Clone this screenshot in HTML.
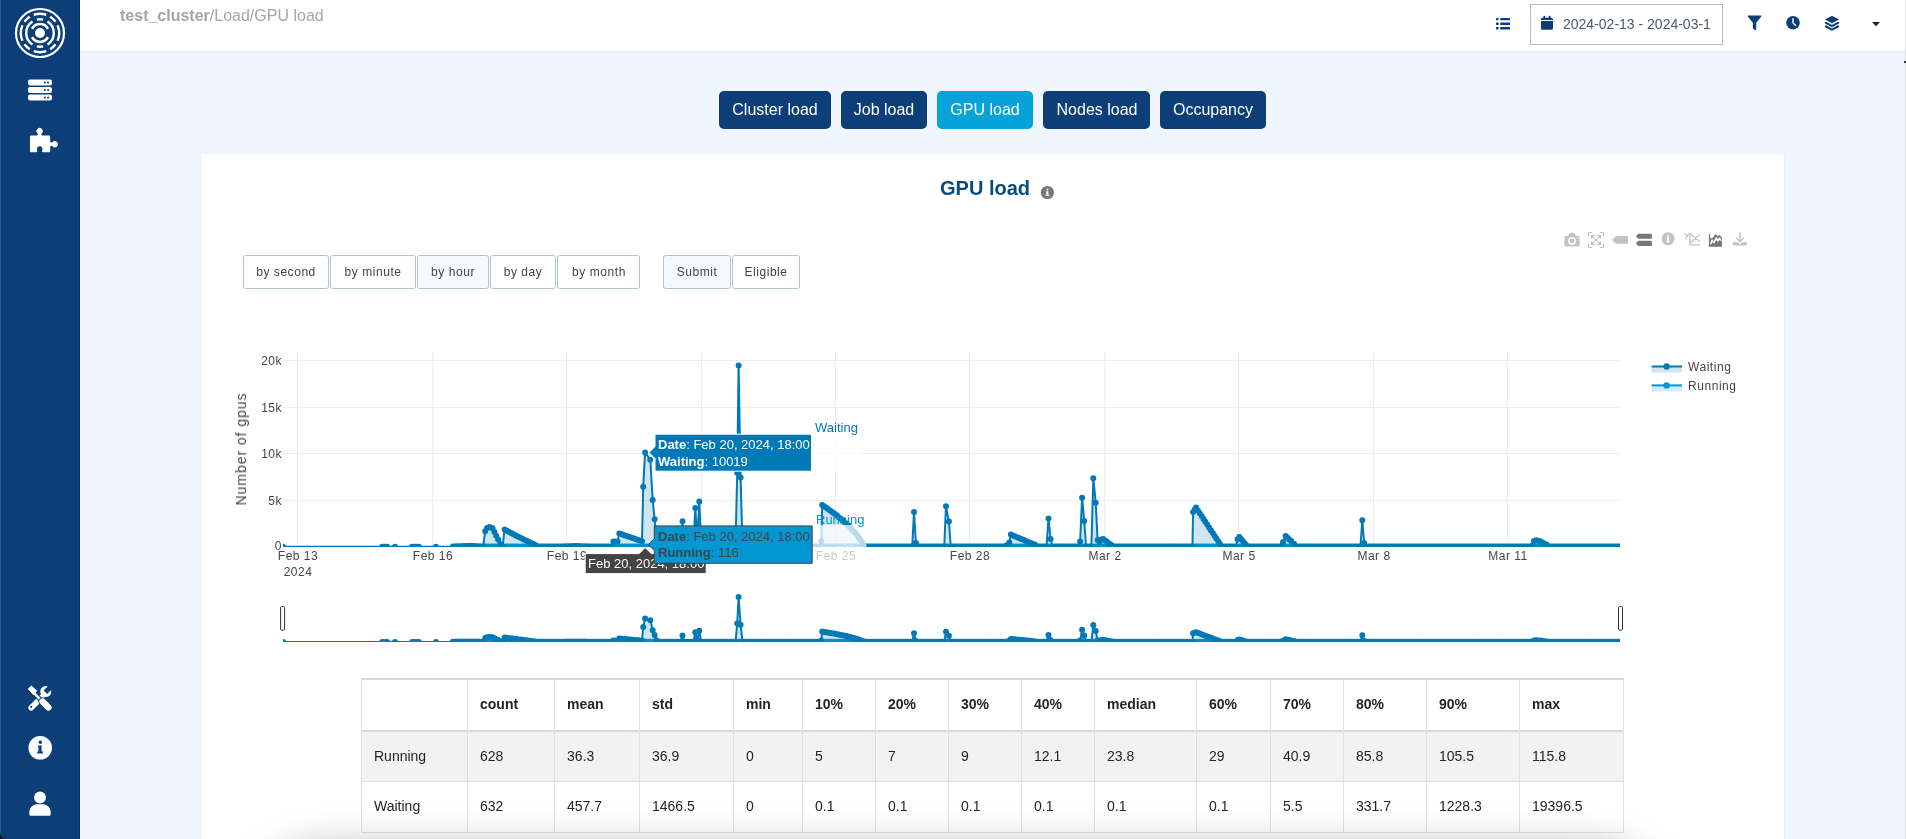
<!DOCTYPE html>
<html><head><meta charset="utf-8"><title>GPU load</title><style>
*{box-sizing:border-box;margin:0;padding:0}
html,body{width:1906px;height:839px;overflow:hidden;background:#eff6fe;font-family:"Liberation Sans", sans-serif}
.a{position:absolute;white-space:nowrap;will-change:transform}
b{font-weight:700}
</style></head><body>
<div class="a" style="left:0;top:829px;width:10px;height:10px;background:#111"></div>
<div class="a" style="left:0;top:0;width:80px;height:839px;background:#0c3e77;border-bottom-left-radius:6px"></div>
<div class="a" style="left:79px;top:0;width:1px;height:839px;background:#063170"></div>
<div class="a" style="left:0;top:0;width:1px;height:833px;background:#2b5a8e"></div>
<svg class="a" style="left:0;top:0" width="80" height="70"><g transform="translate(40,33)"><circle r="24" fill="none" stroke="#fff" stroke-width="2.2"/><path d="M-6.25,-18.15A19.2,19.2 0 0 1 6.25,-18.15M10.17,-16.28A19.2,19.2 0 0 1 15.53,-11.29M17.54,-7.81A19.2,19.2 0 0 1 17.54,7.81M15.53,11.29A19.2,19.2 0 0 1 10.17,16.28M6.25,18.15A19.2,19.2 0 0 1 -6.25,18.15M-10.17,16.28A19.2,19.2 0 0 1 -15.53,11.29M-17.54,7.81A19.2,19.2 0 0 1 -17.54,-7.81M-15.53,-11.29A19.2,19.2 0 0 1 -10.17,-16.28" fill="none" stroke="#fff" stroke-width="2.4"/><path d="M-3.10,-13.45A13.8,13.8 0 0 1 3.10,-13.45M7.52,-11.57A13.8,13.8 0 0 1 7.52,11.57M3.10,13.45A13.8,13.8 0 0 1 -3.10,13.45M-7.52,11.57A13.8,13.8 0 0 1 -7.52,-11.57" fill="none" stroke="#fff" stroke-width="2.4"/><path d="M-7.95,-4.23A9.0,9.0 0 0 1 7.95,-4.23M7.95,4.23A9.0,9.0 0 0 1 -7.95,4.23" fill="none" stroke="#fff" stroke-width="2.6"/><circle r="5" fill="#fff"/></g></svg>
<svg class="a" style="left:0;top:70px" width="80" height="40"><rect x="28" y="9.4" width="24" height="6.2" rx="2" fill="#fff"/><circle cx="44.8" cy="12.5" r="1" fill="#0c3e77"/><circle cx="48.1" cy="12.5" r="1" fill="#0c3e77"/><rect x="28" y="16.9" width="24" height="6.2" rx="2" fill="#fff"/><circle cx="44.8" cy="20.0" r="1" fill="#0c3e77"/><circle cx="48.1" cy="20.0" r="1" fill="#0c3e77"/><rect x="28" y="24.4" width="24" height="6.2" rx="2" fill="#fff"/><circle cx="44.8" cy="27.5" r="1" fill="#0c3e77"/><circle cx="48.1" cy="27.5" r="1" fill="#0c3e77"/></svg><svg class="a" style="left:0;top:120px" width="80" height="40"><path d="M30,16.5 Q30,15.6 31,15.6 L37,15.6 Q38.6,15.2 37.6,13.4 A3.1,3.1 0 1 1 41.6,13.4 Q40.6,15.2 42.2,15.6 L49.2,15.6 Q50.2,15.6 50.2,16.6 L50.2,21.6 Q50.6,23.2 52.4,22.2 A3.1,3.1 0 1 1 52.4,26.2 Q50.6,25.2 50.2,26.8 L50.2,31.2 Q50.2,32.2 49.2,32.2 L43,32.2 Q41.4,31.8 42.2,30.2 A2.8,2.8 0 1 0 37.2,30.2 Q38,31.8 36.4,32.2 L31,32.2 Q30,32.2 30,31.2 Z" fill="#fff"/></svg><svg class="a" style="left:0;top:680px" width="80" height="35"><line x1="41.5" y1="17.5" x2="31.2" y2="27.8" stroke="#fff" stroke-width="5.6" stroke-linecap="round"/><rect x="30.3" y="25.9" width="1.8" height="1.8" fill="#0c3e77"/><circle cx="45.8" cy="11.5" r="5.5" fill="#fff"/><path d="M43.6,10.5 L47.1,14 L52.7,8.4 L49.2,4.9 Z" fill="#0c3e77"/><line x1="34.5" y1="13.7" x2="41.5" y2="20.7" stroke="#0c3e77" stroke-width="4.6"/><line x1="34.5" y1="13.7" x2="41.5" y2="20.7" stroke="#fff" stroke-width="2.4"/><path d="M28.2,8.9 L31.3,6 L36.8,10.7 L33.6,14.8 Z" fill="#fff" stroke="#fff" stroke-width="0.8" stroke-linejoin="round"/><line x1="42.6" y1="21.6" x2="48.4" y2="27.4" stroke="#0c3e77" stroke-width="8.4" stroke-linecap="round"/><line x1="42.6" y1="21.6" x2="48.4" y2="27.4" stroke="#fff" stroke-width="6.4" stroke-linecap="round"/></svg><svg class="a" style="left:0;top:730px" width="80" height="35"><circle cx="40.2" cy="17.8" r="11.8" fill="#fff"/><circle cx="40.3" cy="12.3" r="1.7" fill="#0c3e77"/><path d="M38,15.4 h3.6 v6.2 h1.3 v1.9 h-5.6 v-1.9 h1.2 v-4.3 h-0.5 z" fill="#0c3e77"/></svg><svg class="a" style="left:0;top:785px" width="80" height="35"><circle cx="40" cy="12.5" r="5.9" fill="#fff"/><path d="M29.3,29.2 v-2.2 a7.8,7.8 0 0 1 7.8,-7.8 h5.8 a7.8,7.8 0 0 1 7.8,7.8 v2.2 q0,1.5 -1.5,1.5 h-18.4 q-1.5,0 -1.5,-1.5 z" fill="#fff"/></svg>
<div class="a" style="left:80px;top:0;width:1826px;height:51px;background:#fff"></div><div class="a" style="left:80px;top:51px;width:1826px;height:3px;background:linear-gradient(#e2e7ef,rgba(239,246,254,0))"></div><div class="a" style="left:120.30px;top:8.46px;font-size:16px;line-height:16px;color:#a6a6a6;"><b>test_cluster</b>/Load/GPU load</div><svg class="a" style="left:1490px;top:10px" width="30" height="30"><rect x="6" y="7.9" width="2.6" height="2.3" rx="0.6" fill="#0c3e77"/><rect x="10.2" y="7.9" width="9.8" height="2.3" rx="0.5" fill="#0c3e77"/><rect x="6" y="12.6" width="2.6" height="2.3" rx="0.6" fill="#0c3e77"/><rect x="10.2" y="12.6" width="9.8" height="2.3" rx="0.5" fill="#0c3e77"/><rect x="6" y="17.1" width="2.6" height="2.3" rx="0.6" fill="#0c3e77"/><rect x="10.2" y="17.1" width="9.8" height="2.3" rx="0.5" fill="#0c3e77"/></svg><div class="a" style="left:1530px;top:4px;width:193px;height:41px;border:1px solid #bcbcbc;background:#fff"></div><svg class="a" style="left:1535px;top:10px" width="25" height="25"><rect x="8.5" y="5.8" width="1.8" height="3" rx="0.6" fill="#0c3e77"/><rect x="13.7" y="5.8" width="1.8" height="3" rx="0.6" fill="#0c3e77"/><path d="M6,9.3 a1.5,1.5 0 0 1 1.5,-1.5 h9 a1.5,1.5 0 0 1 1.5,1.5 v0.7 h-12 z" fill="#0c3e77"/><path d="M6,10.9 h12 v7.3 a1.5,1.5 0 0 1 -1.5,1.5 h-9 a1.5,1.5 0 0 1 -1.5,-1.5 z" fill="#0c3e77"/></svg><div class="a" style="left:1562.50px;top:17.15px;font-size:14px;line-height:14px;color:#4e5a64;">2024-02-13 - 2024-03-1</div><svg class="a" style="left:1740px;top:10px" width="60" height="25"><path d="M7.3,5.5 h13.6 q1.1,0 0.4,1 l-5.1,6.3 v6.9 q0,1 -1,0.4 l-1.8,-1.2 q-0.5,-0.3 -0.5,-0.9 v-5.2 l-5.1,-6.3 q-0.7,-1 0.4,-1 z" fill="#0c3e77"/><circle cx="53" cy="12.8" r="6.8" fill="#0c3e77"/><path d="M53,8.6 v4.4 l2.6,2.2" stroke="#fff" stroke-width="1.4" fill="none" stroke-linecap="round"/></svg><svg class="a" style="left:1820px;top:10px" width="25" height="25"><path d="M12,5.7 l7,3.7 l-7,3.8 l-7,-3.8 z" fill="#0c3e77"/><path d="M5.2,12.4 l6.8,3.7 l6.8,-3.7" fill="none" stroke="#0c3e77" stroke-width="2.1" stroke-linejoin="round"/><path d="M5.2,16 l6.8,3.7 l6.8,-3.7" fill="none" stroke="#0c3e77" stroke-width="2.1" stroke-linejoin="round"/></svg><svg class="a" style="left:1868px;top:18px" width="16" height="12"><path d="M4,4 h8 l-4,4.2 z" fill="#222"/></svg><div class="a" style="left:1905px;top:0;width:1px;height:839px;background:#e2e2e2"></div>
<div class="a" style="left:719px;top:91px;width:112px;height:38px;border-radius:5px;background:#0c3e77"></div><div class="a" style="left:775.00px;top:101.56px;font-size:16px;line-height:16px;color:#fff;transform:translateX(-50%);">Cluster load</div><div class="a" style="left:841px;top:91px;width:86px;height:38px;border-radius:5px;background:#0c3e77"></div><div class="a" style="left:884.00px;top:101.56px;font-size:16px;line-height:16px;color:#fff;transform:translateX(-50%);">Job load</div><div class="a" style="left:937px;top:91px;width:96px;height:38px;border-radius:5px;background:#05a3d7"></div><div class="a" style="left:985.00px;top:101.56px;font-size:16px;line-height:16px;color:#fff;transform:translateX(-50%);">GPU load</div><div class="a" style="left:1043px;top:91px;width:107px;height:38px;border-radius:5px;background:#0c3e77"></div><div class="a" style="left:1096.50px;top:101.56px;font-size:16px;line-height:16px;color:#fff;transform:translateX(-50%);">Nodes load</div><div class="a" style="left:1160px;top:91px;width:106px;height:38px;border-radius:5px;background:#0c3e77"></div><div class="a" style="left:1213.00px;top:101.56px;font-size:16px;line-height:16px;color:#fff;transform:translateX(-50%);">Occupancy</div>
<div class="a" style="left:201px;top:154px;width:1583px;height:700px;background:#fff;box-shadow:0 0 1px rgba(160,180,220,0.35)"></div><div class="a" style="left:940.20px;top:178.17px;font-size:20px;line-height:20px;color:#0a4a7c;font-weight:700;">GPU load</div><svg class="a" style="left:1038px;top:183px" width="20" height="20"><circle cx="9.4" cy="9.5" r="6.6" fill="#777"/><circle cx="9.5" cy="6.4" r="1" fill="#fff"/><path d="M8.3,8.2 h2 v3.5 h0.8 v1.2 h-3.4 v-1.2 h0.8 v-2.3 h-0.2 z" fill="#fff"/></svg>
<svg class="a" style="left:1560px;top:228px" width="200" height="25"><path d="M6.00,7.70 h2.2 l1,-2 q0.3,-0.7 1,-0.7 h3.6 q0.7,0 1,0.7 l1,2 h2.2 q1.6,0 1.6,1.6 v7.7 q0,1.6 -1.6,1.6 h-12 q-1.6,0 -1.6,-1.6 v-7.7 q0,-1.6 1.6,-1.6 z" fill="#c4c4c4"/><circle cx="12" cy="12.900000000000006" r="3.9" fill="#fff"/><circle cx="12" cy="12.900000000000006" r="2.4" fill="#c4c4c4"/><circle cx="18" cy="9.699999999999989" r="0.6" fill="#fff"/><g transform="translate(28,4)" fill="none" stroke="#c4c4c4" stroke-width="1"><path d="M0.5,4 V0.5 H4 M12,0.5 H15.5 V4 M15.5,12 V15.5 H12 M4,15.5 H0.5 V12"/><path d="M3.5,3.5 L12.5,12.5 M12.5,3.5 L3.5,12.5"/></g><g transform="translate(28,4)" fill="#c4c4c4"><path d="M3,3 h4 l-4,4 z M13,3 v4 l-4,-4 z M13,13 h-4 l4,-4 z M3,13 v-4 l4,4 z"/></g><path d="M52.20,11.90 l3.8,-3.8 h12 v7.6 h-12 z" fill="#c4c4c4"/><path d="M75.80,8.30 l2.5,-2.5 h13.5 v4.9 h-13.5 z M75.80,15.30 l2.5,-2.5 h13.5 v5.2 h-13.5 z" fill="#777"/><circle cx="108.09999999999991" cy="10.800000000000011" r="6.5" fill="#c4c4c4"/><circle cx="108.20000000000005" cy="8" r="1" fill="#fff"/><path d="M107.00,9.60 h2 v3.6 h0.8 v1.1 h-3.5 v-1.1 h0.8 v-2.5 h-0.2 z" fill="#fff"/><g fill="none" stroke="#c4c4c4" stroke-width="1.3" stroke-linecap="round"><path d="M130.00,6.00 V16.80000000000001 H139.79999999999995 M130.50,6.00 L139.5999999999999,13.599999999999994 M130.50,15.00 L139.5999999999999,6.599999999999994"/><path d="M125.20,6.00 L127.29999999999995,8.400000000000006 M128.60,5.60 L126,10.800000000000011"/></g><path d="M148.90,18.70 V6 H150.0999999999999 V10 L151.5999999999999,10.599999999999994 L153.20000000000005,9.599999999999994 L154.5999999999999,7 L156,5.900000000000006 L157.5999999999999,8.400000000000006 L159.5,6.800000000000011 L161.9000000000001,9.599999999999994 V18.69999999999999 Z" fill="#777"/><path d="M150.60,16.20 L152.0999999999999,12.300000000000011 L154,14.599999999999994 L156.29999999999995,9.900000000000006 L157.9000000000001,13 L159.5999999999999,10.099999999999994 L161,12.599999999999994" fill="none" stroke="#fff" stroke-width="1.5" stroke-linejoin="round"/><path d="M179.90,4.00 V13.5 M176.00,9.80 l3.9,3.9 l3.9,-3.9" fill="none" stroke="#c4c4c4" stroke-width="1.4"/><path d="M172.90,14.30 h4.8 l2.2,2 l2.2,-2 h4.7 v3.3 h-13.9 z" fill="#c4c4c4"/></svg>
<svg class="a" style="left:0;top:0;overflow:visible" width="1" height="1"><rect x="243.5" y="255.5" width="85.0" height="33" rx="2" fill="#fff" stroke="#b3c2d7" stroke-width="1"/><rect x="330.5" y="255.5" width="85.0" height="33" rx="2" fill="#fff" stroke="#b3c2d7" stroke-width="1"/><rect x="417.5" y="255.5" width="71.0" height="33" rx="2" fill="#F4FAFF" stroke="#b3c2d7" stroke-width="1"/><rect x="490.5" y="255.5" width="65.0" height="33" rx="2" fill="#fff" stroke="#b3c2d7" stroke-width="1"/><rect x="557.5" y="255.5" width="82.0" height="33" rx="2" fill="#fff" stroke="#b3c2d7" stroke-width="1"/><rect x="663.5" y="255.5" width="67.0" height="33" rx="2" fill="#F4FAFF" stroke="#b3c2d7" stroke-width="1"/><rect x="732.5" y="255.5" width="67.0" height="33" rx="2" fill="#fff" stroke="#b3c2d7" stroke-width="1"/></svg><div class="a" style="left:286.00px;top:266.14px;font-size:12px;line-height:12px;color:#444;letter-spacing:0.55px;transform:translateX(-50%);">by second</div><div class="a" style="left:373.00px;top:266.14px;font-size:12px;line-height:12px;color:#444;letter-spacing:0.55px;transform:translateX(-50%);">by minute</div><div class="a" style="left:453.00px;top:266.14px;font-size:12px;line-height:12px;color:#444;letter-spacing:0.55px;transform:translateX(-50%);">by hour</div><div class="a" style="left:523.00px;top:266.14px;font-size:12px;line-height:12px;color:#444;letter-spacing:0.55px;transform:translateX(-50%);">by day</div><div class="a" style="left:598.50px;top:266.14px;font-size:12px;line-height:12px;color:#444;letter-spacing:0.55px;transform:translateX(-50%);">by month</div><div class="a" style="left:697.00px;top:266.14px;font-size:12px;line-height:12px;color:#444;letter-spacing:0.55px;transform:translateX(-50%);">Submit</div><div class="a" style="left:766.00px;top:266.14px;font-size:12px;line-height:12px;color:#444;letter-spacing:0.55px;transform:translateX(-50%);">Eligible</div>
<svg class="a" style="left:0;top:0" width="1906" height="839"><defs><clipPath id="pc"><rect x="283" y="352" width="1337" height="195"/></clipPath><clipPath id="rc"><rect x="283" y="592" width="1337" height="49.9"/></clipPath></defs><path d="M283,360.5H1620M283,407.5H1620M283,453.5H1620M283,500.5H1620M297.5,352V547M432.5,352V547M566.5,352V547M701.5,352V547M835.5,352V547M969.5,352V547M1104.5,352V547M1238.5,352V547M1373.5,352V547M1507.5,352V547" stroke="#eee" stroke-width="1" fill="none"/><g clip-path="url(#pc)"><path d="M453.0,546.4 L454.9,546.4 L456.7,546.4 L458.6,546.4 L460.5,546.4 L462.3,546.4 L464.2,546.4 L466.1,546.4 L467.9,546.4 L469.8,546.4 L471.7,546.4 L473.5,546.4 L475.4,546.4 L477.3,546.4 L479.2,546.4 L481.0,546.4 L482.9,546.4 L484.8,546.4 L486.6,546.4 L488.5,546.4 L490.4,546.4 L492.2,546.4 L494.1,546.4 L496.0,546.4 L497.8,546.4 L499.7,546.4 L501.6,546.4 L503.4,546.4 L505.3,546.4 L507.2,546.4 L509.0,546.4 L510.9,546.4 L512.8,546.4 L514.6,546.4 L516.5,546.4 L518.4,546.4 L520.2,546.4 L522.1,546.4 L524.0,546.4 L525.9,546.4 L527.7,546.4 L529.6,546.4 L531.5,546.4 L533.3,546.4 L535.2,546.4 L537.1,546.4 L538.9,546.4 L540.8,546.4 L542.7,546.4 L544.5,546.4 L546.4,546.4 L548.3,546.4 L550.1,546.4 L552.0,546.4 L553.9,546.4 L555.7,546.4 L557.6,546.4 L559.5,546.4 L561.3,546.4 L563.2,546.4 L565.1,546.4 L566.9,546.4 L568.8,546.4 L570.7,546.4 L572.6,546.4 L574.4,546.4 L576.3,546.4 L578.2,546.4 L580.0,546.4 L581.9,546.4 L583.8,546.4 L585.6,546.4 L587.5,546.4 L589.4,546.4 L591.2,546.4 L593.1,546.4 L595.0,546.4 L596.8,546.4 L598.7,546.4 L600.6,546.4 L602.4,546.4 L604.3,546.4 L606.2,546.4 L608.0,546.4 L609.9,546.4 L611.8,546.4 L613.6,546.4 L615.5,546.4 L617.4,546.4 L619.3,546.4 L621.1,546.4 L623.0,546.4 L624.9,546.4 L626.7,546.4 L628.6,546.4 L630.5,546.4 L632.3,546.4 L634.2,546.4 L636.1,546.4 L637.9,546.4 L639.8,546.4 L641.7,546.4 L643.5,546.4 L645.4,546.4 L647.3,546.4 L649.1,546.4 L651.0,546.4 L652.9,546.4 L654.7,546.4 L656.6,546.4 L658.5,546.4 L660.3,546.4 L662.2,546.4 L664.1,546.4 L666.0,546.4 L667.8,546.4 L669.7,546.4 L671.6,546.4 L673.4,546.4 L675.3,546.4 L677.2,546.4 L679.0,546.4 L680.9,546.4 L682.8,546.4 L684.6,546.4 L686.5,546.4 L688.4,546.4 L690.2,546.4 L692.1,546.4 L694.0,546.4 L695.8,546.4 L697.7,546.4 L699.6,546.4 L701.4,546.4 L703.3,546.4 L705.2,546.4 L707.0,546.4 L708.9,546.4 L710.8,546.4 L712.7,546.4 L714.5,546.4 L716.4,546.4 L718.3,546.4 L720.1,546.4 L722.0,546.4 L723.9,546.4 L725.7,546.4 L727.6,546.4 L729.5,546.4 L731.3,546.4 L733.2,546.4 L735.1,546.4 L736.9,546.4 L738.8,546.4 L740.7,546.4 L742.5,546.4 L744.4,546.4 L746.3,546.4 L748.1,546.4 L750.0,546.4 L751.9,546.4 L753.7,546.4 L755.6,546.4 L757.5,546.4 L759.4,546.4 L761.2,546.4 L763.1,546.4 L765.0,546.4 L766.8,546.4 L768.7,546.4 L770.6,546.4 L772.4,546.4 L774.3,546.4 L776.2,546.4 L778.0,546.4 L779.9,546.4 L781.8,546.4 L783.6,546.4 L785.5,546.4 L787.4,546.4 L789.2,546.4 L791.1,546.4 L793.0,546.4 L794.8,546.4 L796.7,546.4 L798.6,546.4 L800.4,546.4 L802.3,546.4 L804.2,546.4 L806.1,546.4 L807.9,546.4 L809.8,546.4 L811.7,546.4 L813.5,546.4 L815.4,546.4 L817.3,546.4 L819.1,546.4 L821.0,546.4 L822.9,546.4 L824.7,546.4 L826.6,546.4 L828.5,546.4 L830.3,546.4 L832.2,546.4 L834.1,546.4 L835.9,546.4 L837.8,546.4 L839.7,546.4 L841.5,546.4 L843.4,546.4 L845.3,546.4 L847.1,546.4 L849.0,546.4 L850.9,546.4 L852.8,546.4 L854.6,546.4 L856.5,546.4 L858.4,546.4 L860.2,546.4 L862.1,546.4 L864.0,546.4 L865.8,546.4 L867.7,546.4 L869.6,546.4 L871.4,546.4 L873.3,546.4 L875.2,546.4 L877.0,546.4 L878.9,546.4 L880.8,546.4 L882.6,546.4 L884.5,546.4 L886.4,546.4 L888.2,546.4 L890.1,546.4 L892.0,546.4 L893.8,546.4 L895.7,546.4 L897.6,546.4 L899.5,546.4 L901.3,546.4 L903.2,546.4 L905.1,546.4 L906.9,546.4 L908.8,546.4 L910.7,546.4 L912.5,546.4 L914.4,546.4 L916.3,546.4 L918.1,546.4 L920.0,546.4 L921.9,546.4 L923.7,546.4 L925.6,546.4 L927.5,546.4 L929.3,546.4 L931.2,546.4 L933.1,546.4 L934.9,546.4 L936.8,546.4 L938.7,546.4 L940.5,546.4 L942.4,546.4 L944.3,546.4 L946.2,546.4 L948.0,546.4 L949.9,546.4 L951.8,546.4 L953.6,546.4 L955.5,546.4 L957.4,546.4 L959.2,546.4 L961.1,546.4 L963.0,546.4 L964.8,546.4 L966.7,546.4 L968.6,546.4 L970.4,546.4 L972.3,546.4 L974.2,546.4 L976.0,546.4 L977.9,546.4 L979.8,546.4 L981.6,546.4 L983.5,546.4 L985.4,546.4 L987.2,546.4 L989.1,546.4 L991.0,546.4 L992.9,546.4 L994.7,546.4 L996.6,546.4 L998.5,546.4 L1000.3,546.4 L1002.2,546.4 L1004.1,546.4 L1005.9,546.4 L1007.8,546.4 L1009.7,546.4 L1011.5,546.4 L1013.4,546.4 L1015.3,546.4 L1017.1,546.4 L1019.0,546.4 L1020.9,546.4 L1022.7,546.4 L1024.6,546.4 L1026.5,546.4 L1028.3,546.4 L1030.2,546.4 L1032.1,546.4 L1033.9,546.4 L1035.8,546.4 L1037.7,546.4 L1039.6,546.4 L1041.4,546.4 L1043.3,546.4 L1045.2,546.4 L1047.0,546.4 L1048.9,546.4 L1050.8,546.4 L1052.6,546.4 L1054.5,546.4 L1056.4,546.4 L1058.2,546.4 L1060.1,546.4 L1062.0,546.4 L1063.8,546.4 L1065.7,546.4 L1067.6,546.4 L1069.4,546.4 L1071.3,546.4 L1073.2,546.4 L1075.0,546.4 L1076.9,546.4 L1078.8,546.4 L1080.6,546.4 L1082.5,546.4 L1084.4,546.4 L1086.3,546.4 L1088.1,546.4 L1090.0,546.4 L1091.9,546.4 L1093.7,546.4 L1095.6,546.4 L1097.5,546.4 L1099.3,546.4 L1101.2,546.4 L1103.1,546.4 L1104.9,546.4 L1106.8,546.4 L1108.7,546.4 L1110.5,546.4 L1112.4,546.4 L1114.3,546.4 L1116.1,546.4 L1118.0,546.4 L1119.9,546.4 L1121.7,546.4 L1123.6,546.4 L1125.5,546.4 L1127.3,546.4 L1129.2,546.4 L1131.1,546.4 L1133.0,546.4 L1134.8,546.4 L1136.7,546.4 L1138.6,546.4 L1140.4,546.4 L1142.3,546.4 L1144.2,546.4 L1146.0,546.4 L1147.9,546.4 L1149.8,546.4 L1151.6,546.4 L1153.5,546.4 L1155.4,546.4 L1157.2,546.4 L1159.1,546.4 L1161.0,546.4 L1162.8,546.4 L1164.7,546.4 L1166.6,546.4 L1168.4,546.4 L1170.3,546.4 L1172.2,546.4 L1174.0,546.4 L1175.9,546.4 L1177.8,546.4 L1179.7,546.4 L1181.5,546.4 L1183.4,546.4 L1185.3,546.4 L1187.1,546.4 L1189.0,546.4 L1190.9,546.4 L1192.7,546.4 L1194.6,546.4 L1196.5,546.4 L1198.3,546.4 L1200.2,546.4 L1202.1,546.4 L1203.9,546.4 L1205.8,546.4 L1207.7,546.4 L1209.5,546.4 L1211.4,546.4 L1213.3,546.4 L1215.1,546.4 L1217.0,546.4 L1218.9,546.4 L1220.7,546.4 L1222.6,546.4 L1224.5,546.4 L1226.4,546.4 L1228.2,546.4 L1230.1,546.4 L1232.0,546.4 L1233.8,546.4 L1235.7,546.4 L1237.6,546.4 L1239.4,546.4 L1241.3,546.4 L1243.2,546.4 L1245.0,546.4 L1246.9,546.4 L1248.8,546.4 L1250.6,546.4 L1252.5,546.4 L1254.4,546.4 L1256.2,546.4 L1258.1,546.4 L1260.0,546.4 L1261.8,546.4 L1263.7,546.4 L1265.6,546.4 L1267.4,546.4 L1269.3,546.4 L1271.2,546.4 L1273.1,546.4 L1274.9,546.4 L1276.8,546.4 L1278.7,546.4 L1280.5,546.4 L1282.4,546.4 L1284.3,546.4 L1286.1,546.4 L1288.0,546.4 L1289.9,546.4 L1291.7,546.4 L1293.6,546.4 L1295.5,546.4 L1297.3,546.4 L1299.2,546.4 L1301.1,546.4 L1302.9,546.4 L1304.8,546.4 L1306.7,546.4 L1308.5,546.4 L1310.4,546.4 L1312.3,546.4 L1314.1,546.4 L1316.0,546.4 L1317.9,546.4 L1319.8,546.4 L1321.6,546.4 L1323.5,546.4 L1325.4,546.4 L1327.2,546.4 L1329.1,546.4 L1331.0,546.4 L1332.8,546.4 L1334.7,546.4 L1336.6,546.4 L1338.4,546.4 L1340.3,546.4 L1342.2,546.4 L1344.0,546.4 L1345.9,546.4 L1347.8,546.4 L1349.6,546.4 L1351.5,546.4 L1353.4,546.4 L1355.2,546.4 L1357.1,546.4 L1359.0,546.4 L1360.8,546.4 L1362.7,546.4 L1364.6,546.4 L1366.5,546.4 L1368.3,546.4 L1370.2,546.4 L1372.1,546.4 L1373.9,546.4 L1375.8,546.4 L1377.7,546.4 L1379.5,546.4 L1381.4,546.4 L1383.3,546.4 L1385.1,546.4 L1387.0,546.4 L1388.9,546.4 L1390.7,546.4 L1392.6,546.4 L1394.5,546.4 L1396.3,546.4 L1398.2,546.4 L1400.1,546.4 L1401.9,546.4 L1403.8,546.4 L1405.7,546.4 L1407.5,546.4 L1409.4,546.4 L1411.3,546.4 L1413.2,546.4 L1415.0,546.4 L1416.9,546.4 L1418.8,546.4 L1420.6,546.4 L1422.5,546.4 L1424.4,546.4 L1426.2,546.4 L1428.1,546.4 L1430.0,546.4 L1431.8,546.4 L1433.7,546.4 L1435.6,546.4 L1437.4,546.4 L1439.3,546.4 L1441.2,546.4 L1443.0,546.4 L1444.9,546.4 L1446.8,546.4 L1448.6,546.4 L1450.5,546.4 L1452.4,546.4 L1454.2,546.4 L1456.1,546.4 L1458.0,546.4 L1459.9,546.4 L1461.7,546.4 L1463.6,546.4 L1465.5,546.4 L1467.3,546.4 L1469.2,546.4 L1471.1,546.4 L1472.9,546.4 L1474.8,546.4 L1476.7,546.4 L1478.5,546.4 L1480.4,546.4 L1482.3,546.4 L1484.1,546.4 L1486.0,546.4 L1487.9,546.4 L1489.7,546.4 L1491.6,546.4 L1493.5,546.4 L1495.3,546.4 L1497.2,546.4 L1499.1,546.4 L1500.9,546.4 L1502.8,546.4 L1504.7,546.4 L1506.6,546.4 L1508.4,546.4 L1510.3,546.4 L1512.2,546.4 L1514.0,546.4 L1515.9,546.4 L1517.8,546.4 L1519.6,546.4 L1521.5,546.4 L1523.4,546.4 L1525.2,546.4 L1527.1,546.4 L1529.0,546.4 L1530.8,546.4 L1532.7,546.4 L1534.6,546.4 L1536.4,546.4 L1538.3,546.4 L1540.2,546.4 L1542.0,546.4 L1543.9,546.4 L1545.8,546.4 L1547.6,546.4 L1549.5,546.4 L1551.4,546.4 L1553.3,546.4 L1555.1,546.4 L1557.0,546.4 L1558.9,546.4 L1560.7,546.4 L1562.6,546.4 L1564.5,546.4 L1566.3,546.4 L1568.2,546.4 L1570.1,546.4 L1571.9,546.4 L1573.8,546.4 L1575.7,546.4 L1577.5,546.4 L1579.4,546.4 L1581.3,546.4 L1583.1,546.4 L1585.0,546.4 L1586.9,546.4 L1588.7,546.4 L1590.6,546.4 L1592.5,546.4 L1594.3,546.4 L1596.2,546.4 L1598.1,546.4 L1600.0,546.4 L1601.8,546.4 L1603.7,546.4 L1605.6,546.4 L1607.4,546.4 L1609.3,546.4 L1611.2,546.4 L1613.0,546.4 L1614.9,546.4 L1616.8,546.4 L1618.6,546.4 L1620.0,546.4 L1620.0,546.8 L453.0,546.8 Z" fill="rgba(0,151,211,0.19)" stroke="none"/><path d="M453.0,546.4 L454.9,546.4 L456.7,546.4 L458.6,546.4 L460.5,546.4 L462.3,546.4 L464.2,546.4 L466.1,546.4 L467.9,546.4 L469.8,546.4 L471.7,546.4 L473.5,546.4 L475.4,546.4 L477.3,546.4 L479.2,546.4 L481.0,546.4 L482.9,546.4 L484.8,546.4 L486.6,546.4 L488.5,546.4 L490.4,546.4 L492.2,546.4 L494.1,546.4 L496.0,546.4 L497.8,546.4 L499.7,546.4 L501.6,546.4 L503.4,546.4 L505.3,546.4 L507.2,546.4 L509.0,546.4 L510.9,546.4 L512.8,546.4 L514.6,546.4 L516.5,546.4 L518.4,546.4 L520.2,546.4 L522.1,546.4 L524.0,546.4 L525.9,546.4 L527.7,546.4 L529.6,546.4 L531.5,546.4 L533.3,546.4 L535.2,546.4 L537.1,546.4 L538.9,546.4 L540.8,546.4 L542.7,546.4 L544.5,546.4 L546.4,546.4 L548.3,546.4 L550.1,546.4 L552.0,546.4 L553.9,546.4 L555.7,546.4 L557.6,546.4 L559.5,546.4 L561.3,546.4 L563.2,546.4 L565.1,546.4 L566.9,546.4 L568.8,546.4 L570.7,546.4 L572.6,546.4 L574.4,546.4 L576.3,546.4 L578.2,546.4 L580.0,546.4 L581.9,546.4 L583.8,546.4 L585.6,546.4 L587.5,546.4 L589.4,546.4 L591.2,546.4 L593.1,546.4 L595.0,546.4 L596.8,546.4 L598.7,546.4 L600.6,546.4 L602.4,546.4 L604.3,546.4 L606.2,546.4 L608.0,546.4 L609.9,546.4 L611.8,546.4 L613.6,546.4 L615.5,546.4 L617.4,546.4 L619.3,546.4 L621.1,546.4 L623.0,546.4 L624.9,546.4 L626.7,546.4 L628.6,546.4 L630.5,546.4 L632.3,546.4 L634.2,546.4 L636.1,546.4 L637.9,546.4 L639.8,546.4 L641.7,546.4 L643.5,546.4 L645.4,546.4 L647.3,546.4 L649.1,546.4 L651.0,546.4 L652.9,546.4 L654.7,546.4 L656.6,546.4 L658.5,546.4 L660.3,546.4 L662.2,546.4 L664.1,546.4 L666.0,546.4 L667.8,546.4 L669.7,546.4 L671.6,546.4 L673.4,546.4 L675.3,546.4 L677.2,546.4 L679.0,546.4 L680.9,546.4 L682.8,546.4 L684.6,546.4 L686.5,546.4 L688.4,546.4 L690.2,546.4 L692.1,546.4 L694.0,546.4 L695.8,546.4 L697.7,546.4 L699.6,546.4 L701.4,546.4 L703.3,546.4 L705.2,546.4 L707.0,546.4 L708.9,546.4 L710.8,546.4 L712.7,546.4 L714.5,546.4 L716.4,546.4 L718.3,546.4 L720.1,546.4 L722.0,546.4 L723.9,546.4 L725.7,546.4 L727.6,546.4 L729.5,546.4 L731.3,546.4 L733.2,546.4 L735.1,546.4 L736.9,546.4 L738.8,546.4 L740.7,546.4 L742.5,546.4 L744.4,546.4 L746.3,546.4 L748.1,546.4 L750.0,546.4 L751.9,546.4 L753.7,546.4 L755.6,546.4 L757.5,546.4 L759.4,546.4 L761.2,546.4 L763.1,546.4 L765.0,546.4 L766.8,546.4 L768.7,546.4 L770.6,546.4 L772.4,546.4 L774.3,546.4 L776.2,546.4 L778.0,546.4 L779.9,546.4 L781.8,546.4 L783.6,546.4 L785.5,546.4 L787.4,546.4 L789.2,546.4 L791.1,546.4 L793.0,546.4 L794.8,546.4 L796.7,546.4 L798.6,546.4 L800.4,546.4 L802.3,546.4 L804.2,546.4 L806.1,546.4 L807.9,546.4 L809.8,546.4 L811.7,546.4 L813.5,546.4 L815.4,546.4 L817.3,546.4 L819.1,546.4 L821.0,546.4 L822.9,546.4 L824.7,546.4 L826.6,546.4 L828.5,546.4 L830.3,546.4 L832.2,546.4 L834.1,546.4 L835.9,546.4 L837.8,546.4 L839.7,546.4 L841.5,546.4 L843.4,546.4 L845.3,546.4 L847.1,546.4 L849.0,546.4 L850.9,546.4 L852.8,546.4 L854.6,546.4 L856.5,546.4 L858.4,546.4 L860.2,546.4 L862.1,546.4 L864.0,546.4 L865.8,546.4 L867.7,546.4 L869.6,546.4 L871.4,546.4 L873.3,546.4 L875.2,546.4 L877.0,546.4 L878.9,546.4 L880.8,546.4 L882.6,546.4 L884.5,546.4 L886.4,546.4 L888.2,546.4 L890.1,546.4 L892.0,546.4 L893.8,546.4 L895.7,546.4 L897.6,546.4 L899.5,546.4 L901.3,546.4 L903.2,546.4 L905.1,546.4 L906.9,546.4 L908.8,546.4 L910.7,546.4 L912.5,546.4 L914.4,546.4 L916.3,546.4 L918.1,546.4 L920.0,546.4 L921.9,546.4 L923.7,546.4 L925.6,546.4 L927.5,546.4 L929.3,546.4 L931.2,546.4 L933.1,546.4 L934.9,546.4 L936.8,546.4 L938.7,546.4 L940.5,546.4 L942.4,546.4 L944.3,546.4 L946.2,546.4 L948.0,546.4 L949.9,546.4 L951.8,546.4 L953.6,546.4 L955.5,546.4 L957.4,546.4 L959.2,546.4 L961.1,546.4 L963.0,546.4 L964.8,546.4 L966.7,546.4 L968.6,546.4 L970.4,546.4 L972.3,546.4 L974.2,546.4 L976.0,546.4 L977.9,546.4 L979.8,546.4 L981.6,546.4 L983.5,546.4 L985.4,546.4 L987.2,546.4 L989.1,546.4 L991.0,546.4 L992.9,546.4 L994.7,546.4 L996.6,546.4 L998.5,546.4 L1000.3,546.4 L1002.2,546.4 L1004.1,546.4 L1005.9,546.4 L1007.8,546.4 L1009.7,546.4 L1011.5,546.4 L1013.4,546.4 L1015.3,546.4 L1017.1,546.4 L1019.0,546.4 L1020.9,546.4 L1022.7,546.4 L1024.6,546.4 L1026.5,546.4 L1028.3,546.4 L1030.2,546.4 L1032.1,546.4 L1033.9,546.4 L1035.8,546.4 L1037.7,546.4 L1039.6,546.4 L1041.4,546.4 L1043.3,546.4 L1045.2,546.4 L1047.0,546.4 L1048.9,546.4 L1050.8,546.4 L1052.6,546.4 L1054.5,546.4 L1056.4,546.4 L1058.2,546.4 L1060.1,546.4 L1062.0,546.4 L1063.8,546.4 L1065.7,546.4 L1067.6,546.4 L1069.4,546.4 L1071.3,546.4 L1073.2,546.4 L1075.0,546.4 L1076.9,546.4 L1078.8,546.4 L1080.6,546.4 L1082.5,546.4 L1084.4,546.4 L1086.3,546.4 L1088.1,546.4 L1090.0,546.4 L1091.9,546.4 L1093.7,546.4 L1095.6,546.4 L1097.5,546.4 L1099.3,546.4 L1101.2,546.4 L1103.1,546.4 L1104.9,546.4 L1106.8,546.4 L1108.7,546.4 L1110.5,546.4 L1112.4,546.4 L1114.3,546.4 L1116.1,546.4 L1118.0,546.4 L1119.9,546.4 L1121.7,546.4 L1123.6,546.4 L1125.5,546.4 L1127.3,546.4 L1129.2,546.4 L1131.1,546.4 L1133.0,546.4 L1134.8,546.4 L1136.7,546.4 L1138.6,546.4 L1140.4,546.4 L1142.3,546.4 L1144.2,546.4 L1146.0,546.4 L1147.9,546.4 L1149.8,546.4 L1151.6,546.4 L1153.5,546.4 L1155.4,546.4 L1157.2,546.4 L1159.1,546.4 L1161.0,546.4 L1162.8,546.4 L1164.7,546.4 L1166.6,546.4 L1168.4,546.4 L1170.3,546.4 L1172.2,546.4 L1174.0,546.4 L1175.9,546.4 L1177.8,546.4 L1179.7,546.4 L1181.5,546.4 L1183.4,546.4 L1185.3,546.4 L1187.1,546.4 L1189.0,546.4 L1190.9,546.4 L1192.7,546.4 L1194.6,546.4 L1196.5,546.4 L1198.3,546.4 L1200.2,546.4 L1202.1,546.4 L1203.9,546.4 L1205.8,546.4 L1207.7,546.4 L1209.5,546.4 L1211.4,546.4 L1213.3,546.4 L1215.1,546.4 L1217.0,546.4 L1218.9,546.4 L1220.7,546.4 L1222.6,546.4 L1224.5,546.4 L1226.4,546.4 L1228.2,546.4 L1230.1,546.4 L1232.0,546.4 L1233.8,546.4 L1235.7,546.4 L1237.6,546.4 L1239.4,546.4 L1241.3,546.4 L1243.2,546.4 L1245.0,546.4 L1246.9,546.4 L1248.8,546.4 L1250.6,546.4 L1252.5,546.4 L1254.4,546.4 L1256.2,546.4 L1258.1,546.4 L1260.0,546.4 L1261.8,546.4 L1263.7,546.4 L1265.6,546.4 L1267.4,546.4 L1269.3,546.4 L1271.2,546.4 L1273.1,546.4 L1274.9,546.4 L1276.8,546.4 L1278.7,546.4 L1280.5,546.4 L1282.4,546.4 L1284.3,546.4 L1286.1,546.4 L1288.0,546.4 L1289.9,546.4 L1291.7,546.4 L1293.6,546.4 L1295.5,546.4 L1297.3,546.4 L1299.2,546.4 L1301.1,546.4 L1302.9,546.4 L1304.8,546.4 L1306.7,546.4 L1308.5,546.4 L1310.4,546.4 L1312.3,546.4 L1314.1,546.4 L1316.0,546.4 L1317.9,546.4 L1319.8,546.4 L1321.6,546.4 L1323.5,546.4 L1325.4,546.4 L1327.2,546.4 L1329.1,546.4 L1331.0,546.4 L1332.8,546.4 L1334.7,546.4 L1336.6,546.4 L1338.4,546.4 L1340.3,546.4 L1342.2,546.4 L1344.0,546.4 L1345.9,546.4 L1347.8,546.4 L1349.6,546.4 L1351.5,546.4 L1353.4,546.4 L1355.2,546.4 L1357.1,546.4 L1359.0,546.4 L1360.8,546.4 L1362.7,546.4 L1364.6,546.4 L1366.5,546.4 L1368.3,546.4 L1370.2,546.4 L1372.1,546.4 L1373.9,546.4 L1375.8,546.4 L1377.7,546.4 L1379.5,546.4 L1381.4,546.4 L1383.3,546.4 L1385.1,546.4 L1387.0,546.4 L1388.9,546.4 L1390.7,546.4 L1392.6,546.4 L1394.5,546.4 L1396.3,546.4 L1398.2,546.4 L1400.1,546.4 L1401.9,546.4 L1403.8,546.4 L1405.7,546.4 L1407.5,546.4 L1409.4,546.4 L1411.3,546.4 L1413.2,546.4 L1415.0,546.4 L1416.9,546.4 L1418.8,546.4 L1420.6,546.4 L1422.5,546.4 L1424.4,546.4 L1426.2,546.4 L1428.1,546.4 L1430.0,546.4 L1431.8,546.4 L1433.7,546.4 L1435.6,546.4 L1437.4,546.4 L1439.3,546.4 L1441.2,546.4 L1443.0,546.4 L1444.9,546.4 L1446.8,546.4 L1448.6,546.4 L1450.5,546.4 L1452.4,546.4 L1454.2,546.4 L1456.1,546.4 L1458.0,546.4 L1459.9,546.4 L1461.7,546.4 L1463.6,546.4 L1465.5,546.4 L1467.3,546.4 L1469.2,546.4 L1471.1,546.4 L1472.9,546.4 L1474.8,546.4 L1476.7,546.4 L1478.5,546.4 L1480.4,546.4 L1482.3,546.4 L1484.1,546.4 L1486.0,546.4 L1487.9,546.4 L1489.7,546.4 L1491.6,546.4 L1493.5,546.4 L1495.3,546.4 L1497.2,546.4 L1499.1,546.4 L1500.9,546.4 L1502.8,546.4 L1504.7,546.4 L1506.6,546.4 L1508.4,546.4 L1510.3,546.4 L1512.2,546.4 L1514.0,546.4 L1515.9,546.4 L1517.8,546.4 L1519.6,546.4 L1521.5,546.4 L1523.4,546.4 L1525.2,546.4 L1527.1,546.4 L1529.0,546.4 L1530.8,546.4 L1532.7,546.4 L1534.6,546.4 L1536.4,546.4 L1538.3,546.4 L1540.2,546.4 L1542.0,546.4 L1543.9,546.4 L1545.8,546.4 L1547.6,546.4 L1549.5,546.4 L1551.4,546.4 L1553.3,546.4 L1555.1,546.4 L1557.0,546.4 L1558.9,546.4 L1560.7,546.4 L1562.6,546.4 L1564.5,546.4 L1566.3,546.4 L1568.2,546.4 L1570.1,546.4 L1571.9,546.4 L1573.8,546.4 L1575.7,546.4 L1577.5,546.4 L1579.4,546.4 L1581.3,546.4 L1583.1,546.4 L1585.0,546.4 L1586.9,546.4 L1588.7,546.4 L1590.6,546.4 L1592.5,546.4 L1594.3,546.4 L1596.2,546.4 L1598.1,546.4 L1600.0,546.4 L1601.8,546.4 L1603.7,546.4 L1605.6,546.4 L1607.4,546.4 L1609.3,546.4 L1611.2,546.4 L1613.0,546.4 L1614.9,546.4 L1616.8,546.4 L1618.6,546.4 L1620.0,546.4" fill="none" stroke="#0097d3" stroke-width="2.0" stroke-linejoin="round"/><path d="M453.0,546.4h0M454.9,546.4h0M456.7,546.4h0M458.6,546.4h0M460.5,546.4h0M462.3,546.4h0M464.2,546.4h0M466.1,546.4h0M467.9,546.4h0M469.8,546.4h0M471.7,546.4h0M473.5,546.4h0M475.4,546.4h0M477.3,546.4h0M479.2,546.4h0M481.0,546.4h0M482.9,546.4h0M484.8,546.4h0M486.6,546.4h0M488.5,546.4h0M490.4,546.4h0M492.2,546.4h0M494.1,546.4h0M496.0,546.4h0M497.8,546.4h0M499.7,546.4h0M501.6,546.4h0M503.4,546.4h0M505.3,546.4h0M507.2,546.4h0M509.0,546.4h0M510.9,546.4h0M512.8,546.4h0M514.6,546.4h0M516.5,546.4h0M518.4,546.4h0M520.2,546.4h0M522.1,546.4h0M524.0,546.4h0M525.9,546.4h0M527.7,546.4h0M529.6,546.4h0M531.5,546.4h0M533.3,546.4h0M535.2,546.4h0M537.1,546.4h0M538.9,546.4h0M540.8,546.4h0M542.7,546.4h0M544.5,546.4h0M546.4,546.4h0M548.3,546.4h0M550.1,546.4h0M552.0,546.4h0M553.9,546.4h0M555.7,546.4h0M557.6,546.4h0M559.5,546.4h0M561.3,546.4h0M563.2,546.4h0M565.1,546.4h0M566.9,546.4h0M568.8,546.4h0M570.7,546.4h0M572.6,546.4h0M574.4,546.4h0M576.3,546.4h0M578.2,546.4h0M580.0,546.4h0M581.9,546.4h0M583.8,546.4h0M585.6,546.4h0M587.5,546.4h0M589.4,546.4h0M591.2,546.4h0M593.1,546.4h0M595.0,546.4h0M596.8,546.4h0M598.7,546.4h0M600.6,546.4h0M602.4,546.4h0M604.3,546.4h0M606.2,546.4h0M608.0,546.4h0M609.9,546.4h0M611.8,546.4h0M613.6,546.4h0M615.5,546.4h0M617.4,546.4h0M619.3,546.4h0M621.1,546.4h0M623.0,546.4h0M624.9,546.4h0M626.7,546.4h0M628.6,546.4h0M630.5,546.4h0M632.3,546.4h0M634.2,546.4h0M636.1,546.4h0M637.9,546.4h0M639.8,546.4h0M641.7,546.4h0M643.5,546.4h0M645.4,546.4h0M647.3,546.4h0M649.1,546.4h0M651.0,546.4h0M652.9,546.4h0M654.7,546.4h0M656.6,546.4h0M658.5,546.4h0M660.3,546.4h0M662.2,546.4h0M664.1,546.4h0M666.0,546.4h0M667.8,546.4h0M669.7,546.4h0M671.6,546.4h0M673.4,546.4h0M675.3,546.4h0M677.2,546.4h0M679.0,546.4h0M680.9,546.4h0M682.8,546.4h0M684.6,546.4h0M686.5,546.4h0M688.4,546.4h0M690.2,546.4h0M692.1,546.4h0M694.0,546.4h0M695.8,546.4h0M697.7,546.4h0M699.6,546.4h0M701.4,546.4h0M703.3,546.4h0M705.2,546.4h0M707.0,546.4h0M708.9,546.4h0M710.8,546.4h0M712.7,546.4h0M714.5,546.4h0M716.4,546.4h0M718.3,546.4h0M720.1,546.4h0M722.0,546.4h0M723.9,546.4h0M725.7,546.4h0M727.6,546.4h0M729.5,546.4h0M731.3,546.4h0M733.2,546.4h0M735.1,546.4h0M736.9,546.4h0M738.8,546.4h0M740.7,546.4h0M742.5,546.4h0M744.4,546.4h0M746.3,546.4h0M748.1,546.4h0M750.0,546.4h0M751.9,546.4h0M753.7,546.4h0M755.6,546.4h0M757.5,546.4h0M759.4,546.4h0M761.2,546.4h0M763.1,546.4h0M765.0,546.4h0M766.8,546.4h0M768.7,546.4h0M770.6,546.4h0M772.4,546.4h0M774.3,546.4h0M776.2,546.4h0M778.0,546.4h0M779.9,546.4h0M781.8,546.4h0M783.6,546.4h0M785.5,546.4h0M787.4,546.4h0M789.2,546.4h0M791.1,546.4h0M793.0,546.4h0M794.8,546.4h0M796.7,546.4h0M798.6,546.4h0M800.4,546.4h0M802.3,546.4h0M804.2,546.4h0M806.1,546.4h0M807.9,546.4h0M809.8,546.4h0M811.7,546.4h0M813.5,546.4h0M815.4,546.4h0M817.3,546.4h0M819.1,546.4h0M821.0,546.4h0M822.9,546.4h0M824.7,546.4h0M826.6,546.4h0M828.5,546.4h0M830.3,546.4h0M832.2,546.4h0M834.1,546.4h0M835.9,546.4h0M837.8,546.4h0M839.7,546.4h0M841.5,546.4h0M843.4,546.4h0M845.3,546.4h0M847.1,546.4h0M849.0,546.4h0M850.9,546.4h0M852.8,546.4h0M854.6,546.4h0M856.5,546.4h0M858.4,546.4h0M860.2,546.4h0M862.1,546.4h0M864.0,546.4h0M865.8,546.4h0M867.7,546.4h0M869.6,546.4h0M871.4,546.4h0M873.3,546.4h0M875.2,546.4h0M877.0,546.4h0M878.9,546.4h0M880.8,546.4h0M882.6,546.4h0M884.5,546.4h0M886.4,546.4h0M888.2,546.4h0M890.1,546.4h0M892.0,546.4h0M893.8,546.4h0M895.7,546.4h0M897.6,546.4h0M899.5,546.4h0M901.3,546.4h0M903.2,546.4h0M905.1,546.4h0M906.9,546.4h0M908.8,546.4h0M910.7,546.4h0M912.5,546.4h0M914.4,546.4h0M916.3,546.4h0M918.1,546.4h0M920.0,546.4h0M921.9,546.4h0M923.7,546.4h0M925.6,546.4h0M927.5,546.4h0M929.3,546.4h0M931.2,546.4h0M933.1,546.4h0M934.9,546.4h0M936.8,546.4h0M938.7,546.4h0M940.5,546.4h0M942.4,546.4h0M944.3,546.4h0M946.2,546.4h0M948.0,546.4h0M949.9,546.4h0M951.8,546.4h0M953.6,546.4h0M955.5,546.4h0M957.4,546.4h0M959.2,546.4h0M961.1,546.4h0M963.0,546.4h0M964.8,546.4h0M966.7,546.4h0M968.6,546.4h0M970.4,546.4h0M972.3,546.4h0M974.2,546.4h0M976.0,546.4h0M977.9,546.4h0M979.8,546.4h0M981.6,546.4h0M983.5,546.4h0M985.4,546.4h0M987.2,546.4h0M989.1,546.4h0M991.0,546.4h0M992.9,546.4h0M994.7,546.4h0M996.6,546.4h0M998.5,546.4h0M1000.3,546.4h0M1002.2,546.4h0M1004.1,546.4h0M1005.9,546.4h0M1007.8,546.4h0M1009.7,546.4h0M1011.5,546.4h0M1013.4,546.4h0M1015.3,546.4h0M1017.1,546.4h0M1019.0,546.4h0M1020.9,546.4h0M1022.7,546.4h0M1024.6,546.4h0M1026.5,546.4h0M1028.3,546.4h0M1030.2,546.4h0M1032.1,546.4h0M1033.9,546.4h0M1035.8,546.4h0M1037.7,546.4h0M1039.6,546.4h0M1041.4,546.4h0M1043.3,546.4h0M1045.2,546.4h0M1047.0,546.4h0M1048.9,546.4h0M1050.8,546.4h0M1052.6,546.4h0M1054.5,546.4h0M1056.4,546.4h0M1058.2,546.4h0M1060.1,546.4h0M1062.0,546.4h0M1063.8,546.4h0M1065.7,546.4h0M1067.6,546.4h0M1069.4,546.4h0M1071.3,546.4h0M1073.2,546.4h0M1075.0,546.4h0M1076.9,546.4h0M1078.8,546.4h0M1080.6,546.4h0M1082.5,546.4h0M1084.4,546.4h0M1086.3,546.4h0M1088.1,546.4h0M1090.0,546.4h0M1091.9,546.4h0M1093.7,546.4h0M1095.6,546.4h0M1097.5,546.4h0M1099.3,546.4h0M1101.2,546.4h0M1103.1,546.4h0M1104.9,546.4h0M1106.8,546.4h0M1108.7,546.4h0M1110.5,546.4h0M1112.4,546.4h0M1114.3,546.4h0M1116.1,546.4h0M1118.0,546.4h0M1119.9,546.4h0M1121.7,546.4h0M1123.6,546.4h0M1125.5,546.4h0M1127.3,546.4h0M1129.2,546.4h0M1131.1,546.4h0M1133.0,546.4h0M1134.8,546.4h0M1136.7,546.4h0M1138.6,546.4h0M1140.4,546.4h0M1142.3,546.4h0M1144.2,546.4h0M1146.0,546.4h0M1147.9,546.4h0M1149.8,546.4h0M1151.6,546.4h0M1153.5,546.4h0M1155.4,546.4h0M1157.2,546.4h0M1159.1,546.4h0M1161.0,546.4h0M1162.8,546.4h0M1164.7,546.4h0M1166.6,546.4h0M1168.4,546.4h0M1170.3,546.4h0M1172.2,546.4h0M1174.0,546.4h0M1175.9,546.4h0M1177.8,546.4h0M1179.7,546.4h0M1181.5,546.4h0M1183.4,546.4h0M1185.3,546.4h0M1187.1,546.4h0M1189.0,546.4h0M1190.9,546.4h0M1192.7,546.4h0M1194.6,546.4h0M1196.5,546.4h0M1198.3,546.4h0M1200.2,546.4h0M1202.1,546.4h0M1203.9,546.4h0M1205.8,546.4h0M1207.7,546.4h0M1209.5,546.4h0M1211.4,546.4h0M1213.3,546.4h0M1215.1,546.4h0M1217.0,546.4h0M1218.9,546.4h0M1220.7,546.4h0M1222.6,546.4h0M1224.5,546.4h0M1226.4,546.4h0M1228.2,546.4h0M1230.1,546.4h0M1232.0,546.4h0M1233.8,546.4h0M1235.7,546.4h0M1237.6,546.4h0M1239.4,546.4h0M1241.3,546.4h0M1243.2,546.4h0M1245.0,546.4h0M1246.9,546.4h0M1248.8,546.4h0M1250.6,546.4h0M1252.5,546.4h0M1254.4,546.4h0M1256.2,546.4h0M1258.1,546.4h0M1260.0,546.4h0M1261.8,546.4h0M1263.7,546.4h0M1265.6,546.4h0M1267.4,546.4h0M1269.3,546.4h0M1271.2,546.4h0M1273.1,546.4h0M1274.9,546.4h0M1276.8,546.4h0M1278.7,546.4h0M1280.5,546.4h0M1282.4,546.4h0M1284.3,546.4h0M1286.1,546.4h0M1288.0,546.4h0M1289.9,546.4h0M1291.7,546.4h0M1293.6,546.4h0M1295.5,546.4h0M1297.3,546.4h0M1299.2,546.4h0M1301.1,546.4h0M1302.9,546.4h0M1304.8,546.4h0M1306.7,546.4h0M1308.5,546.4h0M1310.4,546.4h0M1312.3,546.4h0M1314.1,546.4h0M1316.0,546.4h0M1317.9,546.4h0M1319.8,546.4h0M1321.6,546.4h0M1323.5,546.4h0M1325.4,546.4h0M1327.2,546.4h0M1329.1,546.4h0M1331.0,546.4h0M1332.8,546.4h0M1334.7,546.4h0M1336.6,546.4h0M1338.4,546.4h0M1340.3,546.4h0M1342.2,546.4h0M1344.0,546.4h0M1345.9,546.4h0M1347.8,546.4h0M1349.6,546.4h0M1351.5,546.4h0M1353.4,546.4h0M1355.2,546.4h0M1357.1,546.4h0M1359.0,546.4h0M1360.8,546.4h0M1362.7,546.4h0M1364.6,546.4h0M1366.5,546.4h0M1368.3,546.4h0M1370.2,546.4h0M1372.1,546.4h0M1373.9,546.4h0M1375.8,546.4h0M1377.7,546.4h0M1379.5,546.4h0M1381.4,546.4h0M1383.3,546.4h0M1385.1,546.4h0M1387.0,546.4h0M1388.9,546.4h0M1390.7,546.4h0M1392.6,546.4h0M1394.5,546.4h0M1396.3,546.4h0M1398.2,546.4h0M1400.1,546.4h0M1401.9,546.4h0M1403.8,546.4h0M1405.7,546.4h0M1407.5,546.4h0M1409.4,546.4h0M1411.3,546.4h0M1413.2,546.4h0M1415.0,546.4h0M1416.9,546.4h0M1418.8,546.4h0M1420.6,546.4h0M1422.5,546.4h0M1424.4,546.4h0M1426.2,546.4h0M1428.1,546.4h0M1430.0,546.4h0M1431.8,546.4h0M1433.7,546.4h0M1435.6,546.4h0M1437.4,546.4h0M1439.3,546.4h0M1441.2,546.4h0M1443.0,546.4h0M1444.9,546.4h0M1446.8,546.4h0M1448.6,546.4h0M1450.5,546.4h0M1452.4,546.4h0M1454.2,546.4h0M1456.1,546.4h0M1458.0,546.4h0M1459.9,546.4h0M1461.7,546.4h0M1463.6,546.4h0M1465.5,546.4h0M1467.3,546.4h0M1469.2,546.4h0M1471.1,546.4h0M1472.9,546.4h0M1474.8,546.4h0M1476.7,546.4h0M1478.5,546.4h0M1480.4,546.4h0M1482.3,546.4h0M1484.1,546.4h0M1486.0,546.4h0M1487.9,546.4h0M1489.7,546.4h0M1491.6,546.4h0M1493.5,546.4h0M1495.3,546.4h0M1497.2,546.4h0M1499.1,546.4h0M1500.9,546.4h0M1502.8,546.4h0M1504.7,546.4h0M1506.6,546.4h0M1508.4,546.4h0M1510.3,546.4h0M1512.2,546.4h0M1514.0,546.4h0M1515.9,546.4h0M1517.8,546.4h0M1519.6,546.4h0M1521.5,546.4h0M1523.4,546.4h0M1525.2,546.4h0M1527.1,546.4h0M1529.0,546.4h0M1530.8,546.4h0M1532.7,546.4h0M1534.6,546.4h0M1536.4,546.4h0M1538.3,546.4h0M1540.2,546.4h0M1542.0,546.4h0M1543.9,546.4h0M1545.8,546.4h0M1547.6,546.4h0M1549.5,546.4h0M1551.4,546.4h0M1553.3,546.4h0M1555.1,546.4h0M1557.0,546.4h0M1558.9,546.4h0M1560.7,546.4h0M1562.6,546.4h0M1564.5,546.4h0M1566.3,546.4h0M1568.2,546.4h0M1570.1,546.4h0M1571.9,546.4h0M1573.8,546.4h0M1575.7,546.4h0M1577.5,546.4h0M1579.4,546.4h0M1581.3,546.4h0M1583.1,546.4h0M1585.0,546.4h0M1586.9,546.4h0M1588.7,546.4h0M1590.6,546.4h0M1592.5,546.4h0M1594.3,546.4h0M1596.2,546.4h0M1598.1,546.4h0M1600.0,546.4h0M1601.8,546.4h0M1603.7,546.4h0M1605.6,546.4h0M1607.4,546.4h0M1609.3,546.4h0M1611.2,546.4h0M1613.0,546.4h0M1614.9,546.4h0M1616.8,546.4h0M1618.6,546.4h0M1620.0,546.4h0" fill="none" stroke="#0097d3" stroke-width="6.0" stroke-linecap="round"/><path d="M283.0,546.8 L382.2,546.8 L384.1,546.8 L385.9,546.8 L387.2,546.8 L395.0,546.8 L412.1,546.8 L414.0,546.8 L415.8,546.8 L417.7,546.8 L418.9,546.8 L436.0,546.8 L453.0,546.8 L454.9,546.7 L456.7,546.6 L458.6,546.5 L460.5,546.4 L462.3,546.3 L464.2,546.1 L466.1,546.0 L467.9,545.9 L470.0,545.8 L471.9,545.9 L473.7,546.1 L475.6,546.2 L477.5,546.4 L479.3,546.5 L481.2,546.7 L483.0,546.8 L485.2,531.3 L487.1,528.0 L489.4,527.0 L491.3,527.8 L492.5,528.3 L494.4,532.0 L496.2,535.7 L498.1,539.4 L500.4,544.0 L502.6,546.8 L504.6,529.4 L506.5,530.4 L508.3,531.4 L510.2,532.4 L512.1,533.4 L513.9,534.4 L515.8,535.4 L517.7,536.4 L520.0,537.6 L521.9,538.5 L523.7,539.4 L525.6,540.3 L527.5,541.2 L529.3,542.1 L531.2,543.0 L533.1,543.8 L535.5,545.0 L537.5,546.8 L539.4,546.8 L541.2,546.8 L543.1,546.8 L545.0,546.8 L546.8,546.8 L548.7,546.8 L550.6,546.8 L552.4,546.8 L554.3,546.8 L556.2,546.8 L558.0,546.8 L560.0,546.8 L561.9,546.7 L563.7,546.6 L565.6,546.5 L567.5,546.4 L569.3,546.3 L571.2,546.2 L573.1,546.1 L575.0,546.0 L576.9,546.1 L578.7,546.2 L580.6,546.3 L582.5,546.4 L584.3,546.5 L586.2,546.6 L588.1,546.7 L590.0,546.8 L591.9,546.8 L593.7,546.8 L595.6,546.8 L597.5,546.8 L599.3,546.8 L601.2,546.8 L603.1,546.8 L604.9,546.8 L606.8,546.8 L608.7,546.8 L610.5,546.8 L611.5,546.8 L613.4,541.6 L615.3,541.6 L617.5,541.6 L619.3,533.4 L621.2,534.1 L623.0,534.7 L624.9,535.4 L626.8,536.0 L628.6,536.7 L630.5,537.3 L632.4,538.0 L634.2,538.6 L636.1,539.3 L638.0,539.9 L639.8,540.6 L642.0,541.3 L643.2,486.7 L645.1,452.5 L650.3,459.7 L652.7,500.0 L654.6,519.2 L656.5,540.0 L658.4,546.8 L660.3,546.8 L662.1,546.8 L664.0,546.8 L665.9,546.8 L667.7,546.8 L669.6,546.8 L671.5,546.8 L673.3,546.8 L675.2,546.8 L677.1,546.8 L678.9,546.8 L680.6,546.8 L682.5,521.2 L684.4,546.8 L686.3,546.8 L688.1,546.8 L690.0,546.8 L691.9,546.8 L693.4,546.8 L695.3,508.0 L697.2,540.0 L699.3,501.6 L701.2,546.8 L703.1,546.8 L704.9,546.8 L706.8,546.8 L708.7,546.8 L710.5,546.8 L712.4,546.8 L714.3,546.8 L716.1,546.8 L718.0,546.8 L719.9,546.8 L721.7,546.8 L723.6,546.8 L725.5,546.8 L727.4,546.8 L729.2,546.8 L731.1,546.8 L733.0,546.8 L735.5,546.8 L737.2,472.7 L738.6,365.6 L740.6,477.4 L742.5,546.8 L744.4,546.8 L746.2,546.8 L748.1,546.8 L750.0,546.8 L751.8,546.8 L753.7,546.8 L755.6,546.8 L757.4,546.8 L759.3,546.8 L761.2,546.8 L763.0,546.8 L764.9,546.8 L766.8,546.8 L768.7,546.8 L770.5,546.8 L772.4,546.8 L774.3,546.8 L776.1,546.8 L778.0,546.8 L779.9,546.8 L781.7,546.8 L783.6,546.8 L785.5,546.8 L787.3,546.8 L789.2,546.8 L791.1,546.8 L792.9,546.8 L794.8,546.8 L796.7,546.8 L798.5,546.8 L800.4,546.8 L802.3,546.8 L804.1,546.8 L806.0,546.8 L807.9,546.8 L809.7,546.8 L811.6,546.8 L813.5,546.8 L815.4,546.8 L817.2,546.8 L819.5,546.8 L821.3,540.9 L822.2,505.0 L824.1,506.3 L825.9,507.6 L827.8,508.9 L829.7,510.3 L831.5,511.6 L833.4,512.9 L835.0,514.0 L836.9,515.6 L838.7,517.2 L840.6,518.7 L842.5,520.3 L844.3,521.9 L846.2,523.5 L848.0,525.0 L849.9,527.1 L851.7,529.2 L853.6,531.2 L855.5,533.3 L857.0,535.0 L858.9,537.7 L860.7,540.3 L862.6,543.0 L864.0,545.0 L866.0,546.8 L867.9,546.8 L869.7,546.8 L871.6,546.8 L873.5,546.8 L875.3,546.8 L877.2,546.8 L879.1,546.8 L880.9,546.8 L882.8,546.8 L884.7,546.8 L886.5,546.8 L888.4,546.8 L890.3,546.8 L892.2,546.8 L894.0,546.8 L895.9,546.8 L897.8,546.8 L899.6,546.8 L901.5,546.8 L903.4,546.8 L905.2,546.8 L907.1,546.8 L909.0,546.8 L910.8,546.8 L912.2,546.8 L914.0,512.0 L915.9,543.0 L917.8,546.8 L919.7,546.8 L921.5,546.8 L923.4,546.8 L925.3,546.8 L927.1,546.8 L929.0,546.8 L930.9,546.8 L932.7,546.8 L934.6,546.8 L936.5,546.8 L938.3,546.8 L940.2,546.8 L942.1,546.8 L944.2,546.8 L946.0,506.2 L948.9,521.6 L950.8,546.8 L952.7,546.8 L954.5,546.8 L956.4,546.8 L958.3,546.8 L960.1,546.8 L962.0,546.8 L963.9,546.8 L965.7,546.8 L967.6,546.8 L969.5,546.8 L971.3,546.8 L973.2,546.8 L975.1,546.8 L977.0,546.8 L978.8,546.8 L980.7,546.8 L982.6,546.8 L984.4,546.8 L986.3,546.8 L988.2,546.8 L990.0,546.8 L991.9,546.8 L993.8,546.8 L995.6,546.8 L997.5,546.8 L999.4,546.8 L1001.2,546.8 L1003.1,546.8 L1005.0,546.8 L1006.9,545.0 L1009.3,542.6 L1010.9,534.6 L1012.8,535.4 L1014.6,536.2 L1016.5,537.0 L1018.4,537.8 L1020.2,538.6 L1022.1,539.3 L1024.0,540.1 L1025.8,540.9 L1027.7,541.7 L1029.6,542.5 L1031.4,543.3 L1033.3,544.1 L1035.0,544.8 L1037.0,546.8 L1038.9,546.8 L1040.7,546.8 L1042.6,546.8 L1044.5,546.8 L1046.5,546.8 L1048.5,518.5 L1050.6,538.9 L1052.5,546.8 L1054.4,546.8 L1056.2,546.8 L1058.1,546.8 L1060.0,546.8 L1061.8,546.8 L1063.7,546.8 L1065.6,546.8 L1067.4,546.8 L1069.3,546.8 L1071.2,546.8 L1073.0,546.8 L1074.9,546.8 L1076.8,546.8 L1078.2,546.8 L1080.1,541.5 L1082.1,497.8 L1084.2,520.9 L1086.1,546.8 L1088.0,546.8 L1089.8,546.8 L1091.4,546.8 L1093.3,478.2 L1095.7,502.7 L1097.6,540.0 L1099.5,542.0 L1101.4,539.5 L1103.3,539.0 L1105.2,540.4 L1107.0,541.8 L1108.9,543.2 L1110.8,544.6 L1112.0,545.5 L1114.0,546.8 L1115.9,546.8 L1117.7,546.8 L1119.6,546.8 L1121.5,546.8 L1123.3,546.8 L1125.2,546.8 L1127.1,546.8 L1128.9,546.8 L1130.8,546.8 L1132.7,546.8 L1134.5,546.8 L1136.4,546.8 L1138.3,546.8 L1140.2,546.8 L1142.0,546.8 L1143.9,546.8 L1145.8,546.8 L1147.6,546.8 L1149.5,546.8 L1151.4,546.8 L1153.2,546.8 L1155.1,546.8 L1157.0,546.8 L1158.8,546.8 L1160.7,546.8 L1162.6,546.8 L1164.4,546.8 L1166.3,546.8 L1168.2,546.8 L1170.0,546.8 L1171.9,546.8 L1173.8,546.8 L1175.6,546.8 L1177.5,546.8 L1179.4,546.8 L1181.2,546.8 L1183.1,546.8 L1185.0,546.8 L1186.9,546.8 L1188.7,546.8 L1190.6,546.8 L1192.4,546.8 L1193.1,512.0 L1195.0,509.2 L1196.0,507.6 L1197.9,510.4 L1199.7,513.3 L1201.6,516.1 L1203.5,518.9 L1205.3,521.8 L1207.2,524.6 L1209.1,527.4 L1210.9,530.3 L1212.8,533.1 L1214.7,535.9 L1216.5,538.8 L1218.4,541.6 L1220.0,544.0 L1222.0,546.8 L1223.9,546.8 L1225.7,546.8 L1227.6,546.8 L1229.5,546.8 L1231.3,546.8 L1233.2,546.8 L1235.7,546.8 L1237.6,539.2 L1239.4,537.0 L1241.3,539.3 L1243.1,541.5 L1245.0,543.8 L1246.0,545.0 L1248.0,546.8 L1249.9,546.8 L1251.7,546.8 L1253.6,546.8 L1255.5,546.8 L1257.3,546.8 L1259.2,546.8 L1261.1,546.8 L1262.9,546.8 L1264.8,546.8 L1266.7,546.8 L1268.5,546.8 L1270.4,546.8 L1272.3,546.8 L1274.2,546.8 L1276.0,546.8 L1277.9,546.8 L1279.8,546.8 L1281.0,546.8 L1283.0,542.2 L1285.6,536.0 L1287.5,537.7 L1289.3,539.4 L1291.2,541.1 L1294.0,543.7 L1296.0,546.8 L1297.9,546.8 L1299.7,546.8 L1301.6,546.8 L1303.5,546.8 L1305.3,546.8 L1307.2,546.8 L1309.1,546.8 L1310.9,546.8 L1312.8,546.8 L1314.7,546.8 L1316.5,546.8 L1318.4,546.8 L1320.3,546.8 L1322.2,546.8 L1324.0,546.8 L1325.9,546.8 L1327.8,546.8 L1329.6,546.8 L1331.5,546.8 L1333.4,546.8 L1335.2,546.8 L1337.1,546.8 L1339.0,546.8 L1340.8,546.8 L1342.7,546.8 L1344.6,546.8 L1346.4,546.8 L1348.3,546.8 L1350.2,546.8 L1352.0,546.8 L1353.9,546.8 L1355.8,546.8 L1357.6,546.8 L1360.4,546.8 L1362.3,520.2 L1364.2,543.0 L1366.0,546.8 L1367.9,546.8 L1369.7,546.8 L1371.6,546.8 L1373.5,546.8 L1375.3,546.8 L1377.2,546.8 L1379.1,546.8 L1380.9,546.8 L1382.8,546.8 L1384.7,546.8 L1386.5,546.8 L1388.4,546.8 L1390.3,546.8 L1392.2,546.8 L1394.0,546.8 L1395.9,546.8 L1397.8,546.8 L1399.6,546.8 L1401.5,546.8 L1403.4,546.8 L1405.2,546.8 L1407.1,546.8 L1409.0,546.8 L1410.8,546.8 L1412.7,546.8 L1414.6,546.8 L1416.4,546.8 L1418.3,546.8 L1420.2,546.8 L1422.0,546.8 L1423.9,546.8 L1425.8,546.8 L1427.6,546.8 L1429.5,546.8 L1431.4,546.8 L1433.2,546.8 L1435.1,546.8 L1437.0,546.8 L1438.9,546.8 L1440.7,546.8 L1442.6,546.8 L1444.5,546.8 L1446.3,546.8 L1448.2,546.8 L1450.1,546.8 L1451.9,546.8 L1453.8,546.8 L1455.7,546.8 L1457.5,546.8 L1459.4,546.8 L1461.3,546.8 L1463.1,546.8 L1465.0,546.8 L1466.9,546.8 L1468.7,546.8 L1470.6,546.8 L1472.5,546.8 L1474.3,546.8 L1476.2,546.8 L1478.1,546.8 L1479.9,546.8 L1481.8,546.8 L1483.7,546.8 L1485.6,546.8 L1487.4,546.8 L1489.3,546.8 L1491.2,546.8 L1493.0,546.8 L1494.9,546.8 L1496.8,546.8 L1498.6,546.8 L1500.5,546.8 L1502.4,546.8 L1504.2,546.8 L1506.1,546.8 L1508.0,546.8 L1509.8,546.8 L1511.7,546.8 L1513.6,546.8 L1515.4,546.8 L1517.3,546.8 L1519.2,546.8 L1521.0,546.8 L1522.9,546.8 L1524.8,546.8 L1526.6,546.8 L1528.5,546.8 L1530.6,546.8 L1532.5,545.5 L1534.0,541.0 L1535.9,540.3 L1537.8,540.8 L1540.0,541.3 L1541.9,542.2 L1543.7,543.2 L1546.5,544.6 L1548.5,546.8 L1550.4,546.8 L1552.2,546.8 L1554.1,546.8 L1556.0,546.8 L1557.8,546.8 L1559.7,546.8 L1561.6,546.8 L1563.4,546.8 L1565.3,546.8 L1567.2,546.8 L1569.0,546.8 L1570.9,546.8 L1572.8,546.8 L1574.7,546.8 L1576.5,546.8 L1578.4,546.8 L1580.3,546.8 L1582.1,546.8 L1584.0,546.8 L1585.9,546.8 L1587.7,546.8 L1589.6,546.8 L1591.5,546.8 L1593.3,546.8 L1595.2,546.8 L1597.1,546.8 L1598.9,546.8 L1600.8,546.8 L1602.7,546.8 L1604.5,546.8 L1606.4,546.8 L1608.3,546.8 L1610.1,546.8 L1612.0,546.8 L1613.9,546.8 L1615.7,546.8 L1617.6,546.8 L1620.0,546.8 L1620.0,546.8 L283.0,546.8 Z" fill="rgba(0,121,182,0.19)" stroke="none"/><path d="M283.0,546.8 L382.2,546.8 L384.1,546.8 L385.9,546.8 L387.2,546.8 L395.0,546.8 L412.1,546.8 L414.0,546.8 L415.8,546.8 L417.7,546.8 L418.9,546.8 L436.0,546.8 L453.0,546.8 L454.9,546.7 L456.7,546.6 L458.6,546.5 L460.5,546.4 L462.3,546.3 L464.2,546.1 L466.1,546.0 L467.9,545.9 L470.0,545.8 L471.9,545.9 L473.7,546.1 L475.6,546.2 L477.5,546.4 L479.3,546.5 L481.2,546.7 L483.0,546.8 L485.2,531.3 L487.1,528.0 L489.4,527.0 L491.3,527.8 L492.5,528.3 L494.4,532.0 L496.2,535.7 L498.1,539.4 L500.4,544.0 L502.6,546.8 L504.6,529.4 L506.5,530.4 L508.3,531.4 L510.2,532.4 L512.1,533.4 L513.9,534.4 L515.8,535.4 L517.7,536.4 L520.0,537.6 L521.9,538.5 L523.7,539.4 L525.6,540.3 L527.5,541.2 L529.3,542.1 L531.2,543.0 L533.1,543.8 L535.5,545.0 L537.5,546.8 L539.4,546.8 L541.2,546.8 L543.1,546.8 L545.0,546.8 L546.8,546.8 L548.7,546.8 L550.6,546.8 L552.4,546.8 L554.3,546.8 L556.2,546.8 L558.0,546.8 L560.0,546.8 L561.9,546.7 L563.7,546.6 L565.6,546.5 L567.5,546.4 L569.3,546.3 L571.2,546.2 L573.1,546.1 L575.0,546.0 L576.9,546.1 L578.7,546.2 L580.6,546.3 L582.5,546.4 L584.3,546.5 L586.2,546.6 L588.1,546.7 L590.0,546.8 L591.9,546.8 L593.7,546.8 L595.6,546.8 L597.5,546.8 L599.3,546.8 L601.2,546.8 L603.1,546.8 L604.9,546.8 L606.8,546.8 L608.7,546.8 L610.5,546.8 L611.5,546.8 L613.4,541.6 L615.3,541.6 L617.5,541.6 L619.3,533.4 L621.2,534.1 L623.0,534.7 L624.9,535.4 L626.8,536.0 L628.6,536.7 L630.5,537.3 L632.4,538.0 L634.2,538.6 L636.1,539.3 L638.0,539.9 L639.8,540.6 L642.0,541.3 L643.2,486.7 L645.1,452.5 L650.3,459.7 L652.7,500.0 L654.6,519.2 L656.5,540.0 L658.4,546.8 L660.3,546.8 L662.1,546.8 L664.0,546.8 L665.9,546.8 L667.7,546.8 L669.6,546.8 L671.5,546.8 L673.3,546.8 L675.2,546.8 L677.1,546.8 L678.9,546.8 L680.6,546.8 L682.5,521.2 L684.4,546.8 L686.3,546.8 L688.1,546.8 L690.0,546.8 L691.9,546.8 L693.4,546.8 L695.3,508.0 L697.2,540.0 L699.3,501.6 L701.2,546.8 L703.1,546.8 L704.9,546.8 L706.8,546.8 L708.7,546.8 L710.5,546.8 L712.4,546.8 L714.3,546.8 L716.1,546.8 L718.0,546.8 L719.9,546.8 L721.7,546.8 L723.6,546.8 L725.5,546.8 L727.4,546.8 L729.2,546.8 L731.1,546.8 L733.0,546.8 L735.5,546.8 L737.2,472.7 L738.6,365.6 L740.6,477.4 L742.5,546.8 L744.4,546.8 L746.2,546.8 L748.1,546.8 L750.0,546.8 L751.8,546.8 L753.7,546.8 L755.6,546.8 L757.4,546.8 L759.3,546.8 L761.2,546.8 L763.0,546.8 L764.9,546.8 L766.8,546.8 L768.7,546.8 L770.5,546.8 L772.4,546.8 L774.3,546.8 L776.1,546.8 L778.0,546.8 L779.9,546.8 L781.7,546.8 L783.6,546.8 L785.5,546.8 L787.3,546.8 L789.2,546.8 L791.1,546.8 L792.9,546.8 L794.8,546.8 L796.7,546.8 L798.5,546.8 L800.4,546.8 L802.3,546.8 L804.1,546.8 L806.0,546.8 L807.9,546.8 L809.7,546.8 L811.6,546.8 L813.5,546.8 L815.4,546.8 L817.2,546.8 L819.5,546.8 L821.3,540.9 L822.2,505.0 L824.1,506.3 L825.9,507.6 L827.8,508.9 L829.7,510.3 L831.5,511.6 L833.4,512.9 L835.0,514.0 L836.9,515.6 L838.7,517.2 L840.6,518.7 L842.5,520.3 L844.3,521.9 L846.2,523.5 L848.0,525.0 L849.9,527.1 L851.7,529.2 L853.6,531.2 L855.5,533.3 L857.0,535.0 L858.9,537.7 L860.7,540.3 L862.6,543.0 L864.0,545.0 L866.0,546.8 L867.9,546.8 L869.7,546.8 L871.6,546.8 L873.5,546.8 L875.3,546.8 L877.2,546.8 L879.1,546.8 L880.9,546.8 L882.8,546.8 L884.7,546.8 L886.5,546.8 L888.4,546.8 L890.3,546.8 L892.2,546.8 L894.0,546.8 L895.9,546.8 L897.8,546.8 L899.6,546.8 L901.5,546.8 L903.4,546.8 L905.2,546.8 L907.1,546.8 L909.0,546.8 L910.8,546.8 L912.2,546.8 L914.0,512.0 L915.9,543.0 L917.8,546.8 L919.7,546.8 L921.5,546.8 L923.4,546.8 L925.3,546.8 L927.1,546.8 L929.0,546.8 L930.9,546.8 L932.7,546.8 L934.6,546.8 L936.5,546.8 L938.3,546.8 L940.2,546.8 L942.1,546.8 L944.2,546.8 L946.0,506.2 L948.9,521.6 L950.8,546.8 L952.7,546.8 L954.5,546.8 L956.4,546.8 L958.3,546.8 L960.1,546.8 L962.0,546.8 L963.9,546.8 L965.7,546.8 L967.6,546.8 L969.5,546.8 L971.3,546.8 L973.2,546.8 L975.1,546.8 L977.0,546.8 L978.8,546.8 L980.7,546.8 L982.6,546.8 L984.4,546.8 L986.3,546.8 L988.2,546.8 L990.0,546.8 L991.9,546.8 L993.8,546.8 L995.6,546.8 L997.5,546.8 L999.4,546.8 L1001.2,546.8 L1003.1,546.8 L1005.0,546.8 L1006.9,545.0 L1009.3,542.6 L1010.9,534.6 L1012.8,535.4 L1014.6,536.2 L1016.5,537.0 L1018.4,537.8 L1020.2,538.6 L1022.1,539.3 L1024.0,540.1 L1025.8,540.9 L1027.7,541.7 L1029.6,542.5 L1031.4,543.3 L1033.3,544.1 L1035.0,544.8 L1037.0,546.8 L1038.9,546.8 L1040.7,546.8 L1042.6,546.8 L1044.5,546.8 L1046.5,546.8 L1048.5,518.5 L1050.6,538.9 L1052.5,546.8 L1054.4,546.8 L1056.2,546.8 L1058.1,546.8 L1060.0,546.8 L1061.8,546.8 L1063.7,546.8 L1065.6,546.8 L1067.4,546.8 L1069.3,546.8 L1071.2,546.8 L1073.0,546.8 L1074.9,546.8 L1076.8,546.8 L1078.2,546.8 L1080.1,541.5 L1082.1,497.8 L1084.2,520.9 L1086.1,546.8 L1088.0,546.8 L1089.8,546.8 L1091.4,546.8 L1093.3,478.2 L1095.7,502.7 L1097.6,540.0 L1099.5,542.0 L1101.4,539.5 L1103.3,539.0 L1105.2,540.4 L1107.0,541.8 L1108.9,543.2 L1110.8,544.6 L1112.0,545.5 L1114.0,546.8 L1115.9,546.8 L1117.7,546.8 L1119.6,546.8 L1121.5,546.8 L1123.3,546.8 L1125.2,546.8 L1127.1,546.8 L1128.9,546.8 L1130.8,546.8 L1132.7,546.8 L1134.5,546.8 L1136.4,546.8 L1138.3,546.8 L1140.2,546.8 L1142.0,546.8 L1143.9,546.8 L1145.8,546.8 L1147.6,546.8 L1149.5,546.8 L1151.4,546.8 L1153.2,546.8 L1155.1,546.8 L1157.0,546.8 L1158.8,546.8 L1160.7,546.8 L1162.6,546.8 L1164.4,546.8 L1166.3,546.8 L1168.2,546.8 L1170.0,546.8 L1171.9,546.8 L1173.8,546.8 L1175.6,546.8 L1177.5,546.8 L1179.4,546.8 L1181.2,546.8 L1183.1,546.8 L1185.0,546.8 L1186.9,546.8 L1188.7,546.8 L1190.6,546.8 L1192.4,546.8 L1193.1,512.0 L1195.0,509.2 L1196.0,507.6 L1197.9,510.4 L1199.7,513.3 L1201.6,516.1 L1203.5,518.9 L1205.3,521.8 L1207.2,524.6 L1209.1,527.4 L1210.9,530.3 L1212.8,533.1 L1214.7,535.9 L1216.5,538.8 L1218.4,541.6 L1220.0,544.0 L1222.0,546.8 L1223.9,546.8 L1225.7,546.8 L1227.6,546.8 L1229.5,546.8 L1231.3,546.8 L1233.2,546.8 L1235.7,546.8 L1237.6,539.2 L1239.4,537.0 L1241.3,539.3 L1243.1,541.5 L1245.0,543.8 L1246.0,545.0 L1248.0,546.8 L1249.9,546.8 L1251.7,546.8 L1253.6,546.8 L1255.5,546.8 L1257.3,546.8 L1259.2,546.8 L1261.1,546.8 L1262.9,546.8 L1264.8,546.8 L1266.7,546.8 L1268.5,546.8 L1270.4,546.8 L1272.3,546.8 L1274.2,546.8 L1276.0,546.8 L1277.9,546.8 L1279.8,546.8 L1281.0,546.8 L1283.0,542.2 L1285.6,536.0 L1287.5,537.7 L1289.3,539.4 L1291.2,541.1 L1294.0,543.7 L1296.0,546.8 L1297.9,546.8 L1299.7,546.8 L1301.6,546.8 L1303.5,546.8 L1305.3,546.8 L1307.2,546.8 L1309.1,546.8 L1310.9,546.8 L1312.8,546.8 L1314.7,546.8 L1316.5,546.8 L1318.4,546.8 L1320.3,546.8 L1322.2,546.8 L1324.0,546.8 L1325.9,546.8 L1327.8,546.8 L1329.6,546.8 L1331.5,546.8 L1333.4,546.8 L1335.2,546.8 L1337.1,546.8 L1339.0,546.8 L1340.8,546.8 L1342.7,546.8 L1344.6,546.8 L1346.4,546.8 L1348.3,546.8 L1350.2,546.8 L1352.0,546.8 L1353.9,546.8 L1355.8,546.8 L1357.6,546.8 L1360.4,546.8 L1362.3,520.2 L1364.2,543.0 L1366.0,546.8 L1367.9,546.8 L1369.7,546.8 L1371.6,546.8 L1373.5,546.8 L1375.3,546.8 L1377.2,546.8 L1379.1,546.8 L1380.9,546.8 L1382.8,546.8 L1384.7,546.8 L1386.5,546.8 L1388.4,546.8 L1390.3,546.8 L1392.2,546.8 L1394.0,546.8 L1395.9,546.8 L1397.8,546.8 L1399.6,546.8 L1401.5,546.8 L1403.4,546.8 L1405.2,546.8 L1407.1,546.8 L1409.0,546.8 L1410.8,546.8 L1412.7,546.8 L1414.6,546.8 L1416.4,546.8 L1418.3,546.8 L1420.2,546.8 L1422.0,546.8 L1423.9,546.8 L1425.8,546.8 L1427.6,546.8 L1429.5,546.8 L1431.4,546.8 L1433.2,546.8 L1435.1,546.8 L1437.0,546.8 L1438.9,546.8 L1440.7,546.8 L1442.6,546.8 L1444.5,546.8 L1446.3,546.8 L1448.2,546.8 L1450.1,546.8 L1451.9,546.8 L1453.8,546.8 L1455.7,546.8 L1457.5,546.8 L1459.4,546.8 L1461.3,546.8 L1463.1,546.8 L1465.0,546.8 L1466.9,546.8 L1468.7,546.8 L1470.6,546.8 L1472.5,546.8 L1474.3,546.8 L1476.2,546.8 L1478.1,546.8 L1479.9,546.8 L1481.8,546.8 L1483.7,546.8 L1485.6,546.8 L1487.4,546.8 L1489.3,546.8 L1491.2,546.8 L1493.0,546.8 L1494.9,546.8 L1496.8,546.8 L1498.6,546.8 L1500.5,546.8 L1502.4,546.8 L1504.2,546.8 L1506.1,546.8 L1508.0,546.8 L1509.8,546.8 L1511.7,546.8 L1513.6,546.8 L1515.4,546.8 L1517.3,546.8 L1519.2,546.8 L1521.0,546.8 L1522.9,546.8 L1524.8,546.8 L1526.6,546.8 L1528.5,546.8 L1530.6,546.8 L1532.5,545.5 L1534.0,541.0 L1535.9,540.3 L1537.8,540.8 L1540.0,541.3 L1541.9,542.2 L1543.7,543.2 L1546.5,544.6 L1548.5,546.8 L1550.4,546.8 L1552.2,546.8 L1554.1,546.8 L1556.0,546.8 L1557.8,546.8 L1559.7,546.8 L1561.6,546.8 L1563.4,546.8 L1565.3,546.8 L1567.2,546.8 L1569.0,546.8 L1570.9,546.8 L1572.8,546.8 L1574.7,546.8 L1576.5,546.8 L1578.4,546.8 L1580.3,546.8 L1582.1,546.8 L1584.0,546.8 L1585.9,546.8 L1587.7,546.8 L1589.6,546.8 L1591.5,546.8 L1593.3,546.8 L1595.2,546.8 L1597.1,546.8 L1598.9,546.8 L1600.8,546.8 L1602.7,546.8 L1604.5,546.8 L1606.4,546.8 L1608.3,546.8 L1610.1,546.8 L1612.0,546.8 L1613.9,546.8 L1615.7,546.8 L1617.6,546.8 L1620.0,546.8" fill="none" stroke="#0079b6" stroke-width="2.0" stroke-linejoin="round"/><path d="M283.0,546.8h0M382.2,546.8h0M384.1,546.8h0M385.9,546.8h0M387.2,546.8h0M395.0,546.8h0M412.1,546.8h0M414.0,546.8h0M415.8,546.8h0M417.7,546.8h0M418.9,546.8h0M436.0,546.8h0M453.0,546.8h0M454.9,546.7h0M456.7,546.6h0M458.6,546.5h0M460.5,546.4h0M462.3,546.3h0M464.2,546.1h0M466.1,546.0h0M467.9,545.9h0M470.0,545.8h0M471.9,545.9h0M473.7,546.1h0M475.6,546.2h0M477.5,546.4h0M479.3,546.5h0M481.2,546.7h0M483.0,546.8h0M485.2,531.3h0M487.1,528.0h0M489.4,527.0h0M491.3,527.8h0M492.5,528.3h0M494.4,532.0h0M496.2,535.7h0M498.1,539.4h0M500.4,544.0h0M502.6,546.8h0M504.6,529.4h0M506.5,530.4h0M508.3,531.4h0M510.2,532.4h0M512.1,533.4h0M513.9,534.4h0M515.8,535.4h0M517.7,536.4h0M520.0,537.6h0M521.9,538.5h0M523.7,539.4h0M525.6,540.3h0M527.5,541.2h0M529.3,542.1h0M531.2,543.0h0M533.1,543.8h0M535.5,545.0h0M537.5,546.8h0M539.4,546.8h0M541.2,546.8h0M543.1,546.8h0M545.0,546.8h0M546.8,546.8h0M548.7,546.8h0M550.6,546.8h0M552.4,546.8h0M554.3,546.8h0M556.2,546.8h0M558.0,546.8h0M560.0,546.8h0M561.9,546.7h0M563.7,546.6h0M565.6,546.5h0M567.5,546.4h0M569.3,546.3h0M571.2,546.2h0M573.1,546.1h0M575.0,546.0h0M576.9,546.1h0M578.7,546.2h0M580.6,546.3h0M582.5,546.4h0M584.3,546.5h0M586.2,546.6h0M588.1,546.7h0M590.0,546.8h0M591.9,546.8h0M593.7,546.8h0M595.6,546.8h0M597.5,546.8h0M599.3,546.8h0M601.2,546.8h0M603.1,546.8h0M604.9,546.8h0M606.8,546.8h0M608.7,546.8h0M610.5,546.8h0M611.5,546.8h0M613.4,541.6h0M615.3,541.6h0M617.5,541.6h0M619.3,533.4h0M621.2,534.1h0M623.0,534.7h0M624.9,535.4h0M626.8,536.0h0M628.6,536.7h0M630.5,537.3h0M632.4,538.0h0M634.2,538.6h0M636.1,539.3h0M638.0,539.9h0M639.8,540.6h0M642.0,541.3h0M643.2,486.7h0M645.1,452.5h0M650.3,459.7h0M652.7,500.0h0M654.6,519.2h0M656.5,540.0h0M658.4,546.8h0M660.3,546.8h0M662.1,546.8h0M664.0,546.8h0M665.9,546.8h0M667.7,546.8h0M669.6,546.8h0M671.5,546.8h0M673.3,546.8h0M675.2,546.8h0M677.1,546.8h0M678.9,546.8h0M680.6,546.8h0M682.5,521.2h0M684.4,546.8h0M686.3,546.8h0M688.1,546.8h0M690.0,546.8h0M691.9,546.8h0M693.4,546.8h0M695.3,508.0h0M697.2,540.0h0M699.3,501.6h0M701.2,546.8h0M703.1,546.8h0M704.9,546.8h0M706.8,546.8h0M708.7,546.8h0M710.5,546.8h0M712.4,546.8h0M714.3,546.8h0M716.1,546.8h0M718.0,546.8h0M719.9,546.8h0M721.7,546.8h0M723.6,546.8h0M725.5,546.8h0M727.4,546.8h0M729.2,546.8h0M731.1,546.8h0M733.0,546.8h0M735.5,546.8h0M737.2,472.7h0M738.6,365.6h0M740.6,477.4h0M742.5,546.8h0M744.4,546.8h0M746.2,546.8h0M748.1,546.8h0M750.0,546.8h0M751.8,546.8h0M753.7,546.8h0M755.6,546.8h0M757.4,546.8h0M759.3,546.8h0M761.2,546.8h0M763.0,546.8h0M764.9,546.8h0M766.8,546.8h0M768.7,546.8h0M770.5,546.8h0M772.4,546.8h0M774.3,546.8h0M776.1,546.8h0M778.0,546.8h0M779.9,546.8h0M781.7,546.8h0M783.6,546.8h0M785.5,546.8h0M787.3,546.8h0M789.2,546.8h0M791.1,546.8h0M792.9,546.8h0M794.8,546.8h0M796.7,546.8h0M798.5,546.8h0M800.4,546.8h0M802.3,546.8h0M804.1,546.8h0M806.0,546.8h0M807.9,546.8h0M809.7,546.8h0M811.6,546.8h0M813.5,546.8h0M815.4,546.8h0M817.2,546.8h0M819.5,546.8h0M821.3,540.9h0M822.2,505.0h0M824.1,506.3h0M825.9,507.6h0M827.8,508.9h0M829.7,510.3h0M831.5,511.6h0M833.4,512.9h0M835.0,514.0h0M836.9,515.6h0M838.7,517.2h0M840.6,518.7h0M842.5,520.3h0M844.3,521.9h0M846.2,523.5h0M848.0,525.0h0M849.9,527.1h0M851.7,529.2h0M853.6,531.2h0M855.5,533.3h0M857.0,535.0h0M858.9,537.7h0M860.7,540.3h0M862.6,543.0h0M864.0,545.0h0M866.0,546.8h0M867.9,546.8h0M869.7,546.8h0M871.6,546.8h0M873.5,546.8h0M875.3,546.8h0M877.2,546.8h0M879.1,546.8h0M880.9,546.8h0M882.8,546.8h0M884.7,546.8h0M886.5,546.8h0M888.4,546.8h0M890.3,546.8h0M892.2,546.8h0M894.0,546.8h0M895.9,546.8h0M897.8,546.8h0M899.6,546.8h0M901.5,546.8h0M903.4,546.8h0M905.2,546.8h0M907.1,546.8h0M909.0,546.8h0M910.8,546.8h0M912.2,546.8h0M914.0,512.0h0M915.9,543.0h0M917.8,546.8h0M919.7,546.8h0M921.5,546.8h0M923.4,546.8h0M925.3,546.8h0M927.1,546.8h0M929.0,546.8h0M930.9,546.8h0M932.7,546.8h0M934.6,546.8h0M936.5,546.8h0M938.3,546.8h0M940.2,546.8h0M942.1,546.8h0M944.2,546.8h0M946.0,506.2h0M948.9,521.6h0M950.8,546.8h0M952.7,546.8h0M954.5,546.8h0M956.4,546.8h0M958.3,546.8h0M960.1,546.8h0M962.0,546.8h0M963.9,546.8h0M965.7,546.8h0M967.6,546.8h0M969.5,546.8h0M971.3,546.8h0M973.2,546.8h0M975.1,546.8h0M977.0,546.8h0M978.8,546.8h0M980.7,546.8h0M982.6,546.8h0M984.4,546.8h0M986.3,546.8h0M988.2,546.8h0M990.0,546.8h0M991.9,546.8h0M993.8,546.8h0M995.6,546.8h0M997.5,546.8h0M999.4,546.8h0M1001.2,546.8h0M1003.1,546.8h0M1005.0,546.8h0M1006.9,545.0h0M1009.3,542.6h0M1010.9,534.6h0M1012.8,535.4h0M1014.6,536.2h0M1016.5,537.0h0M1018.4,537.8h0M1020.2,538.6h0M1022.1,539.3h0M1024.0,540.1h0M1025.8,540.9h0M1027.7,541.7h0M1029.6,542.5h0M1031.4,543.3h0M1033.3,544.1h0M1035.0,544.8h0M1037.0,546.8h0M1038.9,546.8h0M1040.7,546.8h0M1042.6,546.8h0M1044.5,546.8h0M1046.5,546.8h0M1048.5,518.5h0M1050.6,538.9h0M1052.5,546.8h0M1054.4,546.8h0M1056.2,546.8h0M1058.1,546.8h0M1060.0,546.8h0M1061.8,546.8h0M1063.7,546.8h0M1065.6,546.8h0M1067.4,546.8h0M1069.3,546.8h0M1071.2,546.8h0M1073.0,546.8h0M1074.9,546.8h0M1076.8,546.8h0M1078.2,546.8h0M1080.1,541.5h0M1082.1,497.8h0M1084.2,520.9h0M1086.1,546.8h0M1088.0,546.8h0M1089.8,546.8h0M1091.4,546.8h0M1093.3,478.2h0M1095.7,502.7h0M1097.6,540.0h0M1099.5,542.0h0M1101.4,539.5h0M1103.3,539.0h0M1105.2,540.4h0M1107.0,541.8h0M1108.9,543.2h0M1110.8,544.6h0M1112.0,545.5h0M1114.0,546.8h0M1115.9,546.8h0M1117.7,546.8h0M1119.6,546.8h0M1121.5,546.8h0M1123.3,546.8h0M1125.2,546.8h0M1127.1,546.8h0M1128.9,546.8h0M1130.8,546.8h0M1132.7,546.8h0M1134.5,546.8h0M1136.4,546.8h0M1138.3,546.8h0M1140.2,546.8h0M1142.0,546.8h0M1143.9,546.8h0M1145.8,546.8h0M1147.6,546.8h0M1149.5,546.8h0M1151.4,546.8h0M1153.2,546.8h0M1155.1,546.8h0M1157.0,546.8h0M1158.8,546.8h0M1160.7,546.8h0M1162.6,546.8h0M1164.4,546.8h0M1166.3,546.8h0M1168.2,546.8h0M1170.0,546.8h0M1171.9,546.8h0M1173.8,546.8h0M1175.6,546.8h0M1177.5,546.8h0M1179.4,546.8h0M1181.2,546.8h0M1183.1,546.8h0M1185.0,546.8h0M1186.9,546.8h0M1188.7,546.8h0M1190.6,546.8h0M1192.4,546.8h0M1193.1,512.0h0M1195.0,509.2h0M1196.0,507.6h0M1197.9,510.4h0M1199.7,513.3h0M1201.6,516.1h0M1203.5,518.9h0M1205.3,521.8h0M1207.2,524.6h0M1209.1,527.4h0M1210.9,530.3h0M1212.8,533.1h0M1214.7,535.9h0M1216.5,538.8h0M1218.4,541.6h0M1220.0,544.0h0M1222.0,546.8h0M1223.9,546.8h0M1225.7,546.8h0M1227.6,546.8h0M1229.5,546.8h0M1231.3,546.8h0M1233.2,546.8h0M1235.7,546.8h0M1237.6,539.2h0M1239.4,537.0h0M1241.3,539.3h0M1243.1,541.5h0M1245.0,543.8h0M1246.0,545.0h0M1248.0,546.8h0M1249.9,546.8h0M1251.7,546.8h0M1253.6,546.8h0M1255.5,546.8h0M1257.3,546.8h0M1259.2,546.8h0M1261.1,546.8h0M1262.9,546.8h0M1264.8,546.8h0M1266.7,546.8h0M1268.5,546.8h0M1270.4,546.8h0M1272.3,546.8h0M1274.2,546.8h0M1276.0,546.8h0M1277.9,546.8h0M1279.8,546.8h0M1281.0,546.8h0M1283.0,542.2h0M1285.6,536.0h0M1287.5,537.7h0M1289.3,539.4h0M1291.2,541.1h0M1294.0,543.7h0M1296.0,546.8h0M1297.9,546.8h0M1299.7,546.8h0M1301.6,546.8h0M1303.5,546.8h0M1305.3,546.8h0M1307.2,546.8h0M1309.1,546.8h0M1310.9,546.8h0M1312.8,546.8h0M1314.7,546.8h0M1316.5,546.8h0M1318.4,546.8h0M1320.3,546.8h0M1322.2,546.8h0M1324.0,546.8h0M1325.9,546.8h0M1327.8,546.8h0M1329.6,546.8h0M1331.5,546.8h0M1333.4,546.8h0M1335.2,546.8h0M1337.1,546.8h0M1339.0,546.8h0M1340.8,546.8h0M1342.7,546.8h0M1344.6,546.8h0M1346.4,546.8h0M1348.3,546.8h0M1350.2,546.8h0M1352.0,546.8h0M1353.9,546.8h0M1355.8,546.8h0M1357.6,546.8h0M1360.4,546.8h0M1362.3,520.2h0M1364.2,543.0h0M1366.0,546.8h0M1367.9,546.8h0M1369.7,546.8h0M1371.6,546.8h0M1373.5,546.8h0M1375.3,546.8h0M1377.2,546.8h0M1379.1,546.8h0M1380.9,546.8h0M1382.8,546.8h0M1384.7,546.8h0M1386.5,546.8h0M1388.4,546.8h0M1390.3,546.8h0M1392.2,546.8h0M1394.0,546.8h0M1395.9,546.8h0M1397.8,546.8h0M1399.6,546.8h0M1401.5,546.8h0M1403.4,546.8h0M1405.2,546.8h0M1407.1,546.8h0M1409.0,546.8h0M1410.8,546.8h0M1412.7,546.8h0M1414.6,546.8h0M1416.4,546.8h0M1418.3,546.8h0M1420.2,546.8h0M1422.0,546.8h0M1423.9,546.8h0M1425.8,546.8h0M1427.6,546.8h0M1429.5,546.8h0M1431.4,546.8h0M1433.2,546.8h0M1435.1,546.8h0M1437.0,546.8h0M1438.9,546.8h0M1440.7,546.8h0M1442.6,546.8h0M1444.5,546.8h0M1446.3,546.8h0M1448.2,546.8h0M1450.1,546.8h0M1451.9,546.8h0M1453.8,546.8h0M1455.7,546.8h0M1457.5,546.8h0M1459.4,546.8h0M1461.3,546.8h0M1463.1,546.8h0M1465.0,546.8h0M1466.9,546.8h0M1468.7,546.8h0M1470.6,546.8h0M1472.5,546.8h0M1474.3,546.8h0M1476.2,546.8h0M1478.1,546.8h0M1479.9,546.8h0M1481.8,546.8h0M1483.7,546.8h0M1485.6,546.8h0M1487.4,546.8h0M1489.3,546.8h0M1491.2,546.8h0M1493.0,546.8h0M1494.9,546.8h0M1496.8,546.8h0M1498.6,546.8h0M1500.5,546.8h0M1502.4,546.8h0M1504.2,546.8h0M1506.1,546.8h0M1508.0,546.8h0M1509.8,546.8h0M1511.7,546.8h0M1513.6,546.8h0M1515.4,546.8h0M1517.3,546.8h0M1519.2,546.8h0M1521.0,546.8h0M1522.9,546.8h0M1524.8,546.8h0M1526.6,546.8h0M1528.5,546.8h0M1530.6,546.8h0M1532.5,545.5h0M1534.0,541.0h0M1535.9,540.3h0M1537.8,540.8h0M1540.0,541.3h0M1541.9,542.2h0M1543.7,543.2h0M1546.5,544.6h0M1548.5,546.8h0M1550.4,546.8h0M1552.2,546.8h0M1554.1,546.8h0M1556.0,546.8h0M1557.8,546.8h0M1559.7,546.8h0M1561.6,546.8h0M1563.4,546.8h0M1565.3,546.8h0M1567.2,546.8h0M1569.0,546.8h0M1570.9,546.8h0M1572.8,546.8h0M1574.7,546.8h0M1576.5,546.8h0M1578.4,546.8h0M1580.3,546.8h0M1582.1,546.8h0M1584.0,546.8h0M1585.9,546.8h0M1587.7,546.8h0M1589.6,546.8h0M1591.5,546.8h0M1593.3,546.8h0M1595.2,546.8h0M1597.1,546.8h0M1598.9,546.8h0M1600.8,546.8h0M1602.7,546.8h0M1604.5,546.8h0M1606.4,546.8h0M1608.3,546.8h0M1610.1,546.8h0M1612.0,546.8h0M1613.9,546.8h0M1615.7,546.8h0M1617.6,546.8h0M1620.0,546.8h0" fill="none" stroke="#0079b6" stroke-width="6.0" stroke-linecap="round"/></g><g clip-path="url(#rc)"><path d="M453.0,641.8 L454.9,641.8 L456.7,641.8 L458.6,641.8 L460.5,641.8 L462.3,641.8 L464.2,641.8 L466.1,641.8 L467.9,641.8 L469.8,641.8 L471.7,641.8 L473.5,641.8 L475.4,641.8 L477.3,641.8 L479.2,641.8 L481.0,641.8 L482.9,641.8 L484.8,641.8 L486.6,641.8 L488.5,641.8 L490.4,641.8 L492.2,641.8 L494.1,641.8 L496.0,641.8 L497.8,641.8 L499.7,641.8 L501.6,641.8 L503.4,641.8 L505.3,641.8 L507.2,641.8 L509.0,641.8 L510.9,641.8 L512.8,641.8 L514.6,641.8 L516.5,641.8 L518.4,641.8 L520.2,641.8 L522.1,641.8 L524.0,641.8 L525.9,641.8 L527.7,641.8 L529.6,641.8 L531.5,641.8 L533.3,641.8 L535.2,641.8 L537.1,641.8 L538.9,641.8 L540.8,641.8 L542.7,641.8 L544.5,641.8 L546.4,641.8 L548.3,641.8 L550.1,641.8 L552.0,641.8 L553.9,641.8 L555.7,641.8 L557.6,641.8 L559.5,641.8 L561.3,641.8 L563.2,641.8 L565.1,641.8 L566.9,641.8 L568.8,641.8 L570.7,641.8 L572.6,641.8 L574.4,641.8 L576.3,641.8 L578.2,641.8 L580.0,641.8 L581.9,641.8 L583.8,641.8 L585.6,641.8 L587.5,641.8 L589.4,641.8 L591.2,641.8 L593.1,641.8 L595.0,641.8 L596.8,641.8 L598.7,641.8 L600.6,641.8 L602.4,641.8 L604.3,641.8 L606.2,641.8 L608.0,641.8 L609.9,641.8 L611.8,641.8 L613.6,641.8 L615.5,641.8 L617.4,641.8 L619.3,641.8 L621.1,641.8 L623.0,641.8 L624.9,641.8 L626.7,641.8 L628.6,641.8 L630.5,641.8 L632.3,641.8 L634.2,641.8 L636.1,641.8 L637.9,641.8 L639.8,641.8 L641.7,641.8 L643.5,641.8 L645.4,641.8 L647.3,641.8 L649.1,641.8 L651.0,641.8 L652.9,641.8 L654.7,641.8 L656.6,641.8 L658.5,641.8 L660.3,641.8 L662.2,641.8 L664.1,641.8 L666.0,641.8 L667.8,641.8 L669.7,641.8 L671.6,641.8 L673.4,641.8 L675.3,641.8 L677.2,641.8 L679.0,641.8 L680.9,641.8 L682.8,641.8 L684.6,641.8 L686.5,641.8 L688.4,641.8 L690.2,641.8 L692.1,641.8 L694.0,641.8 L695.8,641.8 L697.7,641.8 L699.6,641.8 L701.4,641.8 L703.3,641.8 L705.2,641.8 L707.0,641.8 L708.9,641.8 L710.8,641.8 L712.7,641.8 L714.5,641.8 L716.4,641.8 L718.3,641.8 L720.1,641.8 L722.0,641.8 L723.9,641.8 L725.7,641.8 L727.6,641.8 L729.5,641.8 L731.3,641.8 L733.2,641.8 L735.1,641.8 L736.9,641.8 L738.8,641.8 L740.7,641.8 L742.5,641.8 L744.4,641.8 L746.3,641.8 L748.1,641.8 L750.0,641.8 L751.9,641.8 L753.7,641.8 L755.6,641.8 L757.5,641.8 L759.4,641.8 L761.2,641.8 L763.1,641.8 L765.0,641.8 L766.8,641.8 L768.7,641.8 L770.6,641.8 L772.4,641.8 L774.3,641.8 L776.2,641.8 L778.0,641.8 L779.9,641.8 L781.8,641.8 L783.6,641.8 L785.5,641.8 L787.4,641.8 L789.2,641.8 L791.1,641.8 L793.0,641.8 L794.8,641.8 L796.7,641.8 L798.6,641.8 L800.4,641.8 L802.3,641.8 L804.2,641.8 L806.1,641.8 L807.9,641.8 L809.8,641.8 L811.7,641.8 L813.5,641.8 L815.4,641.8 L817.3,641.8 L819.1,641.8 L821.0,641.8 L822.9,641.8 L824.7,641.8 L826.6,641.8 L828.5,641.8 L830.3,641.8 L832.2,641.8 L834.1,641.8 L835.9,641.8 L837.8,641.8 L839.7,641.8 L841.5,641.8 L843.4,641.8 L845.3,641.8 L847.1,641.8 L849.0,641.8 L850.9,641.8 L852.8,641.8 L854.6,641.8 L856.5,641.8 L858.4,641.8 L860.2,641.8 L862.1,641.8 L864.0,641.8 L865.8,641.8 L867.7,641.8 L869.6,641.8 L871.4,641.8 L873.3,641.8 L875.2,641.8 L877.0,641.8 L878.9,641.8 L880.8,641.8 L882.6,641.8 L884.5,641.8 L886.4,641.8 L888.2,641.8 L890.1,641.8 L892.0,641.8 L893.8,641.8 L895.7,641.8 L897.6,641.8 L899.5,641.8 L901.3,641.8 L903.2,641.8 L905.1,641.8 L906.9,641.8 L908.8,641.8 L910.7,641.8 L912.5,641.8 L914.4,641.8 L916.3,641.8 L918.1,641.8 L920.0,641.8 L921.9,641.8 L923.7,641.8 L925.6,641.8 L927.5,641.8 L929.3,641.8 L931.2,641.8 L933.1,641.8 L934.9,641.8 L936.8,641.8 L938.7,641.8 L940.5,641.8 L942.4,641.8 L944.3,641.8 L946.2,641.8 L948.0,641.8 L949.9,641.8 L951.8,641.8 L953.6,641.8 L955.5,641.8 L957.4,641.8 L959.2,641.8 L961.1,641.8 L963.0,641.8 L964.8,641.8 L966.7,641.8 L968.6,641.8 L970.4,641.8 L972.3,641.8 L974.2,641.8 L976.0,641.8 L977.9,641.8 L979.8,641.8 L981.6,641.8 L983.5,641.8 L985.4,641.8 L987.2,641.8 L989.1,641.8 L991.0,641.8 L992.9,641.8 L994.7,641.8 L996.6,641.8 L998.5,641.8 L1000.3,641.8 L1002.2,641.8 L1004.1,641.8 L1005.9,641.8 L1007.8,641.8 L1009.7,641.8 L1011.5,641.8 L1013.4,641.8 L1015.3,641.8 L1017.1,641.8 L1019.0,641.8 L1020.9,641.8 L1022.7,641.8 L1024.6,641.8 L1026.5,641.8 L1028.3,641.8 L1030.2,641.8 L1032.1,641.8 L1033.9,641.8 L1035.8,641.8 L1037.7,641.8 L1039.6,641.8 L1041.4,641.8 L1043.3,641.8 L1045.2,641.8 L1047.0,641.8 L1048.9,641.8 L1050.8,641.8 L1052.6,641.8 L1054.5,641.8 L1056.4,641.8 L1058.2,641.8 L1060.1,641.8 L1062.0,641.8 L1063.8,641.8 L1065.7,641.8 L1067.6,641.8 L1069.4,641.8 L1071.3,641.8 L1073.2,641.8 L1075.0,641.8 L1076.9,641.8 L1078.8,641.8 L1080.6,641.8 L1082.5,641.8 L1084.4,641.8 L1086.3,641.8 L1088.1,641.8 L1090.0,641.8 L1091.9,641.8 L1093.7,641.8 L1095.6,641.8 L1097.5,641.8 L1099.3,641.8 L1101.2,641.8 L1103.1,641.8 L1104.9,641.8 L1106.8,641.8 L1108.7,641.8 L1110.5,641.8 L1112.4,641.8 L1114.3,641.8 L1116.1,641.8 L1118.0,641.8 L1119.9,641.8 L1121.7,641.8 L1123.6,641.8 L1125.5,641.8 L1127.3,641.8 L1129.2,641.8 L1131.1,641.8 L1133.0,641.8 L1134.8,641.8 L1136.7,641.8 L1138.6,641.8 L1140.4,641.8 L1142.3,641.8 L1144.2,641.8 L1146.0,641.8 L1147.9,641.8 L1149.8,641.8 L1151.6,641.8 L1153.5,641.8 L1155.4,641.8 L1157.2,641.8 L1159.1,641.8 L1161.0,641.8 L1162.8,641.8 L1164.7,641.8 L1166.6,641.8 L1168.4,641.8 L1170.3,641.8 L1172.2,641.8 L1174.0,641.8 L1175.9,641.8 L1177.8,641.8 L1179.7,641.8 L1181.5,641.8 L1183.4,641.8 L1185.3,641.8 L1187.1,641.8 L1189.0,641.8 L1190.9,641.8 L1192.7,641.8 L1194.6,641.8 L1196.5,641.8 L1198.3,641.8 L1200.2,641.8 L1202.1,641.8 L1203.9,641.8 L1205.8,641.8 L1207.7,641.8 L1209.5,641.8 L1211.4,641.8 L1213.3,641.8 L1215.1,641.8 L1217.0,641.8 L1218.9,641.8 L1220.7,641.8 L1222.6,641.8 L1224.5,641.8 L1226.4,641.8 L1228.2,641.8 L1230.1,641.8 L1232.0,641.8 L1233.8,641.8 L1235.7,641.8 L1237.6,641.8 L1239.4,641.8 L1241.3,641.8 L1243.2,641.8 L1245.0,641.8 L1246.9,641.8 L1248.8,641.8 L1250.6,641.8 L1252.5,641.8 L1254.4,641.8 L1256.2,641.8 L1258.1,641.8 L1260.0,641.8 L1261.8,641.8 L1263.7,641.8 L1265.6,641.8 L1267.4,641.8 L1269.3,641.8 L1271.2,641.8 L1273.1,641.8 L1274.9,641.8 L1276.8,641.8 L1278.7,641.8 L1280.5,641.8 L1282.4,641.8 L1284.3,641.8 L1286.1,641.8 L1288.0,641.8 L1289.9,641.8 L1291.7,641.8 L1293.6,641.8 L1295.5,641.8 L1297.3,641.8 L1299.2,641.8 L1301.1,641.8 L1302.9,641.8 L1304.8,641.8 L1306.7,641.8 L1308.5,641.8 L1310.4,641.8 L1312.3,641.8 L1314.1,641.8 L1316.0,641.8 L1317.9,641.8 L1319.8,641.8 L1321.6,641.8 L1323.5,641.8 L1325.4,641.8 L1327.2,641.8 L1329.1,641.8 L1331.0,641.8 L1332.8,641.8 L1334.7,641.8 L1336.6,641.8 L1338.4,641.8 L1340.3,641.8 L1342.2,641.8 L1344.0,641.8 L1345.9,641.8 L1347.8,641.8 L1349.6,641.8 L1351.5,641.8 L1353.4,641.8 L1355.2,641.8 L1357.1,641.8 L1359.0,641.8 L1360.8,641.8 L1362.7,641.8 L1364.6,641.8 L1366.5,641.8 L1368.3,641.8 L1370.2,641.8 L1372.1,641.8 L1373.9,641.8 L1375.8,641.8 L1377.7,641.8 L1379.5,641.8 L1381.4,641.8 L1383.3,641.8 L1385.1,641.8 L1387.0,641.8 L1388.9,641.8 L1390.7,641.8 L1392.6,641.8 L1394.5,641.8 L1396.3,641.8 L1398.2,641.8 L1400.1,641.8 L1401.9,641.8 L1403.8,641.8 L1405.7,641.8 L1407.5,641.8 L1409.4,641.8 L1411.3,641.8 L1413.2,641.8 L1415.0,641.8 L1416.9,641.8 L1418.8,641.8 L1420.6,641.8 L1422.5,641.8 L1424.4,641.8 L1426.2,641.8 L1428.1,641.8 L1430.0,641.8 L1431.8,641.8 L1433.7,641.8 L1435.6,641.8 L1437.4,641.8 L1439.3,641.8 L1441.2,641.8 L1443.0,641.8 L1444.9,641.8 L1446.8,641.8 L1448.6,641.8 L1450.5,641.8 L1452.4,641.8 L1454.2,641.8 L1456.1,641.8 L1458.0,641.8 L1459.9,641.8 L1461.7,641.8 L1463.6,641.8 L1465.5,641.8 L1467.3,641.8 L1469.2,641.8 L1471.1,641.8 L1472.9,641.8 L1474.8,641.8 L1476.7,641.8 L1478.5,641.8 L1480.4,641.8 L1482.3,641.8 L1484.1,641.8 L1486.0,641.8 L1487.9,641.8 L1489.7,641.8 L1491.6,641.8 L1493.5,641.8 L1495.3,641.8 L1497.2,641.8 L1499.1,641.8 L1500.9,641.8 L1502.8,641.8 L1504.7,641.8 L1506.6,641.8 L1508.4,641.8 L1510.3,641.8 L1512.2,641.8 L1514.0,641.8 L1515.9,641.8 L1517.8,641.8 L1519.6,641.8 L1521.5,641.8 L1523.4,641.8 L1525.2,641.8 L1527.1,641.8 L1529.0,641.8 L1530.8,641.8 L1532.7,641.8 L1534.6,641.8 L1536.4,641.8 L1538.3,641.8 L1540.2,641.8 L1542.0,641.8 L1543.9,641.8 L1545.8,641.8 L1547.6,641.8 L1549.5,641.8 L1551.4,641.8 L1553.3,641.8 L1555.1,641.8 L1557.0,641.8 L1558.9,641.8 L1560.7,641.8 L1562.6,641.8 L1564.5,641.8 L1566.3,641.8 L1568.2,641.8 L1570.1,641.8 L1571.9,641.8 L1573.8,641.8 L1575.7,641.8 L1577.5,641.8 L1579.4,641.8 L1581.3,641.8 L1583.1,641.8 L1585.0,641.8 L1586.9,641.8 L1588.7,641.8 L1590.6,641.8 L1592.5,641.8 L1594.3,641.8 L1596.2,641.8 L1598.1,641.8 L1600.0,641.8 L1601.8,641.8 L1603.7,641.8 L1605.6,641.8 L1607.4,641.8 L1609.3,641.8 L1611.2,641.8 L1613.0,641.8 L1614.9,641.8 L1616.8,641.8 L1618.6,641.8 L1620.0,641.8 L1620.0,641.9 L453.0,641.9 Z" fill="rgba(0,151,211,0.19)" stroke="none"/><path d="M453.0,641.8 L454.9,641.8 L456.7,641.8 L458.6,641.8 L460.5,641.8 L462.3,641.8 L464.2,641.8 L466.1,641.8 L467.9,641.8 L469.8,641.8 L471.7,641.8 L473.5,641.8 L475.4,641.8 L477.3,641.8 L479.2,641.8 L481.0,641.8 L482.9,641.8 L484.8,641.8 L486.6,641.8 L488.5,641.8 L490.4,641.8 L492.2,641.8 L494.1,641.8 L496.0,641.8 L497.8,641.8 L499.7,641.8 L501.6,641.8 L503.4,641.8 L505.3,641.8 L507.2,641.8 L509.0,641.8 L510.9,641.8 L512.8,641.8 L514.6,641.8 L516.5,641.8 L518.4,641.8 L520.2,641.8 L522.1,641.8 L524.0,641.8 L525.9,641.8 L527.7,641.8 L529.6,641.8 L531.5,641.8 L533.3,641.8 L535.2,641.8 L537.1,641.8 L538.9,641.8 L540.8,641.8 L542.7,641.8 L544.5,641.8 L546.4,641.8 L548.3,641.8 L550.1,641.8 L552.0,641.8 L553.9,641.8 L555.7,641.8 L557.6,641.8 L559.5,641.8 L561.3,641.8 L563.2,641.8 L565.1,641.8 L566.9,641.8 L568.8,641.8 L570.7,641.8 L572.6,641.8 L574.4,641.8 L576.3,641.8 L578.2,641.8 L580.0,641.8 L581.9,641.8 L583.8,641.8 L585.6,641.8 L587.5,641.8 L589.4,641.8 L591.2,641.8 L593.1,641.8 L595.0,641.8 L596.8,641.8 L598.7,641.8 L600.6,641.8 L602.4,641.8 L604.3,641.8 L606.2,641.8 L608.0,641.8 L609.9,641.8 L611.8,641.8 L613.6,641.8 L615.5,641.8 L617.4,641.8 L619.3,641.8 L621.1,641.8 L623.0,641.8 L624.9,641.8 L626.7,641.8 L628.6,641.8 L630.5,641.8 L632.3,641.8 L634.2,641.8 L636.1,641.8 L637.9,641.8 L639.8,641.8 L641.7,641.8 L643.5,641.8 L645.4,641.8 L647.3,641.8 L649.1,641.8 L651.0,641.8 L652.9,641.8 L654.7,641.8 L656.6,641.8 L658.5,641.8 L660.3,641.8 L662.2,641.8 L664.1,641.8 L666.0,641.8 L667.8,641.8 L669.7,641.8 L671.6,641.8 L673.4,641.8 L675.3,641.8 L677.2,641.8 L679.0,641.8 L680.9,641.8 L682.8,641.8 L684.6,641.8 L686.5,641.8 L688.4,641.8 L690.2,641.8 L692.1,641.8 L694.0,641.8 L695.8,641.8 L697.7,641.8 L699.6,641.8 L701.4,641.8 L703.3,641.8 L705.2,641.8 L707.0,641.8 L708.9,641.8 L710.8,641.8 L712.7,641.8 L714.5,641.8 L716.4,641.8 L718.3,641.8 L720.1,641.8 L722.0,641.8 L723.9,641.8 L725.7,641.8 L727.6,641.8 L729.5,641.8 L731.3,641.8 L733.2,641.8 L735.1,641.8 L736.9,641.8 L738.8,641.8 L740.7,641.8 L742.5,641.8 L744.4,641.8 L746.3,641.8 L748.1,641.8 L750.0,641.8 L751.9,641.8 L753.7,641.8 L755.6,641.8 L757.5,641.8 L759.4,641.8 L761.2,641.8 L763.1,641.8 L765.0,641.8 L766.8,641.8 L768.7,641.8 L770.6,641.8 L772.4,641.8 L774.3,641.8 L776.2,641.8 L778.0,641.8 L779.9,641.8 L781.8,641.8 L783.6,641.8 L785.5,641.8 L787.4,641.8 L789.2,641.8 L791.1,641.8 L793.0,641.8 L794.8,641.8 L796.7,641.8 L798.6,641.8 L800.4,641.8 L802.3,641.8 L804.2,641.8 L806.1,641.8 L807.9,641.8 L809.8,641.8 L811.7,641.8 L813.5,641.8 L815.4,641.8 L817.3,641.8 L819.1,641.8 L821.0,641.8 L822.9,641.8 L824.7,641.8 L826.6,641.8 L828.5,641.8 L830.3,641.8 L832.2,641.8 L834.1,641.8 L835.9,641.8 L837.8,641.8 L839.7,641.8 L841.5,641.8 L843.4,641.8 L845.3,641.8 L847.1,641.8 L849.0,641.8 L850.9,641.8 L852.8,641.8 L854.6,641.8 L856.5,641.8 L858.4,641.8 L860.2,641.8 L862.1,641.8 L864.0,641.8 L865.8,641.8 L867.7,641.8 L869.6,641.8 L871.4,641.8 L873.3,641.8 L875.2,641.8 L877.0,641.8 L878.9,641.8 L880.8,641.8 L882.6,641.8 L884.5,641.8 L886.4,641.8 L888.2,641.8 L890.1,641.8 L892.0,641.8 L893.8,641.8 L895.7,641.8 L897.6,641.8 L899.5,641.8 L901.3,641.8 L903.2,641.8 L905.1,641.8 L906.9,641.8 L908.8,641.8 L910.7,641.8 L912.5,641.8 L914.4,641.8 L916.3,641.8 L918.1,641.8 L920.0,641.8 L921.9,641.8 L923.7,641.8 L925.6,641.8 L927.5,641.8 L929.3,641.8 L931.2,641.8 L933.1,641.8 L934.9,641.8 L936.8,641.8 L938.7,641.8 L940.5,641.8 L942.4,641.8 L944.3,641.8 L946.2,641.8 L948.0,641.8 L949.9,641.8 L951.8,641.8 L953.6,641.8 L955.5,641.8 L957.4,641.8 L959.2,641.8 L961.1,641.8 L963.0,641.8 L964.8,641.8 L966.7,641.8 L968.6,641.8 L970.4,641.8 L972.3,641.8 L974.2,641.8 L976.0,641.8 L977.9,641.8 L979.8,641.8 L981.6,641.8 L983.5,641.8 L985.4,641.8 L987.2,641.8 L989.1,641.8 L991.0,641.8 L992.9,641.8 L994.7,641.8 L996.6,641.8 L998.5,641.8 L1000.3,641.8 L1002.2,641.8 L1004.1,641.8 L1005.9,641.8 L1007.8,641.8 L1009.7,641.8 L1011.5,641.8 L1013.4,641.8 L1015.3,641.8 L1017.1,641.8 L1019.0,641.8 L1020.9,641.8 L1022.7,641.8 L1024.6,641.8 L1026.5,641.8 L1028.3,641.8 L1030.2,641.8 L1032.1,641.8 L1033.9,641.8 L1035.8,641.8 L1037.7,641.8 L1039.6,641.8 L1041.4,641.8 L1043.3,641.8 L1045.2,641.8 L1047.0,641.8 L1048.9,641.8 L1050.8,641.8 L1052.6,641.8 L1054.5,641.8 L1056.4,641.8 L1058.2,641.8 L1060.1,641.8 L1062.0,641.8 L1063.8,641.8 L1065.7,641.8 L1067.6,641.8 L1069.4,641.8 L1071.3,641.8 L1073.2,641.8 L1075.0,641.8 L1076.9,641.8 L1078.8,641.8 L1080.6,641.8 L1082.5,641.8 L1084.4,641.8 L1086.3,641.8 L1088.1,641.8 L1090.0,641.8 L1091.9,641.8 L1093.7,641.8 L1095.6,641.8 L1097.5,641.8 L1099.3,641.8 L1101.2,641.8 L1103.1,641.8 L1104.9,641.8 L1106.8,641.8 L1108.7,641.8 L1110.5,641.8 L1112.4,641.8 L1114.3,641.8 L1116.1,641.8 L1118.0,641.8 L1119.9,641.8 L1121.7,641.8 L1123.6,641.8 L1125.5,641.8 L1127.3,641.8 L1129.2,641.8 L1131.1,641.8 L1133.0,641.8 L1134.8,641.8 L1136.7,641.8 L1138.6,641.8 L1140.4,641.8 L1142.3,641.8 L1144.2,641.8 L1146.0,641.8 L1147.9,641.8 L1149.8,641.8 L1151.6,641.8 L1153.5,641.8 L1155.4,641.8 L1157.2,641.8 L1159.1,641.8 L1161.0,641.8 L1162.8,641.8 L1164.7,641.8 L1166.6,641.8 L1168.4,641.8 L1170.3,641.8 L1172.2,641.8 L1174.0,641.8 L1175.9,641.8 L1177.8,641.8 L1179.7,641.8 L1181.5,641.8 L1183.4,641.8 L1185.3,641.8 L1187.1,641.8 L1189.0,641.8 L1190.9,641.8 L1192.7,641.8 L1194.6,641.8 L1196.5,641.8 L1198.3,641.8 L1200.2,641.8 L1202.1,641.8 L1203.9,641.8 L1205.8,641.8 L1207.7,641.8 L1209.5,641.8 L1211.4,641.8 L1213.3,641.8 L1215.1,641.8 L1217.0,641.8 L1218.9,641.8 L1220.7,641.8 L1222.6,641.8 L1224.5,641.8 L1226.4,641.8 L1228.2,641.8 L1230.1,641.8 L1232.0,641.8 L1233.8,641.8 L1235.7,641.8 L1237.6,641.8 L1239.4,641.8 L1241.3,641.8 L1243.2,641.8 L1245.0,641.8 L1246.9,641.8 L1248.8,641.8 L1250.6,641.8 L1252.5,641.8 L1254.4,641.8 L1256.2,641.8 L1258.1,641.8 L1260.0,641.8 L1261.8,641.8 L1263.7,641.8 L1265.6,641.8 L1267.4,641.8 L1269.3,641.8 L1271.2,641.8 L1273.1,641.8 L1274.9,641.8 L1276.8,641.8 L1278.7,641.8 L1280.5,641.8 L1282.4,641.8 L1284.3,641.8 L1286.1,641.8 L1288.0,641.8 L1289.9,641.8 L1291.7,641.8 L1293.6,641.8 L1295.5,641.8 L1297.3,641.8 L1299.2,641.8 L1301.1,641.8 L1302.9,641.8 L1304.8,641.8 L1306.7,641.8 L1308.5,641.8 L1310.4,641.8 L1312.3,641.8 L1314.1,641.8 L1316.0,641.8 L1317.9,641.8 L1319.8,641.8 L1321.6,641.8 L1323.5,641.8 L1325.4,641.8 L1327.2,641.8 L1329.1,641.8 L1331.0,641.8 L1332.8,641.8 L1334.7,641.8 L1336.6,641.8 L1338.4,641.8 L1340.3,641.8 L1342.2,641.8 L1344.0,641.8 L1345.9,641.8 L1347.8,641.8 L1349.6,641.8 L1351.5,641.8 L1353.4,641.8 L1355.2,641.8 L1357.1,641.8 L1359.0,641.8 L1360.8,641.8 L1362.7,641.8 L1364.6,641.8 L1366.5,641.8 L1368.3,641.8 L1370.2,641.8 L1372.1,641.8 L1373.9,641.8 L1375.8,641.8 L1377.7,641.8 L1379.5,641.8 L1381.4,641.8 L1383.3,641.8 L1385.1,641.8 L1387.0,641.8 L1388.9,641.8 L1390.7,641.8 L1392.6,641.8 L1394.5,641.8 L1396.3,641.8 L1398.2,641.8 L1400.1,641.8 L1401.9,641.8 L1403.8,641.8 L1405.7,641.8 L1407.5,641.8 L1409.4,641.8 L1411.3,641.8 L1413.2,641.8 L1415.0,641.8 L1416.9,641.8 L1418.8,641.8 L1420.6,641.8 L1422.5,641.8 L1424.4,641.8 L1426.2,641.8 L1428.1,641.8 L1430.0,641.8 L1431.8,641.8 L1433.7,641.8 L1435.6,641.8 L1437.4,641.8 L1439.3,641.8 L1441.2,641.8 L1443.0,641.8 L1444.9,641.8 L1446.8,641.8 L1448.6,641.8 L1450.5,641.8 L1452.4,641.8 L1454.2,641.8 L1456.1,641.8 L1458.0,641.8 L1459.9,641.8 L1461.7,641.8 L1463.6,641.8 L1465.5,641.8 L1467.3,641.8 L1469.2,641.8 L1471.1,641.8 L1472.9,641.8 L1474.8,641.8 L1476.7,641.8 L1478.5,641.8 L1480.4,641.8 L1482.3,641.8 L1484.1,641.8 L1486.0,641.8 L1487.9,641.8 L1489.7,641.8 L1491.6,641.8 L1493.5,641.8 L1495.3,641.8 L1497.2,641.8 L1499.1,641.8 L1500.9,641.8 L1502.8,641.8 L1504.7,641.8 L1506.6,641.8 L1508.4,641.8 L1510.3,641.8 L1512.2,641.8 L1514.0,641.8 L1515.9,641.8 L1517.8,641.8 L1519.6,641.8 L1521.5,641.8 L1523.4,641.8 L1525.2,641.8 L1527.1,641.8 L1529.0,641.8 L1530.8,641.8 L1532.7,641.8 L1534.6,641.8 L1536.4,641.8 L1538.3,641.8 L1540.2,641.8 L1542.0,641.8 L1543.9,641.8 L1545.8,641.8 L1547.6,641.8 L1549.5,641.8 L1551.4,641.8 L1553.3,641.8 L1555.1,641.8 L1557.0,641.8 L1558.9,641.8 L1560.7,641.8 L1562.6,641.8 L1564.5,641.8 L1566.3,641.8 L1568.2,641.8 L1570.1,641.8 L1571.9,641.8 L1573.8,641.8 L1575.7,641.8 L1577.5,641.8 L1579.4,641.8 L1581.3,641.8 L1583.1,641.8 L1585.0,641.8 L1586.9,641.8 L1588.7,641.8 L1590.6,641.8 L1592.5,641.8 L1594.3,641.8 L1596.2,641.8 L1598.1,641.8 L1600.0,641.8 L1601.8,641.8 L1603.7,641.8 L1605.6,641.8 L1607.4,641.8 L1609.3,641.8 L1611.2,641.8 L1613.0,641.8 L1614.9,641.8 L1616.8,641.8 L1618.6,641.8 L1620.0,641.8" fill="none" stroke="#0097d3" stroke-width="2.0" stroke-linejoin="round"/><path d="M453.0,641.8h0M454.9,641.8h0M456.7,641.8h0M458.6,641.8h0M460.5,641.8h0M462.3,641.8h0M464.2,641.8h0M466.1,641.8h0M467.9,641.8h0M469.8,641.8h0M471.7,641.8h0M473.5,641.8h0M475.4,641.8h0M477.3,641.8h0M479.2,641.8h0M481.0,641.8h0M482.9,641.8h0M484.8,641.8h0M486.6,641.8h0M488.5,641.8h0M490.4,641.8h0M492.2,641.8h0M494.1,641.8h0M496.0,641.8h0M497.8,641.8h0M499.7,641.8h0M501.6,641.8h0M503.4,641.8h0M505.3,641.8h0M507.2,641.8h0M509.0,641.8h0M510.9,641.8h0M512.8,641.8h0M514.6,641.8h0M516.5,641.8h0M518.4,641.8h0M520.2,641.8h0M522.1,641.8h0M524.0,641.8h0M525.9,641.8h0M527.7,641.8h0M529.6,641.8h0M531.5,641.8h0M533.3,641.8h0M535.2,641.8h0M537.1,641.8h0M538.9,641.8h0M540.8,641.8h0M542.7,641.8h0M544.5,641.8h0M546.4,641.8h0M548.3,641.8h0M550.1,641.8h0M552.0,641.8h0M553.9,641.8h0M555.7,641.8h0M557.6,641.8h0M559.5,641.8h0M561.3,641.8h0M563.2,641.8h0M565.1,641.8h0M566.9,641.8h0M568.8,641.8h0M570.7,641.8h0M572.6,641.8h0M574.4,641.8h0M576.3,641.8h0M578.2,641.8h0M580.0,641.8h0M581.9,641.8h0M583.8,641.8h0M585.6,641.8h0M587.5,641.8h0M589.4,641.8h0M591.2,641.8h0M593.1,641.8h0M595.0,641.8h0M596.8,641.8h0M598.7,641.8h0M600.6,641.8h0M602.4,641.8h0M604.3,641.8h0M606.2,641.8h0M608.0,641.8h0M609.9,641.8h0M611.8,641.8h0M613.6,641.8h0M615.5,641.8h0M617.4,641.8h0M619.3,641.8h0M621.1,641.8h0M623.0,641.8h0M624.9,641.8h0M626.7,641.8h0M628.6,641.8h0M630.5,641.8h0M632.3,641.8h0M634.2,641.8h0M636.1,641.8h0M637.9,641.8h0M639.8,641.8h0M641.7,641.8h0M643.5,641.8h0M645.4,641.8h0M647.3,641.8h0M649.1,641.8h0M651.0,641.8h0M652.9,641.8h0M654.7,641.8h0M656.6,641.8h0M658.5,641.8h0M660.3,641.8h0M662.2,641.8h0M664.1,641.8h0M666.0,641.8h0M667.8,641.8h0M669.7,641.8h0M671.6,641.8h0M673.4,641.8h0M675.3,641.8h0M677.2,641.8h0M679.0,641.8h0M680.9,641.8h0M682.8,641.8h0M684.6,641.8h0M686.5,641.8h0M688.4,641.8h0M690.2,641.8h0M692.1,641.8h0M694.0,641.8h0M695.8,641.8h0M697.7,641.8h0M699.6,641.8h0M701.4,641.8h0M703.3,641.8h0M705.2,641.8h0M707.0,641.8h0M708.9,641.8h0M710.8,641.8h0M712.7,641.8h0M714.5,641.8h0M716.4,641.8h0M718.3,641.8h0M720.1,641.8h0M722.0,641.8h0M723.9,641.8h0M725.7,641.8h0M727.6,641.8h0M729.5,641.8h0M731.3,641.8h0M733.2,641.8h0M735.1,641.8h0M736.9,641.8h0M738.8,641.8h0M740.7,641.8h0M742.5,641.8h0M744.4,641.8h0M746.3,641.8h0M748.1,641.8h0M750.0,641.8h0M751.9,641.8h0M753.7,641.8h0M755.6,641.8h0M757.5,641.8h0M759.4,641.8h0M761.2,641.8h0M763.1,641.8h0M765.0,641.8h0M766.8,641.8h0M768.7,641.8h0M770.6,641.8h0M772.4,641.8h0M774.3,641.8h0M776.2,641.8h0M778.0,641.8h0M779.9,641.8h0M781.8,641.8h0M783.6,641.8h0M785.5,641.8h0M787.4,641.8h0M789.2,641.8h0M791.1,641.8h0M793.0,641.8h0M794.8,641.8h0M796.7,641.8h0M798.6,641.8h0M800.4,641.8h0M802.3,641.8h0M804.2,641.8h0M806.1,641.8h0M807.9,641.8h0M809.8,641.8h0M811.7,641.8h0M813.5,641.8h0M815.4,641.8h0M817.3,641.8h0M819.1,641.8h0M821.0,641.8h0M822.9,641.8h0M824.7,641.8h0M826.6,641.8h0M828.5,641.8h0M830.3,641.8h0M832.2,641.8h0M834.1,641.8h0M835.9,641.8h0M837.8,641.8h0M839.7,641.8h0M841.5,641.8h0M843.4,641.8h0M845.3,641.8h0M847.1,641.8h0M849.0,641.8h0M850.9,641.8h0M852.8,641.8h0M854.6,641.8h0M856.5,641.8h0M858.4,641.8h0M860.2,641.8h0M862.1,641.8h0M864.0,641.8h0M865.8,641.8h0M867.7,641.8h0M869.6,641.8h0M871.4,641.8h0M873.3,641.8h0M875.2,641.8h0M877.0,641.8h0M878.9,641.8h0M880.8,641.8h0M882.6,641.8h0M884.5,641.8h0M886.4,641.8h0M888.2,641.8h0M890.1,641.8h0M892.0,641.8h0M893.8,641.8h0M895.7,641.8h0M897.6,641.8h0M899.5,641.8h0M901.3,641.8h0M903.2,641.8h0M905.1,641.8h0M906.9,641.8h0M908.8,641.8h0M910.7,641.8h0M912.5,641.8h0M914.4,641.8h0M916.3,641.8h0M918.1,641.8h0M920.0,641.8h0M921.9,641.8h0M923.7,641.8h0M925.6,641.8h0M927.5,641.8h0M929.3,641.8h0M931.2,641.8h0M933.1,641.8h0M934.9,641.8h0M936.8,641.8h0M938.7,641.8h0M940.5,641.8h0M942.4,641.8h0M944.3,641.8h0M946.2,641.8h0M948.0,641.8h0M949.9,641.8h0M951.8,641.8h0M953.6,641.8h0M955.5,641.8h0M957.4,641.8h0M959.2,641.8h0M961.1,641.8h0M963.0,641.8h0M964.8,641.8h0M966.7,641.8h0M968.6,641.8h0M970.4,641.8h0M972.3,641.8h0M974.2,641.8h0M976.0,641.8h0M977.9,641.8h0M979.8,641.8h0M981.6,641.8h0M983.5,641.8h0M985.4,641.8h0M987.2,641.8h0M989.1,641.8h0M991.0,641.8h0M992.9,641.8h0M994.7,641.8h0M996.6,641.8h0M998.5,641.8h0M1000.3,641.8h0M1002.2,641.8h0M1004.1,641.8h0M1005.9,641.8h0M1007.8,641.8h0M1009.7,641.8h0M1011.5,641.8h0M1013.4,641.8h0M1015.3,641.8h0M1017.1,641.8h0M1019.0,641.8h0M1020.9,641.8h0M1022.7,641.8h0M1024.6,641.8h0M1026.5,641.8h0M1028.3,641.8h0M1030.2,641.8h0M1032.1,641.8h0M1033.9,641.8h0M1035.8,641.8h0M1037.7,641.8h0M1039.6,641.8h0M1041.4,641.8h0M1043.3,641.8h0M1045.2,641.8h0M1047.0,641.8h0M1048.9,641.8h0M1050.8,641.8h0M1052.6,641.8h0M1054.5,641.8h0M1056.4,641.8h0M1058.2,641.8h0M1060.1,641.8h0M1062.0,641.8h0M1063.8,641.8h0M1065.7,641.8h0M1067.6,641.8h0M1069.4,641.8h0M1071.3,641.8h0M1073.2,641.8h0M1075.0,641.8h0M1076.9,641.8h0M1078.8,641.8h0M1080.6,641.8h0M1082.5,641.8h0M1084.4,641.8h0M1086.3,641.8h0M1088.1,641.8h0M1090.0,641.8h0M1091.9,641.8h0M1093.7,641.8h0M1095.6,641.8h0M1097.5,641.8h0M1099.3,641.8h0M1101.2,641.8h0M1103.1,641.8h0M1104.9,641.8h0M1106.8,641.8h0M1108.7,641.8h0M1110.5,641.8h0M1112.4,641.8h0M1114.3,641.8h0M1116.1,641.8h0M1118.0,641.8h0M1119.9,641.8h0M1121.7,641.8h0M1123.6,641.8h0M1125.5,641.8h0M1127.3,641.8h0M1129.2,641.8h0M1131.1,641.8h0M1133.0,641.8h0M1134.8,641.8h0M1136.7,641.8h0M1138.6,641.8h0M1140.4,641.8h0M1142.3,641.8h0M1144.2,641.8h0M1146.0,641.8h0M1147.9,641.8h0M1149.8,641.8h0M1151.6,641.8h0M1153.5,641.8h0M1155.4,641.8h0M1157.2,641.8h0M1159.1,641.8h0M1161.0,641.8h0M1162.8,641.8h0M1164.7,641.8h0M1166.6,641.8h0M1168.4,641.8h0M1170.3,641.8h0M1172.2,641.8h0M1174.0,641.8h0M1175.9,641.8h0M1177.8,641.8h0M1179.7,641.8h0M1181.5,641.8h0M1183.4,641.8h0M1185.3,641.8h0M1187.1,641.8h0M1189.0,641.8h0M1190.9,641.8h0M1192.7,641.8h0M1194.6,641.8h0M1196.5,641.8h0M1198.3,641.8h0M1200.2,641.8h0M1202.1,641.8h0M1203.9,641.8h0M1205.8,641.8h0M1207.7,641.8h0M1209.5,641.8h0M1211.4,641.8h0M1213.3,641.8h0M1215.1,641.8h0M1217.0,641.8h0M1218.9,641.8h0M1220.7,641.8h0M1222.6,641.8h0M1224.5,641.8h0M1226.4,641.8h0M1228.2,641.8h0M1230.1,641.8h0M1232.0,641.8h0M1233.8,641.8h0M1235.7,641.8h0M1237.6,641.8h0M1239.4,641.8h0M1241.3,641.8h0M1243.2,641.8h0M1245.0,641.8h0M1246.9,641.8h0M1248.8,641.8h0M1250.6,641.8h0M1252.5,641.8h0M1254.4,641.8h0M1256.2,641.8h0M1258.1,641.8h0M1260.0,641.8h0M1261.8,641.8h0M1263.7,641.8h0M1265.6,641.8h0M1267.4,641.8h0M1269.3,641.8h0M1271.2,641.8h0M1273.1,641.8h0M1274.9,641.8h0M1276.8,641.8h0M1278.7,641.8h0M1280.5,641.8h0M1282.4,641.8h0M1284.3,641.8h0M1286.1,641.8h0M1288.0,641.8h0M1289.9,641.8h0M1291.7,641.8h0M1293.6,641.8h0M1295.5,641.8h0M1297.3,641.8h0M1299.2,641.8h0M1301.1,641.8h0M1302.9,641.8h0M1304.8,641.8h0M1306.7,641.8h0M1308.5,641.8h0M1310.4,641.8h0M1312.3,641.8h0M1314.1,641.8h0M1316.0,641.8h0M1317.9,641.8h0M1319.8,641.8h0M1321.6,641.8h0M1323.5,641.8h0M1325.4,641.8h0M1327.2,641.8h0M1329.1,641.8h0M1331.0,641.8h0M1332.8,641.8h0M1334.7,641.8h0M1336.6,641.8h0M1338.4,641.8h0M1340.3,641.8h0M1342.2,641.8h0M1344.0,641.8h0M1345.9,641.8h0M1347.8,641.8h0M1349.6,641.8h0M1351.5,641.8h0M1353.4,641.8h0M1355.2,641.8h0M1357.1,641.8h0M1359.0,641.8h0M1360.8,641.8h0M1362.7,641.8h0M1364.6,641.8h0M1366.5,641.8h0M1368.3,641.8h0M1370.2,641.8h0M1372.1,641.8h0M1373.9,641.8h0M1375.8,641.8h0M1377.7,641.8h0M1379.5,641.8h0M1381.4,641.8h0M1383.3,641.8h0M1385.1,641.8h0M1387.0,641.8h0M1388.9,641.8h0M1390.7,641.8h0M1392.6,641.8h0M1394.5,641.8h0M1396.3,641.8h0M1398.2,641.8h0M1400.1,641.8h0M1401.9,641.8h0M1403.8,641.8h0M1405.7,641.8h0M1407.5,641.8h0M1409.4,641.8h0M1411.3,641.8h0M1413.2,641.8h0M1415.0,641.8h0M1416.9,641.8h0M1418.8,641.8h0M1420.6,641.8h0M1422.5,641.8h0M1424.4,641.8h0M1426.2,641.8h0M1428.1,641.8h0M1430.0,641.8h0M1431.8,641.8h0M1433.7,641.8h0M1435.6,641.8h0M1437.4,641.8h0M1439.3,641.8h0M1441.2,641.8h0M1443.0,641.8h0M1444.9,641.8h0M1446.8,641.8h0M1448.6,641.8h0M1450.5,641.8h0M1452.4,641.8h0M1454.2,641.8h0M1456.1,641.8h0M1458.0,641.8h0M1459.9,641.8h0M1461.7,641.8h0M1463.6,641.8h0M1465.5,641.8h0M1467.3,641.8h0M1469.2,641.8h0M1471.1,641.8h0M1472.9,641.8h0M1474.8,641.8h0M1476.7,641.8h0M1478.5,641.8h0M1480.4,641.8h0M1482.3,641.8h0M1484.1,641.8h0M1486.0,641.8h0M1487.9,641.8h0M1489.7,641.8h0M1491.6,641.8h0M1493.5,641.8h0M1495.3,641.8h0M1497.2,641.8h0M1499.1,641.8h0M1500.9,641.8h0M1502.8,641.8h0M1504.7,641.8h0M1506.6,641.8h0M1508.4,641.8h0M1510.3,641.8h0M1512.2,641.8h0M1514.0,641.8h0M1515.9,641.8h0M1517.8,641.8h0M1519.6,641.8h0M1521.5,641.8h0M1523.4,641.8h0M1525.2,641.8h0M1527.1,641.8h0M1529.0,641.8h0M1530.8,641.8h0M1532.7,641.8h0M1534.6,641.8h0M1536.4,641.8h0M1538.3,641.8h0M1540.2,641.8h0M1542.0,641.8h0M1543.9,641.8h0M1545.8,641.8h0M1547.6,641.8h0M1549.5,641.8h0M1551.4,641.8h0M1553.3,641.8h0M1555.1,641.8h0M1557.0,641.8h0M1558.9,641.8h0M1560.7,641.8h0M1562.6,641.8h0M1564.5,641.8h0M1566.3,641.8h0M1568.2,641.8h0M1570.1,641.8h0M1571.9,641.8h0M1573.8,641.8h0M1575.7,641.8h0M1577.5,641.8h0M1579.4,641.8h0M1581.3,641.8h0M1583.1,641.8h0M1585.0,641.8h0M1586.9,641.8h0M1588.7,641.8h0M1590.6,641.8h0M1592.5,641.8h0M1594.3,641.8h0M1596.2,641.8h0M1598.1,641.8h0M1600.0,641.8h0M1601.8,641.8h0M1603.7,641.8h0M1605.6,641.8h0M1607.4,641.8h0M1609.3,641.8h0M1611.2,641.8h0M1613.0,641.8h0M1614.9,641.8h0M1616.8,641.8h0M1618.6,641.8h0M1620.0,641.8h0" fill="none" stroke="#0097d3" stroke-width="6.0" stroke-linecap="round"/><path d="M283.0,641.9 L382.2,641.9 L384.1,641.9 L385.9,641.9 L387.2,641.9 L395.0,641.9 L412.1,641.9 L414.0,641.9 L415.8,641.9 L417.7,641.9 L418.9,641.9 L436.0,641.9 L453.0,641.9 L454.9,641.9 L456.7,641.8 L458.6,641.8 L460.5,641.8 L462.3,641.8 L464.2,641.7 L466.1,641.7 L467.9,641.7 L470.0,641.7 L471.9,641.7 L473.7,641.7 L475.6,641.8 L477.5,641.8 L479.3,641.8 L481.2,641.9 L483.0,641.9 L485.2,638.1 L487.1,637.2 L489.4,637.0 L491.3,637.2 L492.5,637.3 L494.4,638.2 L496.2,639.2 L498.1,640.1 L500.4,641.2 L502.6,641.9 L504.6,637.6 L506.5,637.8 L508.3,638.1 L510.2,638.3 L512.1,638.6 L513.9,638.8 L515.8,639.1 L517.7,639.3 L520.0,639.6 L521.9,639.8 L523.7,640.1 L525.6,640.3 L527.5,640.5 L529.3,640.7 L531.2,640.9 L533.1,641.2 L535.5,641.5 L537.5,641.9 L539.4,641.9 L541.2,641.9 L543.1,641.9 L545.0,641.9 L546.8,641.9 L548.7,641.9 L550.6,641.9 L552.4,641.9 L554.3,641.9 L556.2,641.9 L558.0,641.9 L560.0,641.9 L561.9,641.9 L563.7,641.9 L565.6,641.8 L567.5,641.8 L569.3,641.8 L571.2,641.8 L573.1,641.7 L575.0,641.7 L576.9,641.7 L578.7,641.8 L580.6,641.8 L582.5,641.8 L584.3,641.8 L586.2,641.8 L588.1,641.9 L590.0,641.9 L591.9,641.9 L593.7,641.9 L595.6,641.9 L597.5,641.9 L599.3,641.9 L601.2,641.9 L603.1,641.9 L604.9,641.9 L606.8,641.9 L608.7,641.9 L610.5,641.9 L611.5,641.9 L613.4,640.6 L615.3,640.6 L617.5,640.6 L619.3,638.6 L621.2,638.7 L623.0,638.9 L624.9,639.1 L626.8,639.2 L628.6,639.4 L630.5,639.5 L632.4,639.7 L634.2,639.9 L636.1,640.0 L638.0,640.2 L639.8,640.4 L642.0,640.5 L643.2,627.0 L645.1,618.6 L650.3,620.3 L652.7,630.3 L654.6,635.1 L656.5,640.2 L658.4,641.9 L660.3,641.9 L662.1,641.9 L664.0,641.9 L665.9,641.9 L667.7,641.9 L669.6,641.9 L671.5,641.9 L673.3,641.9 L675.2,641.9 L677.1,641.9 L678.9,641.9 L680.6,641.9 L682.5,635.6 L684.4,641.9 L686.3,641.9 L688.1,641.9 L690.0,641.9 L691.9,641.9 L693.4,641.9 L695.3,632.3 L697.2,640.2 L699.3,630.7 L701.2,641.9 L703.1,641.9 L704.9,641.9 L706.8,641.9 L708.7,641.9 L710.5,641.9 L712.4,641.9 L714.3,641.9 L716.1,641.9 L718.0,641.9 L719.9,641.9 L721.7,641.9 L723.6,641.9 L725.5,641.9 L727.4,641.9 L729.2,641.9 L731.1,641.9 L733.0,641.9 L735.5,641.9 L737.2,623.6 L738.6,597.0 L740.6,624.7 L742.5,641.9 L744.4,641.9 L746.2,641.9 L748.1,641.9 L750.0,641.9 L751.8,641.9 L753.7,641.9 L755.6,641.9 L757.4,641.9 L759.3,641.9 L761.2,641.9 L763.0,641.9 L764.9,641.9 L766.8,641.9 L768.7,641.9 L770.5,641.9 L772.4,641.9 L774.3,641.9 L776.1,641.9 L778.0,641.9 L779.9,641.9 L781.7,641.9 L783.6,641.9 L785.5,641.9 L787.3,641.9 L789.2,641.9 L791.1,641.9 L792.9,641.9 L794.8,641.9 L796.7,641.9 L798.5,641.9 L800.4,641.9 L802.3,641.9 L804.1,641.9 L806.0,641.9 L807.9,641.9 L809.7,641.9 L811.6,641.9 L813.5,641.9 L815.4,641.9 L817.2,641.9 L819.5,641.9 L821.3,640.4 L822.2,631.6 L824.1,631.9 L825.9,632.2 L827.8,632.5 L829.7,632.9 L831.5,633.2 L833.4,633.5 L835.0,633.8 L836.9,634.2 L838.7,634.6 L840.6,635.0 L842.5,635.3 L844.3,635.7 L846.2,636.1 L848.0,636.5 L849.9,637.0 L851.7,637.5 L853.6,638.0 L855.5,638.6 L857.0,639.0 L858.9,639.6 L860.7,640.3 L862.6,641.0 L864.0,641.5 L866.0,641.9 L867.9,641.9 L869.7,641.9 L871.6,641.9 L873.5,641.9 L875.3,641.9 L877.2,641.9 L879.1,641.9 L880.9,641.9 L882.8,641.9 L884.7,641.9 L886.5,641.9 L888.4,641.9 L890.3,641.9 L892.2,641.9 L894.0,641.9 L895.9,641.9 L897.8,641.9 L899.6,641.9 L901.5,641.9 L903.4,641.9 L905.2,641.9 L907.1,641.9 L909.0,641.9 L910.8,641.9 L912.2,641.9 L914.0,633.3 L915.9,641.0 L917.8,641.9 L919.7,641.9 L921.5,641.9 L923.4,641.9 L925.3,641.9 L927.1,641.9 L929.0,641.9 L930.9,641.9 L932.7,641.9 L934.6,641.9 L936.5,641.9 L938.3,641.9 L940.2,641.9 L942.1,641.9 L944.2,641.9 L946.0,631.8 L948.9,635.7 L950.8,641.9 L952.7,641.9 L954.5,641.9 L956.4,641.9 L958.3,641.9 L960.1,641.9 L962.0,641.9 L963.9,641.9 L965.7,641.9 L967.6,641.9 L969.5,641.9 L971.3,641.9 L973.2,641.9 L975.1,641.9 L977.0,641.9 L978.8,641.9 L980.7,641.9 L982.6,641.9 L984.4,641.9 L986.3,641.9 L988.2,641.9 L990.0,641.9 L991.9,641.9 L993.8,641.9 L995.6,641.9 L997.5,641.9 L999.4,641.9 L1001.2,641.9 L1003.1,641.9 L1005.0,641.9 L1006.9,641.4 L1009.3,640.9 L1010.9,638.9 L1012.8,639.1 L1014.6,639.3 L1016.5,639.5 L1018.4,639.7 L1020.2,639.9 L1022.1,640.1 L1024.0,640.2 L1025.8,640.4 L1027.7,640.6 L1029.6,640.8 L1031.4,641.0 L1033.3,641.2 L1035.0,641.4 L1037.0,641.9 L1038.9,641.9 L1040.7,641.9 L1042.6,641.9 L1044.5,641.9 L1046.5,641.9 L1048.5,634.9 L1050.6,639.9 L1052.5,641.9 L1054.4,641.9 L1056.2,641.9 L1058.1,641.9 L1060.0,641.9 L1061.8,641.9 L1063.7,641.9 L1065.6,641.9 L1067.4,641.9 L1069.3,641.9 L1071.2,641.9 L1073.0,641.9 L1074.9,641.9 L1076.8,641.9 L1078.2,641.9 L1080.1,640.6 L1082.1,629.8 L1084.2,635.5 L1086.1,641.9 L1088.0,641.9 L1089.8,641.9 L1091.4,641.9 L1093.3,624.9 L1095.7,631.0 L1097.6,640.2 L1099.5,640.7 L1101.4,640.1 L1103.3,640.0 L1105.2,640.3 L1107.0,640.7 L1108.9,641.0 L1110.8,641.4 L1112.0,641.6 L1114.0,641.9 L1115.9,641.9 L1117.7,641.9 L1119.6,641.9 L1121.5,641.9 L1123.3,641.9 L1125.2,641.9 L1127.1,641.9 L1128.9,641.9 L1130.8,641.9 L1132.7,641.9 L1134.5,641.9 L1136.4,641.9 L1138.3,641.9 L1140.2,641.9 L1142.0,641.9 L1143.9,641.9 L1145.8,641.9 L1147.6,641.9 L1149.5,641.9 L1151.4,641.9 L1153.2,641.9 L1155.1,641.9 L1157.0,641.9 L1158.8,641.9 L1160.7,641.9 L1162.6,641.9 L1164.4,641.9 L1166.3,641.9 L1168.2,641.9 L1170.0,641.9 L1171.9,641.9 L1173.8,641.9 L1175.6,641.9 L1177.5,641.9 L1179.4,641.9 L1181.2,641.9 L1183.1,641.9 L1185.0,641.9 L1186.9,641.9 L1188.7,641.9 L1190.6,641.9 L1192.4,641.9 L1193.1,633.3 L1195.0,632.6 L1196.0,632.2 L1197.9,632.9 L1199.7,633.6 L1201.6,634.3 L1203.5,635.0 L1205.3,635.7 L1207.2,636.4 L1209.1,637.1 L1210.9,637.8 L1212.8,638.5 L1214.7,639.2 L1216.5,639.9 L1218.4,640.6 L1220.0,641.2 L1222.0,641.9 L1223.9,641.9 L1225.7,641.9 L1227.6,641.9 L1229.5,641.9 L1231.3,641.9 L1233.2,641.9 L1235.7,641.9 L1237.6,640.0 L1239.4,639.5 L1241.3,640.0 L1243.1,640.6 L1245.0,641.2 L1246.0,641.5 L1248.0,641.9 L1249.9,641.9 L1251.7,641.9 L1253.6,641.9 L1255.5,641.9 L1257.3,641.9 L1259.2,641.9 L1261.1,641.9 L1262.9,641.9 L1264.8,641.9 L1266.7,641.9 L1268.5,641.9 L1270.4,641.9 L1272.3,641.9 L1274.2,641.9 L1276.0,641.9 L1277.9,641.9 L1279.8,641.9 L1281.0,641.9 L1283.0,640.8 L1285.6,639.2 L1287.5,639.7 L1289.3,640.1 L1291.2,640.5 L1294.0,641.1 L1296.0,641.9 L1297.9,641.9 L1299.7,641.9 L1301.6,641.9 L1303.5,641.9 L1305.3,641.9 L1307.2,641.9 L1309.1,641.9 L1310.9,641.9 L1312.8,641.9 L1314.7,641.9 L1316.5,641.9 L1318.4,641.9 L1320.3,641.9 L1322.2,641.9 L1324.0,641.9 L1325.9,641.9 L1327.8,641.9 L1329.6,641.9 L1331.5,641.9 L1333.4,641.9 L1335.2,641.9 L1337.1,641.9 L1339.0,641.9 L1340.8,641.9 L1342.7,641.9 L1344.6,641.9 L1346.4,641.9 L1348.3,641.9 L1350.2,641.9 L1352.0,641.9 L1353.9,641.9 L1355.8,641.9 L1357.6,641.9 L1360.4,641.9 L1362.3,635.3 L1364.2,641.0 L1366.0,641.9 L1367.9,641.9 L1369.7,641.9 L1371.6,641.9 L1373.5,641.9 L1375.3,641.9 L1377.2,641.9 L1379.1,641.9 L1380.9,641.9 L1382.8,641.9 L1384.7,641.9 L1386.5,641.9 L1388.4,641.9 L1390.3,641.9 L1392.2,641.9 L1394.0,641.9 L1395.9,641.9 L1397.8,641.9 L1399.6,641.9 L1401.5,641.9 L1403.4,641.9 L1405.2,641.9 L1407.1,641.9 L1409.0,641.9 L1410.8,641.9 L1412.7,641.9 L1414.6,641.9 L1416.4,641.9 L1418.3,641.9 L1420.2,641.9 L1422.0,641.9 L1423.9,641.9 L1425.8,641.9 L1427.6,641.9 L1429.5,641.9 L1431.4,641.9 L1433.2,641.9 L1435.1,641.9 L1437.0,641.9 L1438.9,641.9 L1440.7,641.9 L1442.6,641.9 L1444.5,641.9 L1446.3,641.9 L1448.2,641.9 L1450.1,641.9 L1451.9,641.9 L1453.8,641.9 L1455.7,641.9 L1457.5,641.9 L1459.4,641.9 L1461.3,641.9 L1463.1,641.9 L1465.0,641.9 L1466.9,641.9 L1468.7,641.9 L1470.6,641.9 L1472.5,641.9 L1474.3,641.9 L1476.2,641.9 L1478.1,641.9 L1479.9,641.9 L1481.8,641.9 L1483.7,641.9 L1485.6,641.9 L1487.4,641.9 L1489.3,641.9 L1491.2,641.9 L1493.0,641.9 L1494.9,641.9 L1496.8,641.9 L1498.6,641.9 L1500.5,641.9 L1502.4,641.9 L1504.2,641.9 L1506.1,641.9 L1508.0,641.9 L1509.8,641.9 L1511.7,641.9 L1513.6,641.9 L1515.4,641.9 L1517.3,641.9 L1519.2,641.9 L1521.0,641.9 L1522.9,641.9 L1524.8,641.9 L1526.6,641.9 L1528.5,641.9 L1530.6,641.9 L1532.5,641.6 L1534.0,640.5 L1535.9,640.3 L1537.8,640.4 L1540.0,640.5 L1541.9,640.8 L1543.7,641.0 L1546.5,641.4 L1548.5,641.9 L1550.4,641.9 L1552.2,641.9 L1554.1,641.9 L1556.0,641.9 L1557.8,641.9 L1559.7,641.9 L1561.6,641.9 L1563.4,641.9 L1565.3,641.9 L1567.2,641.9 L1569.0,641.9 L1570.9,641.9 L1572.8,641.9 L1574.7,641.9 L1576.5,641.9 L1578.4,641.9 L1580.3,641.9 L1582.1,641.9 L1584.0,641.9 L1585.9,641.9 L1587.7,641.9 L1589.6,641.9 L1591.5,641.9 L1593.3,641.9 L1595.2,641.9 L1597.1,641.9 L1598.9,641.9 L1600.8,641.9 L1602.7,641.9 L1604.5,641.9 L1606.4,641.9 L1608.3,641.9 L1610.1,641.9 L1612.0,641.9 L1613.9,641.9 L1615.7,641.9 L1617.6,641.9 L1620.0,641.9 L1620.0,641.9 L283.0,641.9 Z" fill="rgba(0,121,182,0.19)" stroke="none"/><path d="M283.0,641.9 L382.2,641.9 L384.1,641.9 L385.9,641.9 L387.2,641.9 L395.0,641.9 L412.1,641.9 L414.0,641.9 L415.8,641.9 L417.7,641.9 L418.9,641.9 L436.0,641.9 L453.0,641.9 L454.9,641.9 L456.7,641.8 L458.6,641.8 L460.5,641.8 L462.3,641.8 L464.2,641.7 L466.1,641.7 L467.9,641.7 L470.0,641.7 L471.9,641.7 L473.7,641.7 L475.6,641.8 L477.5,641.8 L479.3,641.8 L481.2,641.9 L483.0,641.9 L485.2,638.1 L487.1,637.2 L489.4,637.0 L491.3,637.2 L492.5,637.3 L494.4,638.2 L496.2,639.2 L498.1,640.1 L500.4,641.2 L502.6,641.9 L504.6,637.6 L506.5,637.8 L508.3,638.1 L510.2,638.3 L512.1,638.6 L513.9,638.8 L515.8,639.1 L517.7,639.3 L520.0,639.6 L521.9,639.8 L523.7,640.1 L525.6,640.3 L527.5,640.5 L529.3,640.7 L531.2,640.9 L533.1,641.2 L535.5,641.5 L537.5,641.9 L539.4,641.9 L541.2,641.9 L543.1,641.9 L545.0,641.9 L546.8,641.9 L548.7,641.9 L550.6,641.9 L552.4,641.9 L554.3,641.9 L556.2,641.9 L558.0,641.9 L560.0,641.9 L561.9,641.9 L563.7,641.9 L565.6,641.8 L567.5,641.8 L569.3,641.8 L571.2,641.8 L573.1,641.7 L575.0,641.7 L576.9,641.7 L578.7,641.8 L580.6,641.8 L582.5,641.8 L584.3,641.8 L586.2,641.8 L588.1,641.9 L590.0,641.9 L591.9,641.9 L593.7,641.9 L595.6,641.9 L597.5,641.9 L599.3,641.9 L601.2,641.9 L603.1,641.9 L604.9,641.9 L606.8,641.9 L608.7,641.9 L610.5,641.9 L611.5,641.9 L613.4,640.6 L615.3,640.6 L617.5,640.6 L619.3,638.6 L621.2,638.7 L623.0,638.9 L624.9,639.1 L626.8,639.2 L628.6,639.4 L630.5,639.5 L632.4,639.7 L634.2,639.9 L636.1,640.0 L638.0,640.2 L639.8,640.4 L642.0,640.5 L643.2,627.0 L645.1,618.6 L650.3,620.3 L652.7,630.3 L654.6,635.1 L656.5,640.2 L658.4,641.9 L660.3,641.9 L662.1,641.9 L664.0,641.9 L665.9,641.9 L667.7,641.9 L669.6,641.9 L671.5,641.9 L673.3,641.9 L675.2,641.9 L677.1,641.9 L678.9,641.9 L680.6,641.9 L682.5,635.6 L684.4,641.9 L686.3,641.9 L688.1,641.9 L690.0,641.9 L691.9,641.9 L693.4,641.9 L695.3,632.3 L697.2,640.2 L699.3,630.7 L701.2,641.9 L703.1,641.9 L704.9,641.9 L706.8,641.9 L708.7,641.9 L710.5,641.9 L712.4,641.9 L714.3,641.9 L716.1,641.9 L718.0,641.9 L719.9,641.9 L721.7,641.9 L723.6,641.9 L725.5,641.9 L727.4,641.9 L729.2,641.9 L731.1,641.9 L733.0,641.9 L735.5,641.9 L737.2,623.6 L738.6,597.0 L740.6,624.7 L742.5,641.9 L744.4,641.9 L746.2,641.9 L748.1,641.9 L750.0,641.9 L751.8,641.9 L753.7,641.9 L755.6,641.9 L757.4,641.9 L759.3,641.9 L761.2,641.9 L763.0,641.9 L764.9,641.9 L766.8,641.9 L768.7,641.9 L770.5,641.9 L772.4,641.9 L774.3,641.9 L776.1,641.9 L778.0,641.9 L779.9,641.9 L781.7,641.9 L783.6,641.9 L785.5,641.9 L787.3,641.9 L789.2,641.9 L791.1,641.9 L792.9,641.9 L794.8,641.9 L796.7,641.9 L798.5,641.9 L800.4,641.9 L802.3,641.9 L804.1,641.9 L806.0,641.9 L807.9,641.9 L809.7,641.9 L811.6,641.9 L813.5,641.9 L815.4,641.9 L817.2,641.9 L819.5,641.9 L821.3,640.4 L822.2,631.6 L824.1,631.9 L825.9,632.2 L827.8,632.5 L829.7,632.9 L831.5,633.2 L833.4,633.5 L835.0,633.8 L836.9,634.2 L838.7,634.6 L840.6,635.0 L842.5,635.3 L844.3,635.7 L846.2,636.1 L848.0,636.5 L849.9,637.0 L851.7,637.5 L853.6,638.0 L855.5,638.6 L857.0,639.0 L858.9,639.6 L860.7,640.3 L862.6,641.0 L864.0,641.5 L866.0,641.9 L867.9,641.9 L869.7,641.9 L871.6,641.9 L873.5,641.9 L875.3,641.9 L877.2,641.9 L879.1,641.9 L880.9,641.9 L882.8,641.9 L884.7,641.9 L886.5,641.9 L888.4,641.9 L890.3,641.9 L892.2,641.9 L894.0,641.9 L895.9,641.9 L897.8,641.9 L899.6,641.9 L901.5,641.9 L903.4,641.9 L905.2,641.9 L907.1,641.9 L909.0,641.9 L910.8,641.9 L912.2,641.9 L914.0,633.3 L915.9,641.0 L917.8,641.9 L919.7,641.9 L921.5,641.9 L923.4,641.9 L925.3,641.9 L927.1,641.9 L929.0,641.9 L930.9,641.9 L932.7,641.9 L934.6,641.9 L936.5,641.9 L938.3,641.9 L940.2,641.9 L942.1,641.9 L944.2,641.9 L946.0,631.8 L948.9,635.7 L950.8,641.9 L952.7,641.9 L954.5,641.9 L956.4,641.9 L958.3,641.9 L960.1,641.9 L962.0,641.9 L963.9,641.9 L965.7,641.9 L967.6,641.9 L969.5,641.9 L971.3,641.9 L973.2,641.9 L975.1,641.9 L977.0,641.9 L978.8,641.9 L980.7,641.9 L982.6,641.9 L984.4,641.9 L986.3,641.9 L988.2,641.9 L990.0,641.9 L991.9,641.9 L993.8,641.9 L995.6,641.9 L997.5,641.9 L999.4,641.9 L1001.2,641.9 L1003.1,641.9 L1005.0,641.9 L1006.9,641.4 L1009.3,640.9 L1010.9,638.9 L1012.8,639.1 L1014.6,639.3 L1016.5,639.5 L1018.4,639.7 L1020.2,639.9 L1022.1,640.1 L1024.0,640.2 L1025.8,640.4 L1027.7,640.6 L1029.6,640.8 L1031.4,641.0 L1033.3,641.2 L1035.0,641.4 L1037.0,641.9 L1038.9,641.9 L1040.7,641.9 L1042.6,641.9 L1044.5,641.9 L1046.5,641.9 L1048.5,634.9 L1050.6,639.9 L1052.5,641.9 L1054.4,641.9 L1056.2,641.9 L1058.1,641.9 L1060.0,641.9 L1061.8,641.9 L1063.7,641.9 L1065.6,641.9 L1067.4,641.9 L1069.3,641.9 L1071.2,641.9 L1073.0,641.9 L1074.9,641.9 L1076.8,641.9 L1078.2,641.9 L1080.1,640.6 L1082.1,629.8 L1084.2,635.5 L1086.1,641.9 L1088.0,641.9 L1089.8,641.9 L1091.4,641.9 L1093.3,624.9 L1095.7,631.0 L1097.6,640.2 L1099.5,640.7 L1101.4,640.1 L1103.3,640.0 L1105.2,640.3 L1107.0,640.7 L1108.9,641.0 L1110.8,641.4 L1112.0,641.6 L1114.0,641.9 L1115.9,641.9 L1117.7,641.9 L1119.6,641.9 L1121.5,641.9 L1123.3,641.9 L1125.2,641.9 L1127.1,641.9 L1128.9,641.9 L1130.8,641.9 L1132.7,641.9 L1134.5,641.9 L1136.4,641.9 L1138.3,641.9 L1140.2,641.9 L1142.0,641.9 L1143.9,641.9 L1145.8,641.9 L1147.6,641.9 L1149.5,641.9 L1151.4,641.9 L1153.2,641.9 L1155.1,641.9 L1157.0,641.9 L1158.8,641.9 L1160.7,641.9 L1162.6,641.9 L1164.4,641.9 L1166.3,641.9 L1168.2,641.9 L1170.0,641.9 L1171.9,641.9 L1173.8,641.9 L1175.6,641.9 L1177.5,641.9 L1179.4,641.9 L1181.2,641.9 L1183.1,641.9 L1185.0,641.9 L1186.9,641.9 L1188.7,641.9 L1190.6,641.9 L1192.4,641.9 L1193.1,633.3 L1195.0,632.6 L1196.0,632.2 L1197.9,632.9 L1199.7,633.6 L1201.6,634.3 L1203.5,635.0 L1205.3,635.7 L1207.2,636.4 L1209.1,637.1 L1210.9,637.8 L1212.8,638.5 L1214.7,639.2 L1216.5,639.9 L1218.4,640.6 L1220.0,641.2 L1222.0,641.9 L1223.9,641.9 L1225.7,641.9 L1227.6,641.9 L1229.5,641.9 L1231.3,641.9 L1233.2,641.9 L1235.7,641.9 L1237.6,640.0 L1239.4,639.5 L1241.3,640.0 L1243.1,640.6 L1245.0,641.2 L1246.0,641.5 L1248.0,641.9 L1249.9,641.9 L1251.7,641.9 L1253.6,641.9 L1255.5,641.9 L1257.3,641.9 L1259.2,641.9 L1261.1,641.9 L1262.9,641.9 L1264.8,641.9 L1266.7,641.9 L1268.5,641.9 L1270.4,641.9 L1272.3,641.9 L1274.2,641.9 L1276.0,641.9 L1277.9,641.9 L1279.8,641.9 L1281.0,641.9 L1283.0,640.8 L1285.6,639.2 L1287.5,639.7 L1289.3,640.1 L1291.2,640.5 L1294.0,641.1 L1296.0,641.9 L1297.9,641.9 L1299.7,641.9 L1301.6,641.9 L1303.5,641.9 L1305.3,641.9 L1307.2,641.9 L1309.1,641.9 L1310.9,641.9 L1312.8,641.9 L1314.7,641.9 L1316.5,641.9 L1318.4,641.9 L1320.3,641.9 L1322.2,641.9 L1324.0,641.9 L1325.9,641.9 L1327.8,641.9 L1329.6,641.9 L1331.5,641.9 L1333.4,641.9 L1335.2,641.9 L1337.1,641.9 L1339.0,641.9 L1340.8,641.9 L1342.7,641.9 L1344.6,641.9 L1346.4,641.9 L1348.3,641.9 L1350.2,641.9 L1352.0,641.9 L1353.9,641.9 L1355.8,641.9 L1357.6,641.9 L1360.4,641.9 L1362.3,635.3 L1364.2,641.0 L1366.0,641.9 L1367.9,641.9 L1369.7,641.9 L1371.6,641.9 L1373.5,641.9 L1375.3,641.9 L1377.2,641.9 L1379.1,641.9 L1380.9,641.9 L1382.8,641.9 L1384.7,641.9 L1386.5,641.9 L1388.4,641.9 L1390.3,641.9 L1392.2,641.9 L1394.0,641.9 L1395.9,641.9 L1397.8,641.9 L1399.6,641.9 L1401.5,641.9 L1403.4,641.9 L1405.2,641.9 L1407.1,641.9 L1409.0,641.9 L1410.8,641.9 L1412.7,641.9 L1414.6,641.9 L1416.4,641.9 L1418.3,641.9 L1420.2,641.9 L1422.0,641.9 L1423.9,641.9 L1425.8,641.9 L1427.6,641.9 L1429.5,641.9 L1431.4,641.9 L1433.2,641.9 L1435.1,641.9 L1437.0,641.9 L1438.9,641.9 L1440.7,641.9 L1442.6,641.9 L1444.5,641.9 L1446.3,641.9 L1448.2,641.9 L1450.1,641.9 L1451.9,641.9 L1453.8,641.9 L1455.7,641.9 L1457.5,641.9 L1459.4,641.9 L1461.3,641.9 L1463.1,641.9 L1465.0,641.9 L1466.9,641.9 L1468.7,641.9 L1470.6,641.9 L1472.5,641.9 L1474.3,641.9 L1476.2,641.9 L1478.1,641.9 L1479.9,641.9 L1481.8,641.9 L1483.7,641.9 L1485.6,641.9 L1487.4,641.9 L1489.3,641.9 L1491.2,641.9 L1493.0,641.9 L1494.9,641.9 L1496.8,641.9 L1498.6,641.9 L1500.5,641.9 L1502.4,641.9 L1504.2,641.9 L1506.1,641.9 L1508.0,641.9 L1509.8,641.9 L1511.7,641.9 L1513.6,641.9 L1515.4,641.9 L1517.3,641.9 L1519.2,641.9 L1521.0,641.9 L1522.9,641.9 L1524.8,641.9 L1526.6,641.9 L1528.5,641.9 L1530.6,641.9 L1532.5,641.6 L1534.0,640.5 L1535.9,640.3 L1537.8,640.4 L1540.0,640.5 L1541.9,640.8 L1543.7,641.0 L1546.5,641.4 L1548.5,641.9 L1550.4,641.9 L1552.2,641.9 L1554.1,641.9 L1556.0,641.9 L1557.8,641.9 L1559.7,641.9 L1561.6,641.9 L1563.4,641.9 L1565.3,641.9 L1567.2,641.9 L1569.0,641.9 L1570.9,641.9 L1572.8,641.9 L1574.7,641.9 L1576.5,641.9 L1578.4,641.9 L1580.3,641.9 L1582.1,641.9 L1584.0,641.9 L1585.9,641.9 L1587.7,641.9 L1589.6,641.9 L1591.5,641.9 L1593.3,641.9 L1595.2,641.9 L1597.1,641.9 L1598.9,641.9 L1600.8,641.9 L1602.7,641.9 L1604.5,641.9 L1606.4,641.9 L1608.3,641.9 L1610.1,641.9 L1612.0,641.9 L1613.9,641.9 L1615.7,641.9 L1617.6,641.9 L1620.0,641.9" fill="none" stroke="#0079b6" stroke-width="2.0" stroke-linejoin="round"/><path d="M283.0,641.9h0M382.2,641.9h0M384.1,641.9h0M385.9,641.9h0M387.2,641.9h0M395.0,641.9h0M412.1,641.9h0M414.0,641.9h0M415.8,641.9h0M417.7,641.9h0M418.9,641.9h0M436.0,641.9h0M453.0,641.9h0M454.9,641.9h0M456.7,641.8h0M458.6,641.8h0M460.5,641.8h0M462.3,641.8h0M464.2,641.7h0M466.1,641.7h0M467.9,641.7h0M470.0,641.7h0M471.9,641.7h0M473.7,641.7h0M475.6,641.8h0M477.5,641.8h0M479.3,641.8h0M481.2,641.9h0M483.0,641.9h0M485.2,638.1h0M487.1,637.2h0M489.4,637.0h0M491.3,637.2h0M492.5,637.3h0M494.4,638.2h0M496.2,639.2h0M498.1,640.1h0M500.4,641.2h0M502.6,641.9h0M504.6,637.6h0M506.5,637.8h0M508.3,638.1h0M510.2,638.3h0M512.1,638.6h0M513.9,638.8h0M515.8,639.1h0M517.7,639.3h0M520.0,639.6h0M521.9,639.8h0M523.7,640.1h0M525.6,640.3h0M527.5,640.5h0M529.3,640.7h0M531.2,640.9h0M533.1,641.2h0M535.5,641.5h0M537.5,641.9h0M539.4,641.9h0M541.2,641.9h0M543.1,641.9h0M545.0,641.9h0M546.8,641.9h0M548.7,641.9h0M550.6,641.9h0M552.4,641.9h0M554.3,641.9h0M556.2,641.9h0M558.0,641.9h0M560.0,641.9h0M561.9,641.9h0M563.7,641.9h0M565.6,641.8h0M567.5,641.8h0M569.3,641.8h0M571.2,641.8h0M573.1,641.7h0M575.0,641.7h0M576.9,641.7h0M578.7,641.8h0M580.6,641.8h0M582.5,641.8h0M584.3,641.8h0M586.2,641.8h0M588.1,641.9h0M590.0,641.9h0M591.9,641.9h0M593.7,641.9h0M595.6,641.9h0M597.5,641.9h0M599.3,641.9h0M601.2,641.9h0M603.1,641.9h0M604.9,641.9h0M606.8,641.9h0M608.7,641.9h0M610.5,641.9h0M611.5,641.9h0M613.4,640.6h0M615.3,640.6h0M617.5,640.6h0M619.3,638.6h0M621.2,638.7h0M623.0,638.9h0M624.9,639.1h0M626.8,639.2h0M628.6,639.4h0M630.5,639.5h0M632.4,639.7h0M634.2,639.9h0M636.1,640.0h0M638.0,640.2h0M639.8,640.4h0M642.0,640.5h0M643.2,627.0h0M645.1,618.6h0M650.3,620.3h0M652.7,630.3h0M654.6,635.1h0M656.5,640.2h0M658.4,641.9h0M660.3,641.9h0M662.1,641.9h0M664.0,641.9h0M665.9,641.9h0M667.7,641.9h0M669.6,641.9h0M671.5,641.9h0M673.3,641.9h0M675.2,641.9h0M677.1,641.9h0M678.9,641.9h0M680.6,641.9h0M682.5,635.6h0M684.4,641.9h0M686.3,641.9h0M688.1,641.9h0M690.0,641.9h0M691.9,641.9h0M693.4,641.9h0M695.3,632.3h0M697.2,640.2h0M699.3,630.7h0M701.2,641.9h0M703.1,641.9h0M704.9,641.9h0M706.8,641.9h0M708.7,641.9h0M710.5,641.9h0M712.4,641.9h0M714.3,641.9h0M716.1,641.9h0M718.0,641.9h0M719.9,641.9h0M721.7,641.9h0M723.6,641.9h0M725.5,641.9h0M727.4,641.9h0M729.2,641.9h0M731.1,641.9h0M733.0,641.9h0M735.5,641.9h0M737.2,623.6h0M738.6,597.0h0M740.6,624.7h0M742.5,641.9h0M744.4,641.9h0M746.2,641.9h0M748.1,641.9h0M750.0,641.9h0M751.8,641.9h0M753.7,641.9h0M755.6,641.9h0M757.4,641.9h0M759.3,641.9h0M761.2,641.9h0M763.0,641.9h0M764.9,641.9h0M766.8,641.9h0M768.7,641.9h0M770.5,641.9h0M772.4,641.9h0M774.3,641.9h0M776.1,641.9h0M778.0,641.9h0M779.9,641.9h0M781.7,641.9h0M783.6,641.9h0M785.5,641.9h0M787.3,641.9h0M789.2,641.9h0M791.1,641.9h0M792.9,641.9h0M794.8,641.9h0M796.7,641.9h0M798.5,641.9h0M800.4,641.9h0M802.3,641.9h0M804.1,641.9h0M806.0,641.9h0M807.9,641.9h0M809.7,641.9h0M811.6,641.9h0M813.5,641.9h0M815.4,641.9h0M817.2,641.9h0M819.5,641.9h0M821.3,640.4h0M822.2,631.6h0M824.1,631.9h0M825.9,632.2h0M827.8,632.5h0M829.7,632.9h0M831.5,633.2h0M833.4,633.5h0M835.0,633.8h0M836.9,634.2h0M838.7,634.6h0M840.6,635.0h0M842.5,635.3h0M844.3,635.7h0M846.2,636.1h0M848.0,636.5h0M849.9,637.0h0M851.7,637.5h0M853.6,638.0h0M855.5,638.6h0M857.0,639.0h0M858.9,639.6h0M860.7,640.3h0M862.6,641.0h0M864.0,641.5h0M866.0,641.9h0M867.9,641.9h0M869.7,641.9h0M871.6,641.9h0M873.5,641.9h0M875.3,641.9h0M877.2,641.9h0M879.1,641.9h0M880.9,641.9h0M882.8,641.9h0M884.7,641.9h0M886.5,641.9h0M888.4,641.9h0M890.3,641.9h0M892.2,641.9h0M894.0,641.9h0M895.9,641.9h0M897.8,641.9h0M899.6,641.9h0M901.5,641.9h0M903.4,641.9h0M905.2,641.9h0M907.1,641.9h0M909.0,641.9h0M910.8,641.9h0M912.2,641.9h0M914.0,633.3h0M915.9,641.0h0M917.8,641.9h0M919.7,641.9h0M921.5,641.9h0M923.4,641.9h0M925.3,641.9h0M927.1,641.9h0M929.0,641.9h0M930.9,641.9h0M932.7,641.9h0M934.6,641.9h0M936.5,641.9h0M938.3,641.9h0M940.2,641.9h0M942.1,641.9h0M944.2,641.9h0M946.0,631.8h0M948.9,635.7h0M950.8,641.9h0M952.7,641.9h0M954.5,641.9h0M956.4,641.9h0M958.3,641.9h0M960.1,641.9h0M962.0,641.9h0M963.9,641.9h0M965.7,641.9h0M967.6,641.9h0M969.5,641.9h0M971.3,641.9h0M973.2,641.9h0M975.1,641.9h0M977.0,641.9h0M978.8,641.9h0M980.7,641.9h0M982.6,641.9h0M984.4,641.9h0M986.3,641.9h0M988.2,641.9h0M990.0,641.9h0M991.9,641.9h0M993.8,641.9h0M995.6,641.9h0M997.5,641.9h0M999.4,641.9h0M1001.2,641.9h0M1003.1,641.9h0M1005.0,641.9h0M1006.9,641.4h0M1009.3,640.9h0M1010.9,638.9h0M1012.8,639.1h0M1014.6,639.3h0M1016.5,639.5h0M1018.4,639.7h0M1020.2,639.9h0M1022.1,640.1h0M1024.0,640.2h0M1025.8,640.4h0M1027.7,640.6h0M1029.6,640.8h0M1031.4,641.0h0M1033.3,641.2h0M1035.0,641.4h0M1037.0,641.9h0M1038.9,641.9h0M1040.7,641.9h0M1042.6,641.9h0M1044.5,641.9h0M1046.5,641.9h0M1048.5,634.9h0M1050.6,639.9h0M1052.5,641.9h0M1054.4,641.9h0M1056.2,641.9h0M1058.1,641.9h0M1060.0,641.9h0M1061.8,641.9h0M1063.7,641.9h0M1065.6,641.9h0M1067.4,641.9h0M1069.3,641.9h0M1071.2,641.9h0M1073.0,641.9h0M1074.9,641.9h0M1076.8,641.9h0M1078.2,641.9h0M1080.1,640.6h0M1082.1,629.8h0M1084.2,635.5h0M1086.1,641.9h0M1088.0,641.9h0M1089.8,641.9h0M1091.4,641.9h0M1093.3,624.9h0M1095.7,631.0h0M1097.6,640.2h0M1099.5,640.7h0M1101.4,640.1h0M1103.3,640.0h0M1105.2,640.3h0M1107.0,640.7h0M1108.9,641.0h0M1110.8,641.4h0M1112.0,641.6h0M1114.0,641.9h0M1115.9,641.9h0M1117.7,641.9h0M1119.6,641.9h0M1121.5,641.9h0M1123.3,641.9h0M1125.2,641.9h0M1127.1,641.9h0M1128.9,641.9h0M1130.8,641.9h0M1132.7,641.9h0M1134.5,641.9h0M1136.4,641.9h0M1138.3,641.9h0M1140.2,641.9h0M1142.0,641.9h0M1143.9,641.9h0M1145.8,641.9h0M1147.6,641.9h0M1149.5,641.9h0M1151.4,641.9h0M1153.2,641.9h0M1155.1,641.9h0M1157.0,641.9h0M1158.8,641.9h0M1160.7,641.9h0M1162.6,641.9h0M1164.4,641.9h0M1166.3,641.9h0M1168.2,641.9h0M1170.0,641.9h0M1171.9,641.9h0M1173.8,641.9h0M1175.6,641.9h0M1177.5,641.9h0M1179.4,641.9h0M1181.2,641.9h0M1183.1,641.9h0M1185.0,641.9h0M1186.9,641.9h0M1188.7,641.9h0M1190.6,641.9h0M1192.4,641.9h0M1193.1,633.3h0M1195.0,632.6h0M1196.0,632.2h0M1197.9,632.9h0M1199.7,633.6h0M1201.6,634.3h0M1203.5,635.0h0M1205.3,635.7h0M1207.2,636.4h0M1209.1,637.1h0M1210.9,637.8h0M1212.8,638.5h0M1214.7,639.2h0M1216.5,639.9h0M1218.4,640.6h0M1220.0,641.2h0M1222.0,641.9h0M1223.9,641.9h0M1225.7,641.9h0M1227.6,641.9h0M1229.5,641.9h0M1231.3,641.9h0M1233.2,641.9h0M1235.7,641.9h0M1237.6,640.0h0M1239.4,639.5h0M1241.3,640.0h0M1243.1,640.6h0M1245.0,641.2h0M1246.0,641.5h0M1248.0,641.9h0M1249.9,641.9h0M1251.7,641.9h0M1253.6,641.9h0M1255.5,641.9h0M1257.3,641.9h0M1259.2,641.9h0M1261.1,641.9h0M1262.9,641.9h0M1264.8,641.9h0M1266.7,641.9h0M1268.5,641.9h0M1270.4,641.9h0M1272.3,641.9h0M1274.2,641.9h0M1276.0,641.9h0M1277.9,641.9h0M1279.8,641.9h0M1281.0,641.9h0M1283.0,640.8h0M1285.6,639.2h0M1287.5,639.7h0M1289.3,640.1h0M1291.2,640.5h0M1294.0,641.1h0M1296.0,641.9h0M1297.9,641.9h0M1299.7,641.9h0M1301.6,641.9h0M1303.5,641.9h0M1305.3,641.9h0M1307.2,641.9h0M1309.1,641.9h0M1310.9,641.9h0M1312.8,641.9h0M1314.7,641.9h0M1316.5,641.9h0M1318.4,641.9h0M1320.3,641.9h0M1322.2,641.9h0M1324.0,641.9h0M1325.9,641.9h0M1327.8,641.9h0M1329.6,641.9h0M1331.5,641.9h0M1333.4,641.9h0M1335.2,641.9h0M1337.1,641.9h0M1339.0,641.9h0M1340.8,641.9h0M1342.7,641.9h0M1344.6,641.9h0M1346.4,641.9h0M1348.3,641.9h0M1350.2,641.9h0M1352.0,641.9h0M1353.9,641.9h0M1355.8,641.9h0M1357.6,641.9h0M1360.4,641.9h0M1362.3,635.3h0M1364.2,641.0h0M1366.0,641.9h0M1367.9,641.9h0M1369.7,641.9h0M1371.6,641.9h0M1373.5,641.9h0M1375.3,641.9h0M1377.2,641.9h0M1379.1,641.9h0M1380.9,641.9h0M1382.8,641.9h0M1384.7,641.9h0M1386.5,641.9h0M1388.4,641.9h0M1390.3,641.9h0M1392.2,641.9h0M1394.0,641.9h0M1395.9,641.9h0M1397.8,641.9h0M1399.6,641.9h0M1401.5,641.9h0M1403.4,641.9h0M1405.2,641.9h0M1407.1,641.9h0M1409.0,641.9h0M1410.8,641.9h0M1412.7,641.9h0M1414.6,641.9h0M1416.4,641.9h0M1418.3,641.9h0M1420.2,641.9h0M1422.0,641.9h0M1423.9,641.9h0M1425.8,641.9h0M1427.6,641.9h0M1429.5,641.9h0M1431.4,641.9h0M1433.2,641.9h0M1435.1,641.9h0M1437.0,641.9h0M1438.9,641.9h0M1440.7,641.9h0M1442.6,641.9h0M1444.5,641.9h0M1446.3,641.9h0M1448.2,641.9h0M1450.1,641.9h0M1451.9,641.9h0M1453.8,641.9h0M1455.7,641.9h0M1457.5,641.9h0M1459.4,641.9h0M1461.3,641.9h0M1463.1,641.9h0M1465.0,641.9h0M1466.9,641.9h0M1468.7,641.9h0M1470.6,641.9h0M1472.5,641.9h0M1474.3,641.9h0M1476.2,641.9h0M1478.1,641.9h0M1479.9,641.9h0M1481.8,641.9h0M1483.7,641.9h0M1485.6,641.9h0M1487.4,641.9h0M1489.3,641.9h0M1491.2,641.9h0M1493.0,641.9h0M1494.9,641.9h0M1496.8,641.9h0M1498.6,641.9h0M1500.5,641.9h0M1502.4,641.9h0M1504.2,641.9h0M1506.1,641.9h0M1508.0,641.9h0M1509.8,641.9h0M1511.7,641.9h0M1513.6,641.9h0M1515.4,641.9h0M1517.3,641.9h0M1519.2,641.9h0M1521.0,641.9h0M1522.9,641.9h0M1524.8,641.9h0M1526.6,641.9h0M1528.5,641.9h0M1530.6,641.9h0M1532.5,641.6h0M1534.0,640.5h0M1535.9,640.3h0M1537.8,640.4h0M1540.0,640.5h0M1541.9,640.8h0M1543.7,641.0h0M1546.5,641.4h0M1548.5,641.9h0M1550.4,641.9h0M1552.2,641.9h0M1554.1,641.9h0M1556.0,641.9h0M1557.8,641.9h0M1559.7,641.9h0M1561.6,641.9h0M1563.4,641.9h0M1565.3,641.9h0M1567.2,641.9h0M1569.0,641.9h0M1570.9,641.9h0M1572.8,641.9h0M1574.7,641.9h0M1576.5,641.9h0M1578.4,641.9h0M1580.3,641.9h0M1582.1,641.9h0M1584.0,641.9h0M1585.9,641.9h0M1587.7,641.9h0M1589.6,641.9h0M1591.5,641.9h0M1593.3,641.9h0M1595.2,641.9h0M1597.1,641.9h0M1598.9,641.9h0M1600.8,641.9h0M1602.7,641.9h0M1604.5,641.9h0M1606.4,641.9h0M1608.3,641.9h0M1610.1,641.9h0M1612.0,641.9h0M1613.9,641.9h0M1615.7,641.9h0M1617.6,641.9h0M1620.0,641.9h0" fill="none" stroke="#0079b6" stroke-width="6.0" stroke-linecap="round"/></g><rect x="280.6" y="606.6" width="4" height="23.6" rx="1" fill="#fff" stroke="#333" stroke-width="1"/><rect x="1618.5" y="606.6" width="4" height="23.6" rx="1" fill="#fff" stroke="#333" stroke-width="1"/><rect x="1651.6" y="366.5" width="30.4" height="6" fill="rgba(0,121,182,0.19)"/><path d="M1651.6,366.5H1682" stroke="#0079b6" stroke-width="2"/><circle cx="1666.6" cy="366.5" r="3.2" fill="#0079b6"/><rect x="1651.6" y="385.4" width="30.4" height="6" fill="rgba(0,151,211,0.19)"/><path d="M1651.6,385.4H1682" stroke="#0097d3" stroke-width="2"/><circle cx="1666.6" cy="385.4" r="3.2" fill="#0097d3"/></svg>
<div class="a" style="left:282.30px;top:540.04px;font-size:12px;line-height:12px;color:#444;letter-spacing:0.5px;transform:translateX(-100%);">0</div><div class="a" style="left:282.30px;top:494.54px;font-size:12px;line-height:12px;color:#444;letter-spacing:0.5px;transform:translateX(-100%);">5k</div><div class="a" style="left:282.30px;top:447.54px;font-size:12px;line-height:12px;color:#444;letter-spacing:0.5px;transform:translateX(-100%);">10k</div><div class="a" style="left:282.30px;top:401.54px;font-size:12px;line-height:12px;color:#444;letter-spacing:0.5px;transform:translateX(-100%);">15k</div><div class="a" style="left:282.30px;top:354.54px;font-size:12px;line-height:12px;color:#444;letter-spacing:0.5px;transform:translateX(-100%);">20k</div><div class="a" style="left:297.80px;top:549.54px;font-size:12px;line-height:12px;color:#444;letter-spacing:0.5px;transform:translateX(-50%);">Feb 13</div><div class="a" style="left:432.80px;top:549.54px;font-size:12px;line-height:12px;color:#444;letter-spacing:0.5px;transform:translateX(-50%);">Feb 16</div><div class="a" style="left:566.80px;top:549.54px;font-size:12px;line-height:12px;color:#444;letter-spacing:0.5px;transform:translateX(-50%);">Feb 19</div><div class="a" style="left:701.80px;top:549.54px;font-size:12px;line-height:12px;color:#444;letter-spacing:0.5px;transform:translateX(-50%);">Feb 22</div><div class="a" style="left:835.80px;top:549.54px;font-size:12px;line-height:12px;color:#444;letter-spacing:0.5px;transform:translateX(-50%);">Feb 25</div><div class="a" style="left:969.80px;top:549.54px;font-size:12px;line-height:12px;color:#444;letter-spacing:0.5px;transform:translateX(-50%);">Feb 28</div><div class="a" style="left:1104.80px;top:549.54px;font-size:12px;line-height:12px;color:#444;letter-spacing:0.5px;transform:translateX(-50%);">Mar 2</div><div class="a" style="left:1238.80px;top:549.54px;font-size:12px;line-height:12px;color:#444;letter-spacing:0.5px;transform:translateX(-50%);">Mar 5</div><div class="a" style="left:1373.80px;top:549.54px;font-size:12px;line-height:12px;color:#444;letter-spacing:0.5px;transform:translateX(-50%);">Mar 8</div><div class="a" style="left:1507.80px;top:549.54px;font-size:12px;line-height:12px;color:#444;letter-spacing:0.5px;transform:translateX(-50%);">Mar 11</div><div class="a" style="left:298.00px;top:565.64px;font-size:12px;line-height:12px;color:#444;letter-spacing:0.5px;transform:translateX(-50%);">2024</div><div class="a" style="left:240.6px;top:449.2px;font-size:14px;line-height:14px;color:#444;letter-spacing:0.95px;transform:translate(-50%,-50%) rotate(-90deg)">Number of gpus</div><div class="a" style="left:1687.50px;top:360.54px;font-size:12px;line-height:12px;color:#444;letter-spacing:0.55px;">Waiting</div><div class="a" style="left:1687.50px;top:379.74px;font-size:12px;line-height:12px;color:#444;letter-spacing:0.55px;">Running</div>
<svg class="a" style="left:0;top:0" width="1906" height="839"><rect x="812.3" y="434.2" width="48.7" height="36.5" fill="rgba(255,255,255,0.72)"/><rect x="812.3" y="525.0" width="54.1" height="38.3" fill="rgba(255,255,255,0.72)"/><path d="M645.2,547.6 l6,6 H706.2 V573.6 H585.2 V553.6 H639.2 z" fill="#444" stroke="#fff" stroke-width="1"/></svg><div class="a" style="left:587.90px;top:556.50px;font-size:13px;line-height:13px;color:#fff;">Feb 20, 2024, 18:00</div><svg class="a" style="left:0;top:0" width="1906" height="839"><path d="M648.3,544.6 l6,-6 V525.9 H812.2 V563.3 H654.3 V550.6 z" fill="#0097d3" stroke="#444" stroke-width="1"/><path d="M649,452.5 l6,-6 V434.2 H811.5 V471.2 H655 V458.5 z" fill="#0079b6" stroke="#fff" stroke-width="1"/></svg><div class="a" style="left:658.00px;top:529.70px;font-size:13px;line-height:13px;color:#444;"><b>Date</b>: Feb 20, 2024, 18:00</div><div class="a" style="left:658.00px;top:546.40px;font-size:13px;line-height:13px;color:#444;"><b>Running</b>: 116</div><div class="a" style="left:657.80px;top:437.70px;font-size:13px;line-height:13px;color:#fff;"><b>Date</b>: Feb 20, 2024, 18:00</div><div class="a" style="left:657.80px;top:454.70px;font-size:13px;line-height:13px;color:#fff;"><b>Waiting</b>: 10019</div><div class="a" style="left:815.00px;top:420.80px;font-size:13px;line-height:13px;color:#0079b6;">Waiting</div><div class="a" style="left:815.90px;top:512.60px;font-size:13px;line-height:13px;color:#0097d3;">Running</div>
<div class="a" style="left:361px;top:731px;width:1263px;height:50px;background:#f2f2f2"></div><div class="a" style="left:361px;top:678px;width:1263px;height:2px;background:#d4dadf"></div><div class="a" style="left:361px;top:730px;width:1263px;height:2px;background:#d4dadf"></div><div class="a" style="left:361px;top:781px;width:1263px;height:1px;background:#dee2e6"></div><div class="a" style="left:361px;top:832px;width:1263px;height:1px;background:#dee2e6"></div><div class="a" style="left:361.0px;top:678px;width:1px;height:155px;background:#dee2e6"></div><div class="a" style="left:467.0px;top:678px;width:1px;height:155px;background:#dee2e6"></div><div class="a" style="left:554.0px;top:678px;width:1px;height:155px;background:#dee2e6"></div><div class="a" style="left:639.0px;top:678px;width:1px;height:155px;background:#dee2e6"></div><div class="a" style="left:733.0px;top:678px;width:1px;height:155px;background:#dee2e6"></div><div class="a" style="left:802.0px;top:678px;width:1px;height:155px;background:#dee2e6"></div><div class="a" style="left:875.0px;top:678px;width:1px;height:155px;background:#dee2e6"></div><div class="a" style="left:948.0px;top:678px;width:1px;height:155px;background:#dee2e6"></div><div class="a" style="left:1021.0px;top:678px;width:1px;height:155px;background:#dee2e6"></div><div class="a" style="left:1094.0px;top:678px;width:1px;height:155px;background:#dee2e6"></div><div class="a" style="left:1196.0px;top:678px;width:1px;height:155px;background:#dee2e6"></div><div class="a" style="left:1270.0px;top:678px;width:1px;height:155px;background:#dee2e6"></div><div class="a" style="left:1343.0px;top:678px;width:1px;height:155px;background:#dee2e6"></div><div class="a" style="left:1426.0px;top:678px;width:1px;height:155px;background:#dee2e6"></div><div class="a" style="left:1519.0px;top:678px;width:1px;height:155px;background:#dee2e6"></div><div class="a" style="left:1623.0px;top:678px;width:1px;height:155px;background:#dee2e6"></div><div class="a" style="left:373.70px;top:748.95px;font-size:14px;line-height:14px;color:#212529;">Running</div><div class="a" style="left:373.70px;top:798.75px;font-size:14px;line-height:14px;color:#212529;">Waiting</div><div class="a" style="left:479.70px;top:697.25px;font-size:14px;line-height:14px;color:#212529;font-weight:700;">count</div><div class="a" style="left:479.70px;top:748.95px;font-size:14px;line-height:14px;color:#212529;">628</div><div class="a" style="left:479.70px;top:798.75px;font-size:14px;line-height:14px;color:#212529;">632</div><div class="a" style="left:566.70px;top:697.25px;font-size:14px;line-height:14px;color:#212529;font-weight:700;">mean</div><div class="a" style="left:566.70px;top:748.95px;font-size:14px;line-height:14px;color:#212529;">36.3</div><div class="a" style="left:566.70px;top:798.75px;font-size:14px;line-height:14px;color:#212529;">457.7</div><div class="a" style="left:651.70px;top:697.25px;font-size:14px;line-height:14px;color:#212529;font-weight:700;">std</div><div class="a" style="left:651.70px;top:748.95px;font-size:14px;line-height:14px;color:#212529;">36.9</div><div class="a" style="left:651.70px;top:798.75px;font-size:14px;line-height:14px;color:#212529;">1466.5</div><div class="a" style="left:745.70px;top:697.25px;font-size:14px;line-height:14px;color:#212529;font-weight:700;">min</div><div class="a" style="left:745.70px;top:748.95px;font-size:14px;line-height:14px;color:#212529;">0</div><div class="a" style="left:745.70px;top:798.75px;font-size:14px;line-height:14px;color:#212529;">0</div><div class="a" style="left:814.70px;top:697.25px;font-size:14px;line-height:14px;color:#212529;font-weight:700;">10%</div><div class="a" style="left:814.70px;top:748.95px;font-size:14px;line-height:14px;color:#212529;">5</div><div class="a" style="left:814.70px;top:798.75px;font-size:14px;line-height:14px;color:#212529;">0.1</div><div class="a" style="left:887.70px;top:697.25px;font-size:14px;line-height:14px;color:#212529;font-weight:700;">20%</div><div class="a" style="left:887.70px;top:748.95px;font-size:14px;line-height:14px;color:#212529;">7</div><div class="a" style="left:887.70px;top:798.75px;font-size:14px;line-height:14px;color:#212529;">0.1</div><div class="a" style="left:960.70px;top:697.25px;font-size:14px;line-height:14px;color:#212529;font-weight:700;">30%</div><div class="a" style="left:960.70px;top:748.95px;font-size:14px;line-height:14px;color:#212529;">9</div><div class="a" style="left:960.70px;top:798.75px;font-size:14px;line-height:14px;color:#212529;">0.1</div><div class="a" style="left:1033.70px;top:697.25px;font-size:14px;line-height:14px;color:#212529;font-weight:700;">40%</div><div class="a" style="left:1033.70px;top:748.95px;font-size:14px;line-height:14px;color:#212529;">12.1</div><div class="a" style="left:1033.70px;top:798.75px;font-size:14px;line-height:14px;color:#212529;">0.1</div><div class="a" style="left:1106.70px;top:697.25px;font-size:14px;line-height:14px;color:#212529;font-weight:700;">median</div><div class="a" style="left:1106.70px;top:748.95px;font-size:14px;line-height:14px;color:#212529;">23.8</div><div class="a" style="left:1106.70px;top:798.75px;font-size:14px;line-height:14px;color:#212529;">0.1</div><div class="a" style="left:1208.70px;top:697.25px;font-size:14px;line-height:14px;color:#212529;font-weight:700;">60%</div><div class="a" style="left:1208.70px;top:748.95px;font-size:14px;line-height:14px;color:#212529;">29</div><div class="a" style="left:1208.70px;top:798.75px;font-size:14px;line-height:14px;color:#212529;">0.1</div><div class="a" style="left:1282.70px;top:697.25px;font-size:14px;line-height:14px;color:#212529;font-weight:700;">70%</div><div class="a" style="left:1282.70px;top:748.95px;font-size:14px;line-height:14px;color:#212529;">40.9</div><div class="a" style="left:1282.70px;top:798.75px;font-size:14px;line-height:14px;color:#212529;">5.5</div><div class="a" style="left:1355.70px;top:697.25px;font-size:14px;line-height:14px;color:#212529;font-weight:700;">80%</div><div class="a" style="left:1355.70px;top:748.95px;font-size:14px;line-height:14px;color:#212529;">85.8</div><div class="a" style="left:1355.70px;top:798.75px;font-size:14px;line-height:14px;color:#212529;">331.7</div><div class="a" style="left:1438.70px;top:697.25px;font-size:14px;line-height:14px;color:#212529;font-weight:700;">90%</div><div class="a" style="left:1438.70px;top:748.95px;font-size:14px;line-height:14px;color:#212529;">105.5</div><div class="a" style="left:1438.70px;top:798.75px;font-size:14px;line-height:14px;color:#212529;">1228.3</div><div class="a" style="left:1531.70px;top:697.25px;font-size:14px;line-height:14px;color:#212529;font-weight:700;">max</div><div class="a" style="left:1531.70px;top:748.95px;font-size:14px;line-height:14px;color:#212529;">115.8</div><div class="a" style="left:1531.70px;top:798.75px;font-size:14px;line-height:14px;color:#212529;">19396.5</div>
<div class="a" style="left:248px;top:850px;width:1422px;height:200px;border-radius:80px;box-shadow:0 0 40px 0 rgba(0,0,0,0.34)"></div><div class="a" style="left:1904px;top:61px;width:2px;height:2px;background:#333"></div>
</body></html>
